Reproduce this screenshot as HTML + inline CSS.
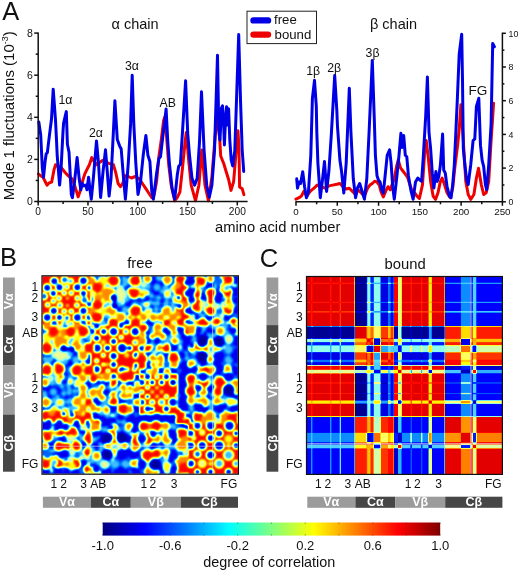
<!DOCTYPE html>
<html><head><meta charset="utf-8"><style>
html,body{margin:0;padding:0;background:#fff;width:520px;height:573px;overflow:hidden}
svg{display:block;will-change:transform}
text{font-family:"Liberation Sans",sans-serif}
</style></head><body><svg width="520" height="573" viewBox="0 0 520 573"><defs><linearGradient id="cbar" x1="0" x2="1" y1="0" y2="0"><stop offset="0.0000" stop-color="rgb(0,0,127)"/><stop offset="0.0312" stop-color="rgb(0,0,159)"/><stop offset="0.0625" stop-color="rgb(0,0,191)"/><stop offset="0.0938" stop-color="rgb(0,0,223)"/><stop offset="0.1250" stop-color="rgb(0,0,255)"/><stop offset="0.1562" stop-color="rgb(0,31,255)"/><stop offset="0.1875" stop-color="rgb(0,63,255)"/><stop offset="0.2188" stop-color="rgb(0,95,255)"/><stop offset="0.2500" stop-color="rgb(0,127,255)"/><stop offset="0.2812" stop-color="rgb(0,159,255)"/><stop offset="0.3125" stop-color="rgb(0,191,255)"/><stop offset="0.3438" stop-color="rgb(0,223,255)"/><stop offset="0.3750" stop-color="rgb(0,255,255)"/><stop offset="0.4062" stop-color="rgb(31,255,223)"/><stop offset="0.4375" stop-color="rgb(63,255,191)"/><stop offset="0.4688" stop-color="rgb(95,255,159)"/><stop offset="0.5000" stop-color="rgb(127,255,127)"/><stop offset="0.5312" stop-color="rgb(159,255,95)"/><stop offset="0.5625" stop-color="rgb(191,255,63)"/><stop offset="0.5938" stop-color="rgb(223,255,31)"/><stop offset="0.6250" stop-color="rgb(255,255,0)"/><stop offset="0.6562" stop-color="rgb(255,223,0)"/><stop offset="0.6875" stop-color="rgb(255,191,0)"/><stop offset="0.7188" stop-color="rgb(255,159,0)"/><stop offset="0.7500" stop-color="rgb(255,127,0)"/><stop offset="0.7812" stop-color="rgb(255,95,0)"/><stop offset="0.8125" stop-color="rgb(255,63,0)"/><stop offset="0.8438" stop-color="rgb(255,31,0)"/><stop offset="0.8750" stop-color="rgb(255,0,0)"/><stop offset="0.9062" stop-color="rgb(223,0,0)"/><stop offset="0.9375" stop-color="rgb(191,0,0)"/><stop offset="0.9688" stop-color="rgb(159,0,0)"/><stop offset="1.0000" stop-color="rgb(127,0,0)"/></linearGradient><filter id="jetC" filterUnits="userSpaceOnUse" x="301.0" y="271.0" width="206.89999999999998" height="208.89999999999998" color-interpolation-filters="sRGB">
<feGaussianBlur stdDeviation="0.55"/>
<feComponentTransfer>
<feFuncR type="table" tableValues="0 0 0 0.5 1 1 1 1 0.5"/>
<feFuncG type="table" tableValues="0 0 0.5 1 1 1 0.5 0 0"/>
<feFuncB type="table" tableValues="0.5 1 1 1 0.5 0 0 0 0"/>
<feFuncA type="table" tableValues="1 1"/>
</feComponentTransfer></filter><clipPath id="clipC"><rect x="307.0" y="277.0" width="194.90" height="196.90"/></clipPath><radialGradient id="gN"><stop offset="0" stop-color="rgb(8,8,8)"/><stop offset="0.6" stop-color="rgb(8,8,8)"/><stop offset="1" stop-color="rgb(8,8,8)" stop-opacity="0"/></radialGradient><radialGradient id="gB"><stop offset="0" stop-color="rgb(28,28,28)"/><stop offset="0.6" stop-color="rgb(28,28,28)"/><stop offset="1" stop-color="rgb(28,28,28)" stop-opacity="0"/></radialGradient><radialGradient id="gL"><stop offset="0" stop-color="rgb(56,56,56)"/><stop offset="0.6" stop-color="rgb(56,56,56)"/><stop offset="1" stop-color="rgb(56,56,56)" stop-opacity="0"/></radialGradient><radialGradient id="gC"><stop offset="0" stop-color="rgb(79,79,79)"/><stop offset="0.6" stop-color="rgb(79,79,79)"/><stop offset="1" stop-color="rgb(79,79,79)" stop-opacity="0"/></radialGradient><radialGradient id="gG"><stop offset="0" stop-color="rgb(122,122,122)"/><stop offset="0.6" stop-color="rgb(122,122,122)"/><stop offset="1" stop-color="rgb(122,122,122)" stop-opacity="0"/></radialGradient><radialGradient id="gY"><stop offset="0" stop-color="rgb(158,158,158)"/><stop offset="0.6" stop-color="rgb(158,158,158)"/><stop offset="1" stop-color="rgb(158,158,158)" stop-opacity="0"/></radialGradient><radialGradient id="gO"><stop offset="0" stop-color="rgb(189,189,189)"/><stop offset="0.6" stop-color="rgb(189,189,189)"/><stop offset="1" stop-color="rgb(189,189,189)" stop-opacity="0"/></radialGradient><radialGradient id="gR"><stop offset="0" stop-color="rgb(222,222,222)"/><stop offset="0.6" stop-color="rgb(222,222,222)"/><stop offset="1" stop-color="rgb(222,222,222)" stop-opacity="0"/></radialGradient><filter id="jetB" filterUnits="userSpaceOnUse" x="36.5" y="270.3" width="207.4" height="209.39999999999998" color-interpolation-filters="sRGB">
<feGaussianBlur stdDeviation="0.8"/>
<feComponentTransfer>
<feFuncR type="table" tableValues="0 0 0 0.5 1 1 1 1 0.5"/>
<feFuncG type="table" tableValues="0 0 0.5 1 1 1 0.5 0 0"/>
<feFuncB type="table" tableValues="0.5 1 1 1 0.5 0 0 0 0"/>
<feFuncA type="table" tableValues="1 1"/>
</feComponentTransfer></filter><clipPath id="clipB"><rect x="42.5" y="276.3" width="195.40" height="197.40"/></clipPath><filter id="jetB2" filterUnits="userSpaceOnUse" x="36.5" y="270.3" width="207.4" height="209.39999999999998" color-interpolation-filters="sRGB">
<feGaussianBlur stdDeviation="1.6"/>
<feComponentTransfer>
<feFuncR type="table" tableValues="0 0 0 0.5 1 1 1 1 0.5"/>
<feFuncG type="table" tableValues="0 0 0.5 1 1 1 0.5 0 0"/>
<feFuncB type="table" tableValues="0.5 1 1 1 0.5 0 0 0 0"/>

</feComponentTransfer></filter></defs><polyline points="38.4,174.1 40.7,175.7 43.1,177.3 45.4,182 47,185.1 49.3,182.8 51.7,182 54.1,169.4 55.6,164.7 58,166.3 60.3,167 62.7,169.4 65.1,172.5 67.4,174.9 69.8,177.3 72.1,178.8 74.5,185.1 76.5,191.4 78.1,196.9 80,191.4 82.3,182 84.7,174.1 87,169.4 89.4,164.7 91.8,157.6 94.1,161.5 96.5,164.7 98.8,163.1 102,160.8 104.7,160 107.9,163.1 113.4,164.7 115.7,172.5 118.1,183.5 120.4,186.7 122.8,183.5 125.1,175.7 128.3,176.5 131.4,178 135.3,176.5 139.3,178.8 142.4,183.5 145.5,188.2 148.7,193 151.8,197.7 154.2,194.5 156.5,182 158.9,156.8 161.3,139.6 163.6,120.7 164.8,117 166.5,135 168.7,164.5 171.2,185.2 174.7,200.8 177.3,197.3 179.9,192.1 182.5,167.9 185.1,142 186.3,132.4 188.6,159.3 191.2,185.2 195.5,200.8 198.9,185.2 201.8,150 205,185.2 208.5,200.8 211.9,176.6 215.4,133.3 217.3,108 219.9,141.8 220.7,156 223.8,163.8 226.2,171.7 228.6,179.5 231,190.4 233.6,181.8 236.2,150.6 238,130.8 239,150 239.6,187 242.2,188.7 243.9,194.7" fill="none" stroke="#ee0000" stroke-width="3.0" stroke-linejoin="round" stroke-linecap="round"/><polyline points="38.8,122 40.7,134.8 42.3,167.8 43.5,177.3 45.1,161.5 46.2,153.7 47.3,152.9 49.3,136.4 51.5,119 53.2,89.2 55.5,120 56.5,140 57.2,155.3 59.6,185.1 61.1,167.8 63,131.7 63.6,123 64.3,120 66.3,111.6 67.4,144.3 69,152.1 71.3,194.5 72.4,197.7 74.5,182 77.1,157.6 79.2,178.8 80.8,189.8 82.3,183.5 83.9,185.9 85.9,185.1 87,189.8 88.6,177.3 90.2,191.4 91.3,199.2 93.3,178.8 96.5,141 98.5,163.1 100.6,197.5 103.1,171 105.5,149.8 107.1,169.4 109.1,196.1 111,178.8 113.4,131.7 114.9,100.8 117.3,139.6 119.6,145.8 121.2,149 123.6,178.8 125.4,199.2 128.3,163.1 130.6,123.9 132.2,75.2 133.8,123.9 135.8,163.1 138,194.5 140.5,182 143.2,155.3 145.9,135.5 147.9,155.3 149.9,161.5 151.8,191.4 153.4,199.2 156.5,174.1 158.9,158.4 160.5,156.8 162.4,140 164.3,125 166.1,109 167.8,142 169.5,164.5 172.1,188.7 174.7,199.1 177.3,174.8 178.7,166.2 180.4,164.5 182.5,131.6 185.6,80.8 187.7,133.3 189.4,154.1 192,178.3 194.6,185.2 197.2,178.3 199.5,142 201.5,91.7 204.1,150.6 206.7,185.2 209.3,197.3 211.9,185.2 214.5,150.6 217.5,55.3 218.8,130 220,140 221.5,108 222.5,105.9 223.5,120 224.4,145 225.5,120 226.6,106.7 227.6,125 228.6,108.8 229.8,140 231.2,160 232.7,166 234.8,150.6 236.5,100 238.7,34.6 240.5,100 242.2,150 243.7,171.4" fill="none" stroke="#0000e6" stroke-width="3.0" stroke-linejoin="round" stroke-linecap="round"/><polyline points="295.9,199.2 299.1,197.7 301.4,196.1 303.8,191.4 306.9,196.1 310.1,191.4 314,188.2 317.1,185.1 321.1,186.7 325,188.2 328.9,185.9 332.8,185.1 336.8,184.3 339.9,183.5 343,186.7 346.2,189 349.3,188.2 352.5,191.4 355.6,194.5 358.1,189.8 361.3,193 364.4,196.1 367.6,188.2 369.9,185.1 372.3,183.5 374.6,181.2 377,182 379.3,185.1 380.9,191.4 383.3,196.9 385.6,191.4 388,186.7 390.3,189.8 391.9,185.1 394.3,178.8 396.6,166.3 398.2,160 400.5,167.8 402.9,171 405.3,174.1 407.6,177.3 410,185.1 412.3,191.4 414.7,193 417,196.1 419.4,198.5 422.5,184.6 424.9,148.7 426.2,140.5 428.2,156.9 430.6,181.4 433.1,196.1 435.5,199.4 438,192.8 440.4,181.4 442.1,178.1 444.5,184.6 447,192.8 450.2,197.7 452.7,187.9 455.1,165 457.6,145.4 459.2,129.1 460.9,104.8 463.3,140.5 465.8,181.4 468.2,194.5 470.7,199.4 473.9,194.5 476.4,178.1 478.5,168.3 481.3,184.6 483.7,194.5 486.2,192.8 488.7,181.4 491.1,140.5 493.6,103.2" fill="none" stroke="#ee0000" stroke-width="3.0" stroke-linejoin="round" stroke-linecap="round"/><polyline points="296.7,178.8 297.5,188.2 299.1,182 300.6,183.5 302.7,171.8 304.6,186.7 306.4,197.7 308.5,191.4 310.8,155.3 312.4,98.4 314.5,80.3 316.3,106.3 316.8,131.7 317.9,163.1 320.3,197.7 322.6,178.8 324.5,161.5 326.6,191.4 328.9,171 331.3,134.8 334.7,75.6 336.8,110 337.5,126.7 339.9,160 341.5,171 343.8,193 346.2,163.1 349.3,88.2 350.9,131.7 353.3,178.8 355.6,197.7 357.4,188.2 359.7,183.5 362.1,191.4 364.4,199.2 366.8,178.8 369.1,131.7 372.3,60.4 374.2,116 375.4,155.3 377,175.7 378.6,180.4 380.1,182 381.7,189.8 383.3,193 384.8,178.8 387.2,155.3 389.6,149.8 391.1,163.1 392.7,186.7 394.3,199.2 396.6,178.8 399,155.3 400.9,133.3 402.1,147.4 403.7,135.6 405.3,155.3 406.8,156.8 408.4,175.7 410.8,189.8 413.1,199.2 415.5,182 417.8,178 420.2,180.4 421.6,181.4 423.3,156.9 425.7,116 427.4,77 429,132.3 430.6,148.7 432.3,173.2 433.9,187.9 435.9,171.6 437.2,181.4 438.8,176.5 440.4,165 442.6,134 443.7,170 445.3,173.2 447,186.3 449.4,196.1 451.1,197.7 452.7,184.6 454.3,165 456,129.1 457.3,100 459.2,54.2 461.7,34.2 462.5,80 463.3,148.7 464.9,165 466.6,179.7 468.2,184.6 470.7,165 473.1,140.5 474.8,138.9 476.4,106.5 478.8,98.3 480.5,145.4 482.1,160.1 483.7,166.7 485.4,184.6 486.7,189.6 488.7,165 491.1,124.2 492.7,43.5 494.4,46.8" fill="none" stroke="#0000e6" stroke-width="3.0" stroke-linejoin="round" stroke-linecap="round"/><g stroke="#111" stroke-width="1.5" fill="none"><line x1="38.2" y1="32.39999999999999" x2="38.2" y2="202.2" /><line x1="34.2" y1="201.50" x2="38.2" y2="201.50" /><line x1="35.7" y1="180.45" x2="38.2" y2="180.45" /><line x1="34.2" y1="159.40" x2="38.2" y2="159.40" /><line x1="35.7" y1="138.35" x2="38.2" y2="138.35" /><line x1="34.2" y1="117.30" x2="38.2" y2="117.30" /><line x1="35.7" y1="96.25" x2="38.2" y2="96.25" /><line x1="34.2" y1="75.20" x2="38.2" y2="75.20" /><line x1="35.7" y1="54.15" x2="38.2" y2="54.15" /><line x1="34.2" y1="33.10" x2="38.2" y2="33.10" /><line x1="37.5" y1="201.5" x2="247.6" y2="201.5" /><line x1="38.20" y1="201.5" x2="38.20" y2="205.5" /><line x1="63.09" y1="201.5" x2="63.09" y2="204.0" /><line x1="87.98" y1="201.5" x2="87.98" y2="205.5" /><line x1="112.86" y1="201.5" x2="112.86" y2="204.0" /><line x1="137.75" y1="201.5" x2="137.75" y2="205.5" /><line x1="162.64" y1="201.5" x2="162.64" y2="204.0" /><line x1="187.53" y1="201.5" x2="187.53" y2="205.5" /><line x1="212.41" y1="201.5" x2="212.41" y2="204.0" /><line x1="237.30" y1="201.5" x2="237.30" y2="205.5" /><line x1="295.4" y1="201.8" x2="503.10" y2="201.8" /><line x1="296.00" y1="201.8" x2="296.00" y2="205.8" /><line x1="316.64" y1="201.8" x2="316.64" y2="204.3" /><line x1="337.28" y1="201.8" x2="337.28" y2="205.8" /><line x1="357.92" y1="201.8" x2="357.92" y2="204.3" /><line x1="378.56" y1="201.8" x2="378.56" y2="205.8" /><line x1="399.20" y1="201.8" x2="399.20" y2="204.3" /><line x1="419.84" y1="201.8" x2="419.84" y2="205.8" /><line x1="440.48" y1="201.8" x2="440.48" y2="204.3" /><line x1="461.12" y1="201.8" x2="461.12" y2="205.8" /><line x1="481.76" y1="201.8" x2="481.76" y2="204.3" /><line x1="502.40" y1="201.8" x2="502.40" y2="205.8" /><line x1="502.40" y1="32.60" x2="502.40" y2="201.8" /><line x1="502.40" y1="201.80" x2="505.90" y2="201.80" /><line x1="502.40" y1="184.95" x2="504.40" y2="184.95" /><line x1="502.40" y1="168.10" x2="505.90" y2="168.10" /><line x1="502.40" y1="151.25" x2="504.40" y2="151.25" /><line x1="502.40" y1="134.40" x2="505.90" y2="134.40" /><line x1="502.40" y1="117.55" x2="504.40" y2="117.55" /><line x1="502.40" y1="100.70" x2="505.90" y2="100.70" /><line x1="502.40" y1="83.85" x2="504.40" y2="83.85" /><line x1="502.40" y1="67.00" x2="505.90" y2="67.00" /><line x1="502.40" y1="50.15" x2="504.40" y2="50.15" /><line x1="502.40" y1="33.30" x2="505.90" y2="33.30" /></g><rect x="3.0" y="277.5" width="11.8" height="47.6" fill="#9b9b9b"/><text transform="translate(13.3,301.3) rotate(-90)" font-size="12.5" font-weight="bold" fill="#fff" text-anchor="middle" font-family="Liberation Sans, sans-serif">Vα</text><rect x="3.0" y="325.1" width="11.8" height="40.2" fill="#464646"/><text transform="translate(13.3,345.2) rotate(-90)" font-size="12.5" font-weight="bold" fill="#fff" text-anchor="middle" font-family="Liberation Sans, sans-serif">Cα</text><rect x="3.0" y="365.3" width="11.8" height="49.2" fill="#9b9b9b"/><text transform="translate(13.3,389.9) rotate(-90)" font-size="12.5" font-weight="bold" fill="#fff" text-anchor="middle" font-family="Liberation Sans, sans-serif">Vβ</text><rect x="3.0" y="414.5" width="11.8" height="57.2" fill="#464646"/><text transform="translate(13.3,443.1) rotate(-90)" font-size="12.5" font-weight="bold" fill="#fff" text-anchor="middle" font-family="Liberation Sans, sans-serif">Cβ</text><rect x="42.9" y="496.7" width="48.1" height="11.1" fill="#9b9b9b"/><text x="67.0" y="506.4" font-size="12.5" font-weight="bold" fill="#fff" text-anchor="middle" font-family="Liberation Sans, sans-serif">Vα</text><rect x="91.0" y="496.7" width="39.8" height="11.1" fill="#464646"/><text x="110.9" y="506.4" font-size="12.5" font-weight="bold" fill="#fff" text-anchor="middle" font-family="Liberation Sans, sans-serif">Cα</text><rect x="130.8" y="496.7" width="50.0" height="11.1" fill="#9b9b9b"/><text x="155.8" y="506.4" font-size="12.5" font-weight="bold" fill="#fff" text-anchor="middle" font-family="Liberation Sans, sans-serif">Vβ</text><rect x="180.8" y="496.7" width="57.2" height="11.1" fill="#464646"/><text x="209.4" y="506.4" font-size="12.5" font-weight="bold" fill="#fff" text-anchor="middle" font-family="Liberation Sans, sans-serif">Cβ</text><rect x="266.5" y="277.5" width="11.8" height="47.6" fill="#9b9b9b"/><text transform="translate(276.8,301.3) rotate(-90)" font-size="12.5" font-weight="bold" fill="#fff" text-anchor="middle" font-family="Liberation Sans, sans-serif">Vα</text><rect x="266.5" y="325.1" width="11.8" height="40.2" fill="#464646"/><text transform="translate(276.8,345.2) rotate(-90)" font-size="12.5" font-weight="bold" fill="#fff" text-anchor="middle" font-family="Liberation Sans, sans-serif">Cα</text><rect x="266.5" y="365.3" width="11.8" height="49.2" fill="#9b9b9b"/><text transform="translate(276.8,389.9) rotate(-90)" font-size="12.5" font-weight="bold" fill="#fff" text-anchor="middle" font-family="Liberation Sans, sans-serif">Vβ</text><rect x="266.5" y="414.5" width="11.8" height="57.2" fill="#464646"/><text transform="translate(276.8,443.1) rotate(-90)" font-size="12.5" font-weight="bold" fill="#fff" text-anchor="middle" font-family="Liberation Sans, sans-serif">Cβ</text><rect x="307.3" y="496.7" width="48.1" height="11.1" fill="#9b9b9b"/><text x="331.3" y="506.4" font-size="12.5" font-weight="bold" fill="#fff" text-anchor="middle" font-family="Liberation Sans, sans-serif">Vα</text><rect x="355.4" y="496.7" width="39.8" height="11.1" fill="#464646"/><text x="375.3" y="506.4" font-size="12.5" font-weight="bold" fill="#fff" text-anchor="middle" font-family="Liberation Sans, sans-serif">Cα</text><rect x="395.2" y="496.7" width="50.0" height="11.1" fill="#9b9b9b"/><text x="420.2" y="506.4" font-size="12.5" font-weight="bold" fill="#fff" text-anchor="middle" font-family="Liberation Sans, sans-serif">Vβ</text><rect x="445.2" y="496.7" width="57.2" height="11.1" fill="#464646"/><text x="473.8" y="506.4" font-size="12.5" font-weight="bold" fill="#fff" text-anchor="middle" font-family="Liberation Sans, sans-serif">Cβ</text><g font-family="Liberation Sans, sans-serif" fill="#111"><text x="2.3" y="19.8" font-size="25.5" text-anchor="start" >A</text><text x="0" y="266" font-size="25.5" text-anchor="start" >B</text><text x="259.7" y="266.6" font-size="25.5" text-anchor="start" >C</text><text x="32.9" y="205.1" font-size="10.5" text-anchor="end" >0</text><text x="32.9" y="163.0" font-size="10.5" text-anchor="end" >2</text><text x="32.9" y="120.89999999999999" font-size="10.5" text-anchor="end" >4</text><text x="32.9" y="78.79999999999998" font-size="10.5" text-anchor="end" >6</text><text x="32.9" y="36.699999999999996" font-size="10.5" text-anchor="end" >8</text><text x="38.2" y="214.9" font-size="10.2" text-anchor="middle" >0</text><text x="87.97500000000001" y="214.9" font-size="10.2" text-anchor="middle" >50</text><text x="137.75" y="214.9" font-size="10.2" text-anchor="middle" >100</text><text x="187.52500000000003" y="214.9" font-size="10.2" text-anchor="middle" >150</text><text x="237.3" y="214.9" font-size="10.2" text-anchor="middle" >200</text><text x="296.0" y="215.0" font-size="9.8" text-anchor="middle" >0</text><text x="337.28" y="215.0" font-size="9.8" text-anchor="middle" >50</text><text x="378.56" y="215.0" font-size="9.8" text-anchor="middle" >100</text><text x="419.84000000000003" y="215.0" font-size="9.8" text-anchor="middle" >150</text><text x="461.12" y="215.0" font-size="9.8" text-anchor="middle" >200</text><text x="502.4" y="215.0" font-size="9.8" text-anchor="middle" >250</text><text x="508.6" y="205.0" font-size="8.8" text-anchor="start" >0</text><text x="508.6" y="171.3" font-size="8.8" text-anchor="start" >2</text><text x="508.6" y="137.6" font-size="8.8" text-anchor="start" >4</text><text x="508.6" y="103.9" font-size="8.8" text-anchor="start" >6</text><text x="508.6" y="70.2" font-size="8.8" text-anchor="start" >8</text><text x="508.6" y="36.500000000000014" font-size="8.8" text-anchor="start" >10</text><text x="111.5" y="28.6" font-size="14.5" text-anchor="start" >α chain</text><text x="370" y="28.6" font-size="14.5" text-anchor="start" >β chain</text><text x="215" y="231.6" font-size="14.75" text-anchor="start" >amino acid number</text><text transform="translate(14.2,200.2) rotate(-90)" font-size="15">Mode 1 fluctuations (10<tspan font-size="9" dy="-6">-3</tspan><tspan dy="6">)</tspan></text><text x="58.5" y="104" font-size="12.3" text-anchor="start" >1α</text><text x="89" y="137.2" font-size="12.3" text-anchor="start" >2α</text><text x="125" y="70.4" font-size="12.3" text-anchor="start" >3α</text><text x="159.6" y="106.7" font-size="12.3" text-anchor="start" >AB</text><text x="306.2" y="74.8" font-size="12.3" text-anchor="start" >1β</text><text x="327.2" y="71.5" font-size="12.3" text-anchor="start" >2β</text><text x="365.6" y="57" font-size="12.3" text-anchor="start" >3β</text><text x="468.5" y="95.3" font-size="13.6" text-anchor="start" >FG</text><text x="38.3" y="290.6" font-size="12" text-anchor="end" >1</text><text x="38.3" y="302" font-size="12" text-anchor="end" >2</text><text x="38.3" y="321" font-size="12" text-anchor="end" >3</text><text x="38.3" y="336.5" font-size="12" text-anchor="end" >AB</text><text x="38.3" y="382" font-size="12" text-anchor="end" >1</text><text x="38.3" y="393" font-size="12" text-anchor="end" >2</text><text x="38.3" y="411.8" font-size="12" text-anchor="end" >3</text><text x="38.3" y="468" font-size="12" text-anchor="end" >FG</text><text x="53.9" y="487.5" font-size="12" text-anchor="middle" >1</text><text x="63.5" y="487.5" font-size="12" text-anchor="middle" >2</text><text x="83.5" y="487.5" font-size="12" text-anchor="middle" >3</text><text x="98.3" y="487.5" font-size="12" text-anchor="middle" >AB</text><text x="143.8" y="487.5" font-size="12" text-anchor="middle" >1</text><text x="152.9" y="487.5" font-size="12" text-anchor="middle" >2</text><text x="174.2" y="487.5" font-size="12" text-anchor="middle" >3</text><text x="228.9" y="487.5" font-size="12" text-anchor="middle" >FG</text><text x="302.7" y="290.6" font-size="12" text-anchor="end" >1</text><text x="302.7" y="302" font-size="12" text-anchor="end" >2</text><text x="302.7" y="321" font-size="12" text-anchor="end" >3</text><text x="302.7" y="336.5" font-size="12" text-anchor="end" >AB</text><text x="302.7" y="382" font-size="12" text-anchor="end" >1</text><text x="302.7" y="393" font-size="12" text-anchor="end" >2</text><text x="302.7" y="411.8" font-size="12" text-anchor="end" >3</text><text x="302.7" y="468" font-size="12" text-anchor="end" >FG</text><text x="318.3" y="487.5" font-size="12" text-anchor="middle" >1</text><text x="327.9" y="487.5" font-size="12" text-anchor="middle" >2</text><text x="347.8" y="487.5" font-size="12" text-anchor="middle" >3</text><text x="362.8" y="487.5" font-size="12" text-anchor="middle" >AB</text><text x="408.2" y="487.5" font-size="12" text-anchor="middle" >1</text><text x="417.3" y="487.5" font-size="12" text-anchor="middle" >2</text><text x="438.5" y="487.5" font-size="12" text-anchor="middle" >3</text><text x="493.3" y="487.5" font-size="12" text-anchor="middle" >FG</text><text x="140" y="267.6" font-size="14.8" text-anchor="middle" >free</text><text x="405.1" y="268.5" font-size="14.8" text-anchor="middle" >bound</text></g><rect x="247" y="11.2" width="69.5" height="32.4" fill="#fff" stroke="#222" stroke-width="1"/><line x1="253.5" y1="20.4" x2="268" y2="20.4" stroke="#0000e6" stroke-width="6.4" stroke-linecap="round"/><line x1="253.5" y1="34.6" x2="268" y2="34.6" stroke="#ee0000" stroke-width="6.4" stroke-linecap="round"/><text x="274" y="23.9" font-size="13.2" font-family="Liberation Sans, sans-serif" fill="#111">free</text><text x="274.6" y="38.9" font-size="13.2" font-family="Liberation Sans, sans-serif" fill="#111">bound</text><rect x="102.7" y="522.5" width="337.5" height="13.1" fill="url(#cbar)"/><g stroke="#333" stroke-width="0.6" opacity="0.7"><line x1="102.7" y1="522.5" x2="102.7" y2="524" /><line x1="102.7" y1="534.1" x2="102.7" y2="535.6" /><line x1="136.4" y1="522.5" x2="136.4" y2="524" /><line x1="136.4" y1="534.1" x2="136.4" y2="535.6" /><line x1="170.2" y1="522.5" x2="170.2" y2="524" /><line x1="170.2" y1="534.1" x2="170.2" y2="535.6" /><line x1="203.9" y1="522.5" x2="203.9" y2="524" /><line x1="203.9" y1="534.1" x2="203.9" y2="535.6" /><line x1="237.7" y1="522.5" x2="237.7" y2="524" /><line x1="237.7" y1="534.1" x2="237.7" y2="535.6" /><line x1="271.4" y1="522.5" x2="271.4" y2="524" /><line x1="271.4" y1="534.1" x2="271.4" y2="535.6" /><line x1="305.2" y1="522.5" x2="305.2" y2="524" /><line x1="305.2" y1="534.1" x2="305.2" y2="535.6" /><line x1="338.9" y1="522.5" x2="338.9" y2="524" /><line x1="338.9" y1="534.1" x2="338.9" y2="535.6" /><line x1="372.7" y1="522.5" x2="372.7" y2="524" /><line x1="372.7" y1="534.1" x2="372.7" y2="535.6" /><line x1="406.4" y1="522.5" x2="406.4" y2="524" /><line x1="406.4" y1="534.1" x2="406.4" y2="535.6" /><line x1="440.2" y1="522.5" x2="440.2" y2="524" /><line x1="440.2" y1="534.1" x2="440.2" y2="535.6" /></g><text x="102.7" y="549.6" font-size="13" text-anchor="middle" font-family="Liberation Sans, sans-serif" fill="#111">-1.0</text><text x="170.2" y="549.6" font-size="13" text-anchor="middle" font-family="Liberation Sans, sans-serif" fill="#111">-0.6</text><text x="237.7" y="549.6" font-size="13" text-anchor="middle" font-family="Liberation Sans, sans-serif" fill="#111">-0.2</text><text x="305.2" y="549.6" font-size="13" text-anchor="middle" font-family="Liberation Sans, sans-serif" fill="#111">0.2</text><text x="372.7" y="549.6" font-size="13" text-anchor="middle" font-family="Liberation Sans, sans-serif" fill="#111">0.6</text><text x="440.2" y="549.6" font-size="13" text-anchor="middle" font-family="Liberation Sans, sans-serif" fill="#111">1.0</text><text x="203.3" y="567" font-size="14.4" font-family="Liberation Sans, sans-serif" fill="#111">degree of correlation</text><g clip-path="url(#clipC)"><g filter="url(#jetC)"><rect x="303.00" y="273.00" width="8.20" height="9.71" fill="rgb(230,230,230)"/><rect x="303.00" y="282.71" width="8.20" height="1.40" fill="rgb(218,218,218)"/><rect x="303.00" y="284.12" width="8.20" height="17.65" fill="rgb(230,230,230)"/><rect x="303.00" y="301.77" width="8.20" height="1.40" fill="rgb(218,218,218)"/><rect x="303.00" y="303.17" width="8.20" height="8.12" fill="rgb(230,230,230)"/><rect x="303.00" y="311.30" width="8.20" height="1.40" fill="rgb(207,207,207)"/><rect x="303.00" y="312.70" width="8.20" height="13.74" fill="rgb(230,230,230)"/><rect x="303.00" y="326.44" width="8.20" height="11.63" fill="rgb(5,5,5)"/><rect x="303.00" y="338.08" width="8.20" height="1.00" fill="rgb(32,32,32)"/><rect x="303.00" y="339.08" width="8.20" height="3.21" fill="rgb(100,100,100)"/><rect x="303.00" y="342.29" width="8.20" height="3.21" fill="rgb(38,38,38)"/><rect x="303.00" y="345.50" width="8.20" height="6.92" fill="rgb(100,100,100)"/><rect x="303.00" y="352.42" width="8.20" height="7.32" fill="rgb(25,25,25)"/><rect x="303.00" y="359.74" width="8.20" height="2.71" fill="rgb(61,61,61)"/><rect x="303.00" y="362.45" width="8.20" height="3.21" fill="rgb(27,27,27)"/><rect x="303.00" y="365.66" width="8.20" height="4.21" fill="rgb(224,224,224)"/><rect x="303.00" y="369.87" width="8.20" height="3.61" fill="rgb(123,123,123)"/><rect x="303.00" y="373.48" width="8.20" height="8.93" fill="rgb(230,230,230)"/><rect x="303.00" y="382.41" width="8.20" height="1.40" fill="rgb(218,218,218)"/><rect x="303.00" y="383.81" width="8.20" height="9.13" fill="rgb(230,230,230)"/><rect x="303.00" y="392.94" width="8.20" height="1.40" fill="rgb(218,218,218)"/><rect x="303.00" y="394.35" width="8.20" height="6.22" fill="rgb(230,230,230)"/><rect x="303.00" y="400.57" width="8.20" height="3.21" fill="rgb(162,162,162)"/><rect x="303.00" y="403.77" width="8.20" height="12.94" fill="rgb(230,230,230)"/><rect x="303.00" y="416.71" width="8.20" height="16.15" fill="rgb(32,32,32)"/><rect x="303.00" y="432.86" width="8.20" height="9.43" fill="rgb(67,67,67)"/><rect x="303.00" y="442.29" width="8.20" height="1.30" fill="rgb(38,38,38)"/><rect x="303.00" y="443.59" width="8.20" height="1.20" fill="rgb(32,32,32)"/><rect x="303.00" y="444.80" width="8.20" height="3.71" fill="rgb(84,84,84)"/><rect x="303.00" y="448.51" width="8.20" height="29.39" fill="rgb(32,32,32)"/><rect x="311.20" y="273.00" width="1.40" height="9.71" fill="rgb(218,218,218)"/><rect x="311.20" y="282.71" width="1.40" height="1.40" fill="rgb(230,230,230)"/><rect x="311.20" y="284.12" width="1.40" height="17.65" fill="rgb(218,218,218)"/><rect x="311.20" y="301.77" width="1.40" height="1.40" fill="rgb(230,230,230)"/><rect x="311.20" y="303.17" width="1.40" height="8.12" fill="rgb(218,218,218)"/><rect x="311.20" y="311.30" width="1.40" height="1.40" fill="rgb(227,227,227)"/><rect x="311.20" y="312.70" width="1.40" height="13.74" fill="rgb(218,218,218)"/><rect x="311.20" y="326.44" width="1.40" height="11.63" fill="rgb(16,16,16)"/><rect x="311.20" y="338.08" width="1.40" height="1.00" fill="rgb(66,66,66)"/><rect x="311.20" y="339.08" width="1.40" height="3.21" fill="rgb(143,143,143)"/><rect x="311.20" y="342.29" width="1.40" height="3.21" fill="rgb(77,77,77)"/><rect x="311.20" y="345.50" width="1.40" height="6.92" fill="rgb(77,77,77)"/><rect x="311.20" y="352.42" width="1.40" height="7.32" fill="rgb(57,57,57)"/><rect x="311.20" y="359.74" width="1.40" height="2.71" fill="rgb(109,109,109)"/><rect x="311.20" y="362.45" width="1.40" height="3.21" fill="rgb(64,64,64)"/><rect x="311.20" y="365.66" width="1.40" height="4.21" fill="rgb(206,206,206)"/><rect x="311.20" y="369.87" width="1.40" height="3.61" fill="rgb(114,114,114)"/><rect x="311.20" y="373.48" width="1.40" height="8.93" fill="rgb(218,218,218)"/><rect x="311.20" y="382.41" width="1.40" height="1.40" fill="rgb(209,209,209)"/><rect x="311.20" y="383.81" width="1.40" height="9.13" fill="rgb(218,218,218)"/><rect x="311.20" y="392.94" width="1.40" height="1.40" fill="rgb(209,209,209)"/><rect x="311.20" y="394.35" width="1.40" height="6.22" fill="rgb(218,218,218)"/><rect x="311.20" y="400.57" width="1.40" height="3.21" fill="rgb(179,179,179)"/><rect x="311.20" y="403.77" width="1.40" height="12.94" fill="rgb(218,218,218)"/><rect x="311.20" y="416.71" width="1.40" height="16.15" fill="rgb(71,71,71)"/><rect x="311.20" y="432.86" width="1.40" height="9.43" fill="rgb(82,82,82)"/><rect x="311.20" y="442.29" width="1.40" height="1.30" fill="rgb(71,71,71)"/><rect x="311.20" y="443.59" width="1.40" height="1.20" fill="rgb(72,72,72)"/><rect x="311.20" y="444.80" width="1.40" height="3.71" fill="rgb(87,87,87)"/><rect x="311.20" y="448.51" width="1.40" height="29.39" fill="rgb(71,71,71)"/><rect x="312.60" y="273.00" width="17.60" height="9.71" fill="rgb(230,230,230)"/><rect x="312.60" y="282.71" width="17.60" height="1.40" fill="rgb(218,218,218)"/><rect x="312.60" y="284.12" width="17.60" height="17.65" fill="rgb(230,230,230)"/><rect x="312.60" y="301.77" width="17.60" height="1.40" fill="rgb(218,218,218)"/><rect x="312.60" y="303.17" width="17.60" height="8.12" fill="rgb(230,230,230)"/><rect x="312.60" y="311.30" width="17.60" height="1.40" fill="rgb(207,207,207)"/><rect x="312.60" y="312.70" width="17.60" height="13.74" fill="rgb(230,230,230)"/><rect x="312.60" y="326.44" width="17.60" height="11.63" fill="rgb(5,5,5)"/><rect x="312.60" y="338.08" width="17.60" height="1.00" fill="rgb(32,32,32)"/><rect x="312.60" y="339.08" width="17.60" height="3.21" fill="rgb(100,100,100)"/><rect x="312.60" y="342.29" width="17.60" height="3.21" fill="rgb(38,38,38)"/><rect x="312.60" y="345.50" width="17.60" height="6.92" fill="rgb(100,100,100)"/><rect x="312.60" y="352.42" width="17.60" height="7.32" fill="rgb(25,25,25)"/><rect x="312.60" y="359.74" width="17.60" height="2.71" fill="rgb(61,61,61)"/><rect x="312.60" y="362.45" width="17.60" height="3.21" fill="rgb(27,27,27)"/><rect x="312.60" y="365.66" width="17.60" height="4.21" fill="rgb(224,224,224)"/><rect x="312.60" y="369.87" width="17.60" height="3.61" fill="rgb(123,123,123)"/><rect x="312.60" y="373.48" width="17.60" height="8.93" fill="rgb(230,230,230)"/><rect x="312.60" y="382.41" width="17.60" height="1.40" fill="rgb(218,218,218)"/><rect x="312.60" y="383.81" width="17.60" height="9.13" fill="rgb(230,230,230)"/><rect x="312.60" y="392.94" width="17.60" height="1.40" fill="rgb(218,218,218)"/><rect x="312.60" y="394.35" width="17.60" height="6.22" fill="rgb(230,230,230)"/><rect x="312.60" y="400.57" width="17.60" height="3.21" fill="rgb(162,162,162)"/><rect x="312.60" y="403.77" width="17.60" height="12.94" fill="rgb(230,230,230)"/><rect x="312.60" y="416.71" width="17.60" height="16.15" fill="rgb(32,32,32)"/><rect x="312.60" y="432.86" width="17.60" height="9.43" fill="rgb(67,67,67)"/><rect x="312.60" y="442.29" width="17.60" height="1.30" fill="rgb(38,38,38)"/><rect x="312.60" y="443.59" width="17.60" height="1.20" fill="rgb(32,32,32)"/><rect x="312.60" y="444.80" width="17.60" height="3.71" fill="rgb(84,84,84)"/><rect x="312.60" y="448.51" width="17.60" height="29.39" fill="rgb(32,32,32)"/><rect x="330.20" y="273.00" width="1.40" height="9.71" fill="rgb(218,218,218)"/><rect x="330.20" y="282.71" width="1.40" height="1.40" fill="rgb(230,230,230)"/><rect x="330.20" y="284.12" width="1.40" height="17.65" fill="rgb(218,218,218)"/><rect x="330.20" y="301.77" width="1.40" height="1.40" fill="rgb(230,230,230)"/><rect x="330.20" y="303.17" width="1.40" height="8.12" fill="rgb(218,218,218)"/><rect x="330.20" y="311.30" width="1.40" height="1.40" fill="rgb(227,227,227)"/><rect x="330.20" y="312.70" width="1.40" height="13.74" fill="rgb(218,218,218)"/><rect x="330.20" y="326.44" width="1.40" height="11.63" fill="rgb(16,16,16)"/><rect x="330.20" y="338.08" width="1.40" height="1.00" fill="rgb(66,66,66)"/><rect x="330.20" y="339.08" width="1.40" height="3.21" fill="rgb(143,143,143)"/><rect x="330.20" y="342.29" width="1.40" height="3.21" fill="rgb(77,77,77)"/><rect x="330.20" y="345.50" width="1.40" height="6.92" fill="rgb(77,77,77)"/><rect x="330.20" y="352.42" width="1.40" height="7.32" fill="rgb(57,57,57)"/><rect x="330.20" y="359.74" width="1.40" height="2.71" fill="rgb(109,109,109)"/><rect x="330.20" y="362.45" width="1.40" height="3.21" fill="rgb(64,64,64)"/><rect x="330.20" y="365.66" width="1.40" height="4.21" fill="rgb(206,206,206)"/><rect x="330.20" y="369.87" width="1.40" height="3.61" fill="rgb(114,114,114)"/><rect x="330.20" y="373.48" width="1.40" height="8.93" fill="rgb(218,218,218)"/><rect x="330.20" y="382.41" width="1.40" height="1.40" fill="rgb(209,209,209)"/><rect x="330.20" y="383.81" width="1.40" height="9.13" fill="rgb(218,218,218)"/><rect x="330.20" y="392.94" width="1.40" height="1.40" fill="rgb(209,209,209)"/><rect x="330.20" y="394.35" width="1.40" height="6.22" fill="rgb(218,218,218)"/><rect x="330.20" y="400.57" width="1.40" height="3.21" fill="rgb(179,179,179)"/><rect x="330.20" y="403.77" width="1.40" height="12.94" fill="rgb(218,218,218)"/><rect x="330.20" y="416.71" width="1.40" height="16.15" fill="rgb(71,71,71)"/><rect x="330.20" y="432.86" width="1.40" height="9.43" fill="rgb(82,82,82)"/><rect x="330.20" y="442.29" width="1.40" height="1.30" fill="rgb(71,71,71)"/><rect x="330.20" y="443.59" width="1.40" height="1.20" fill="rgb(72,72,72)"/><rect x="330.20" y="444.80" width="1.40" height="3.71" fill="rgb(87,87,87)"/><rect x="330.20" y="448.51" width="1.40" height="29.39" fill="rgb(71,71,71)"/><rect x="331.60" y="273.00" width="8.10" height="9.71" fill="rgb(230,230,230)"/><rect x="331.60" y="282.71" width="8.10" height="1.40" fill="rgb(218,218,218)"/><rect x="331.60" y="284.12" width="8.10" height="17.65" fill="rgb(230,230,230)"/><rect x="331.60" y="301.77" width="8.10" height="1.40" fill="rgb(218,218,218)"/><rect x="331.60" y="303.17" width="8.10" height="8.12" fill="rgb(230,230,230)"/><rect x="331.60" y="311.30" width="8.10" height="1.40" fill="rgb(207,207,207)"/><rect x="331.60" y="312.70" width="8.10" height="13.74" fill="rgb(230,230,230)"/><rect x="331.60" y="326.44" width="8.10" height="11.63" fill="rgb(5,5,5)"/><rect x="331.60" y="338.08" width="8.10" height="1.00" fill="rgb(32,32,32)"/><rect x="331.60" y="339.08" width="8.10" height="3.21" fill="rgb(100,100,100)"/><rect x="331.60" y="342.29" width="8.10" height="3.21" fill="rgb(38,38,38)"/><rect x="331.60" y="345.50" width="8.10" height="6.92" fill="rgb(100,100,100)"/><rect x="331.60" y="352.42" width="8.10" height="7.32" fill="rgb(25,25,25)"/><rect x="331.60" y="359.74" width="8.10" height="2.71" fill="rgb(61,61,61)"/><rect x="331.60" y="362.45" width="8.10" height="3.21" fill="rgb(27,27,27)"/><rect x="331.60" y="365.66" width="8.10" height="4.21" fill="rgb(224,224,224)"/><rect x="331.60" y="369.87" width="8.10" height="3.61" fill="rgb(123,123,123)"/><rect x="331.60" y="373.48" width="8.10" height="8.93" fill="rgb(230,230,230)"/><rect x="331.60" y="382.41" width="8.10" height="1.40" fill="rgb(218,218,218)"/><rect x="331.60" y="383.81" width="8.10" height="9.13" fill="rgb(230,230,230)"/><rect x="331.60" y="392.94" width="8.10" height="1.40" fill="rgb(218,218,218)"/><rect x="331.60" y="394.35" width="8.10" height="6.22" fill="rgb(230,230,230)"/><rect x="331.60" y="400.57" width="8.10" height="3.21" fill="rgb(162,162,162)"/><rect x="331.60" y="403.77" width="8.10" height="12.94" fill="rgb(230,230,230)"/><rect x="331.60" y="416.71" width="8.10" height="16.15" fill="rgb(32,32,32)"/><rect x="331.60" y="432.86" width="8.10" height="9.43" fill="rgb(67,67,67)"/><rect x="331.60" y="442.29" width="8.10" height="1.30" fill="rgb(38,38,38)"/><rect x="331.60" y="443.59" width="8.10" height="1.20" fill="rgb(32,32,32)"/><rect x="331.60" y="444.80" width="8.10" height="3.71" fill="rgb(84,84,84)"/><rect x="331.60" y="448.51" width="8.10" height="29.39" fill="rgb(32,32,32)"/><rect x="339.70" y="273.00" width="1.40" height="9.71" fill="rgb(207,207,207)"/><rect x="339.70" y="282.71" width="1.40" height="1.40" fill="rgb(227,227,227)"/><rect x="339.70" y="284.12" width="1.40" height="17.65" fill="rgb(207,207,207)"/><rect x="339.70" y="301.77" width="1.40" height="1.40" fill="rgb(227,227,227)"/><rect x="339.70" y="303.17" width="1.40" height="8.12" fill="rgb(207,207,207)"/><rect x="339.70" y="311.30" width="1.40" height="1.40" fill="rgb(230,230,230)"/><rect x="339.70" y="312.70" width="1.40" height="13.74" fill="rgb(207,207,207)"/><rect x="339.70" y="326.44" width="1.40" height="11.63" fill="rgb(28,28,28)"/><rect x="339.70" y="338.08" width="1.40" height="1.00" fill="rgb(84,84,84)"/><rect x="339.70" y="339.08" width="1.40" height="3.21" fill="rgb(159,159,159)"/><rect x="339.70" y="342.29" width="1.40" height="3.21" fill="rgb(96,96,96)"/><rect x="339.70" y="345.50" width="1.40" height="6.92" fill="rgb(71,71,71)"/><rect x="339.70" y="352.42" width="1.40" height="7.32" fill="rgb(74,74,74)"/><rect x="339.70" y="359.74" width="1.40" height="2.71" fill="rgb(130,130,130)"/><rect x="339.70" y="362.45" width="1.40" height="3.21" fill="rgb(83,83,83)"/><rect x="339.70" y="365.66" width="1.40" height="4.21" fill="rgb(192,192,192)"/><rect x="339.70" y="369.87" width="1.40" height="3.61" fill="rgb(108,108,108)"/><rect x="339.70" y="373.48" width="1.40" height="8.93" fill="rgb(207,207,207)"/><rect x="339.70" y="382.41" width="1.40" height="1.40" fill="rgb(201,201,201)"/><rect x="339.70" y="383.81" width="1.40" height="9.13" fill="rgb(207,207,207)"/><rect x="339.70" y="392.94" width="1.40" height="1.40" fill="rgb(201,201,201)"/><rect x="339.70" y="394.35" width="1.40" height="6.22" fill="rgb(207,207,207)"/><rect x="339.70" y="400.57" width="1.40" height="3.21" fill="rgb(183,183,183)"/><rect x="339.70" y="403.77" width="1.40" height="12.94" fill="rgb(207,207,207)"/><rect x="339.70" y="416.71" width="1.40" height="16.15" fill="rgb(91,91,91)"/><rect x="339.70" y="432.86" width="1.40" height="9.43" fill="rgb(92,92,92)"/><rect x="339.70" y="442.29" width="1.40" height="1.30" fill="rgb(90,90,90)"/><rect x="339.70" y="443.59" width="1.40" height="1.20" fill="rgb(92,92,92)"/><rect x="339.70" y="444.80" width="1.40" height="3.71" fill="rgb(89,89,89)"/><rect x="339.70" y="448.51" width="1.40" height="29.39" fill="rgb(91,91,91)"/><rect x="341.10" y="273.00" width="13.70" height="9.71" fill="rgb(230,230,230)"/><rect x="341.10" y="282.71" width="13.70" height="1.40" fill="rgb(218,218,218)"/><rect x="341.10" y="284.12" width="13.70" height="17.65" fill="rgb(230,230,230)"/><rect x="341.10" y="301.77" width="13.70" height="1.40" fill="rgb(218,218,218)"/><rect x="341.10" y="303.17" width="13.70" height="8.12" fill="rgb(230,230,230)"/><rect x="341.10" y="311.30" width="13.70" height="1.40" fill="rgb(207,207,207)"/><rect x="341.10" y="312.70" width="13.70" height="13.74" fill="rgb(230,230,230)"/><rect x="341.10" y="326.44" width="13.70" height="11.63" fill="rgb(5,5,5)"/><rect x="341.10" y="338.08" width="13.70" height="1.00" fill="rgb(32,32,32)"/><rect x="341.10" y="339.08" width="13.70" height="3.21" fill="rgb(100,100,100)"/><rect x="341.10" y="342.29" width="13.70" height="3.21" fill="rgb(38,38,38)"/><rect x="341.10" y="345.50" width="13.70" height="6.92" fill="rgb(100,100,100)"/><rect x="341.10" y="352.42" width="13.70" height="7.32" fill="rgb(25,25,25)"/><rect x="341.10" y="359.74" width="13.70" height="2.71" fill="rgb(61,61,61)"/><rect x="341.10" y="362.45" width="13.70" height="3.21" fill="rgb(27,27,27)"/><rect x="341.10" y="365.66" width="13.70" height="4.21" fill="rgb(224,224,224)"/><rect x="341.10" y="369.87" width="13.70" height="3.61" fill="rgb(123,123,123)"/><rect x="341.10" y="373.48" width="13.70" height="8.93" fill="rgb(230,230,230)"/><rect x="341.10" y="382.41" width="13.70" height="1.40" fill="rgb(218,218,218)"/><rect x="341.10" y="383.81" width="13.70" height="9.13" fill="rgb(230,230,230)"/><rect x="341.10" y="392.94" width="13.70" height="1.40" fill="rgb(218,218,218)"/><rect x="341.10" y="394.35" width="13.70" height="6.22" fill="rgb(230,230,230)"/><rect x="341.10" y="400.57" width="13.70" height="3.21" fill="rgb(162,162,162)"/><rect x="341.10" y="403.77" width="13.70" height="12.94" fill="rgb(230,230,230)"/><rect x="341.10" y="416.71" width="13.70" height="16.15" fill="rgb(32,32,32)"/><rect x="341.10" y="432.86" width="13.70" height="9.43" fill="rgb(67,67,67)"/><rect x="341.10" y="442.29" width="13.70" height="1.30" fill="rgb(38,38,38)"/><rect x="341.10" y="443.59" width="13.70" height="1.20" fill="rgb(32,32,32)"/><rect x="341.10" y="444.80" width="13.70" height="3.71" fill="rgb(84,84,84)"/><rect x="341.10" y="448.51" width="13.70" height="29.39" fill="rgb(32,32,32)"/><rect x="354.80" y="273.00" width="11.60" height="9.71" fill="rgb(5,5,5)"/><rect x="354.80" y="282.71" width="11.60" height="1.40" fill="rgb(16,16,16)"/><rect x="354.80" y="284.12" width="11.60" height="17.65" fill="rgb(5,5,5)"/><rect x="354.80" y="301.77" width="11.60" height="1.40" fill="rgb(16,16,16)"/><rect x="354.80" y="303.17" width="11.60" height="8.12" fill="rgb(5,5,5)"/><rect x="354.80" y="311.30" width="11.60" height="1.40" fill="rgb(28,28,28)"/><rect x="354.80" y="312.70" width="11.60" height="13.74" fill="rgb(5,5,5)"/><rect x="354.80" y="326.44" width="11.60" height="11.63" fill="rgb(230,230,230)"/><rect x="354.80" y="338.08" width="11.60" height="1.00" fill="rgb(203,203,203)"/><rect x="354.80" y="339.08" width="11.60" height="3.21" fill="rgb(173,173,173)"/><rect x="354.80" y="342.29" width="11.60" height="3.21" fill="rgb(197,197,197)"/><rect x="354.80" y="345.50" width="11.60" height="6.92" fill="rgb(134,134,134)"/><rect x="354.80" y="352.42" width="11.60" height="7.32" fill="rgb(209,209,209)"/><rect x="354.80" y="359.74" width="11.60" height="2.71" fill="rgb(174,174,174)"/><rect x="354.80" y="362.45" width="11.60" height="3.21" fill="rgb(208,208,208)"/><rect x="354.80" y="365.66" width="11.60" height="4.21" fill="rgb(11,11,11)"/><rect x="354.80" y="369.87" width="11.60" height="3.61" fill="rgb(112,112,112)"/><rect x="354.80" y="373.48" width="11.60" height="8.93" fill="rgb(5,5,5)"/><rect x="354.80" y="382.41" width="11.60" height="1.40" fill="rgb(16,16,16)"/><rect x="354.80" y="383.81" width="11.60" height="9.13" fill="rgb(5,5,5)"/><rect x="354.80" y="392.94" width="11.60" height="1.40" fill="rgb(16,16,16)"/><rect x="354.80" y="394.35" width="11.60" height="6.22" fill="rgb(5,5,5)"/><rect x="354.80" y="400.57" width="11.60" height="3.21" fill="rgb(73,73,73)"/><rect x="354.80" y="403.77" width="11.60" height="12.94" fill="rgb(5,5,5)"/><rect x="354.80" y="416.71" width="11.60" height="16.15" fill="rgb(216,216,216)"/><rect x="354.80" y="432.86" width="11.60" height="9.43" fill="rgb(168,168,168)"/><rect x="354.80" y="442.29" width="11.60" height="1.30" fill="rgb(197,197,197)"/><rect x="354.80" y="443.59" width="11.60" height="1.20" fill="rgb(213,213,213)"/><rect x="354.80" y="444.80" width="11.60" height="3.71" fill="rgb(151,151,151)"/><rect x="354.80" y="448.51" width="11.60" height="29.39" fill="rgb(216,216,216)"/><rect x="366.40" y="273.00" width="1.00" height="9.71" fill="rgb(32,32,32)"/><rect x="366.40" y="282.71" width="1.00" height="1.40" fill="rgb(66,66,66)"/><rect x="366.40" y="284.12" width="1.00" height="17.65" fill="rgb(32,32,32)"/><rect x="366.40" y="301.77" width="1.00" height="1.40" fill="rgb(66,66,66)"/><rect x="366.40" y="303.17" width="1.00" height="8.12" fill="rgb(32,32,32)"/><rect x="366.40" y="311.30" width="1.00" height="1.40" fill="rgb(84,84,84)"/><rect x="366.40" y="312.70" width="1.00" height="13.74" fill="rgb(32,32,32)"/><rect x="366.40" y="326.44" width="1.00" height="11.63" fill="rgb(203,203,203)"/><rect x="366.40" y="338.08" width="1.00" height="1.00" fill="rgb(229,229,229)"/><rect x="366.40" y="339.08" width="1.00" height="3.21" fill="rgb(202,202,202)"/><rect x="366.40" y="342.29" width="1.00" height="3.21" fill="rgb(228,228,228)"/><rect x="366.40" y="345.50" width="1.00" height="6.92" fill="rgb(64,64,64)"/><rect x="366.40" y="352.42" width="1.00" height="7.32" fill="rgb(229,229,229)"/><rect x="366.40" y="359.74" width="1.00" height="2.71" fill="rgb(206,206,206)"/><rect x="366.40" y="362.45" width="1.00" height="3.21" fill="rgb(227,227,227)"/><rect x="366.40" y="365.66" width="1.00" height="4.21" fill="rgb(39,39,39)"/><rect x="366.40" y="369.87" width="1.00" height="3.61" fill="rgb(144,144,144)"/><rect x="366.40" y="373.48" width="1.00" height="8.93" fill="rgb(32,32,32)"/><rect x="366.40" y="382.41" width="1.00" height="1.40" fill="rgb(24,24,24)"/><rect x="366.40" y="383.81" width="1.00" height="9.13" fill="rgb(32,32,32)"/><rect x="366.40" y="392.94" width="1.00" height="1.40" fill="rgb(24,24,24)"/><rect x="366.40" y="394.35" width="1.00" height="6.22" fill="rgb(32,32,32)"/><rect x="366.40" y="400.57" width="1.00" height="3.21" fill="rgb(74,74,74)"/><rect x="366.40" y="403.77" width="1.00" height="12.94" fill="rgb(32,32,32)"/><rect x="366.40" y="416.71" width="1.00" height="16.15" fill="rgb(212,212,212)"/><rect x="366.40" y="432.86" width="1.00" height="9.43" fill="rgb(131,131,131)"/><rect x="366.40" y="442.29" width="1.00" height="1.30" fill="rgb(188,188,188)"/><rect x="366.40" y="443.59" width="1.00" height="1.20" fill="rgb(224,224,224)"/><rect x="366.40" y="444.80" width="1.00" height="3.71" fill="rgb(183,183,183)"/><rect x="366.40" y="448.51" width="1.00" height="29.39" fill="rgb(209,209,209)"/><rect x="367.40" y="273.00" width="3.20" height="9.71" fill="rgb(100,100,100)"/><rect x="367.40" y="282.71" width="3.20" height="1.40" fill="rgb(143,143,143)"/><rect x="367.40" y="284.12" width="3.20" height="17.65" fill="rgb(100,100,100)"/><rect x="367.40" y="301.77" width="3.20" height="1.40" fill="rgb(143,143,143)"/><rect x="367.40" y="303.17" width="3.20" height="8.12" fill="rgb(100,100,100)"/><rect x="367.40" y="311.30" width="3.20" height="1.40" fill="rgb(159,159,159)"/><rect x="367.40" y="312.70" width="3.20" height="13.74" fill="rgb(100,100,100)"/><rect x="367.40" y="326.44" width="3.20" height="11.63" fill="rgb(173,173,173)"/><rect x="367.40" y="338.08" width="3.20" height="1.00" fill="rgb(202,202,202)"/><rect x="367.40" y="339.08" width="3.20" height="3.21" fill="rgb(230,230,230)"/><rect x="367.40" y="342.29" width="3.20" height="3.21" fill="rgb(207,207,207)"/><rect x="367.40" y="345.50" width="3.20" height="6.92" fill="rgb(22,22,22)"/><rect x="367.40" y="352.42" width="3.20" height="7.32" fill="rgb(195,195,195)"/><rect x="367.40" y="359.74" width="3.20" height="2.71" fill="rgb(200,200,200)"/><rect x="367.40" y="362.45" width="3.20" height="3.21" fill="rgb(194,194,194)"/><rect x="367.40" y="365.66" width="3.20" height="4.21" fill="rgb(103,103,103)"/><rect x="367.40" y="369.87" width="3.20" height="3.61" fill="rgb(158,158,158)"/><rect x="367.40" y="373.48" width="3.20" height="8.93" fill="rgb(100,100,100)"/><rect x="367.40" y="382.41" width="3.20" height="1.40" fill="rgb(79,79,79)"/><rect x="367.40" y="383.81" width="3.20" height="9.13" fill="rgb(100,100,100)"/><rect x="367.40" y="392.94" width="3.20" height="1.40" fill="rgb(79,79,79)"/><rect x="367.40" y="394.35" width="3.20" height="6.22" fill="rgb(100,100,100)"/><rect x="367.40" y="400.57" width="3.20" height="3.21" fill="rgb(103,103,103)"/><rect x="367.40" y="403.77" width="3.20" height="12.94" fill="rgb(100,100,100)"/><rect x="367.40" y="416.71" width="3.20" height="16.15" fill="rgb(179,179,179)"/><rect x="367.40" y="432.86" width="3.20" height="9.43" fill="rgb(28,28,28)"/><rect x="367.40" y="442.29" width="3.20" height="1.30" fill="rgb(149,149,149)"/><rect x="367.40" y="443.59" width="3.20" height="1.20" fill="rgb(196,196,196)"/><rect x="367.40" y="444.80" width="3.20" height="3.71" fill="rgb(179,179,179)"/><rect x="367.40" y="448.51" width="3.20" height="29.39" fill="rgb(174,174,174)"/><rect x="370.60" y="273.00" width="3.20" height="9.71" fill="rgb(38,38,38)"/><rect x="370.60" y="282.71" width="3.20" height="1.40" fill="rgb(77,77,77)"/><rect x="370.60" y="284.12" width="3.20" height="17.65" fill="rgb(38,38,38)"/><rect x="370.60" y="301.77" width="3.20" height="1.40" fill="rgb(77,77,77)"/><rect x="370.60" y="303.17" width="3.20" height="8.12" fill="rgb(38,38,38)"/><rect x="370.60" y="311.30" width="3.20" height="1.40" fill="rgb(96,96,96)"/><rect x="370.60" y="312.70" width="3.20" height="13.74" fill="rgb(38,38,38)"/><rect x="370.60" y="326.44" width="3.20" height="11.63" fill="rgb(197,197,197)"/><rect x="370.60" y="338.08" width="3.20" height="1.00" fill="rgb(228,228,228)"/><rect x="370.60" y="339.08" width="3.20" height="3.21" fill="rgb(207,207,207)"/><rect x="370.60" y="342.29" width="3.20" height="3.21" fill="rgb(230,230,230)"/><rect x="370.60" y="345.50" width="3.20" height="6.92" fill="rgb(22,22,22)"/><rect x="370.60" y="352.42" width="3.20" height="7.32" fill="rgb(227,227,227)"/><rect x="370.60" y="359.74" width="3.20" height="2.71" fill="rgb(214,214,214)"/><rect x="370.60" y="362.45" width="3.20" height="3.21" fill="rgb(227,227,227)"/><rect x="370.60" y="365.66" width="3.20" height="4.21" fill="rgb(41,41,41)"/><rect x="370.60" y="369.87" width="3.20" height="3.61" fill="rgb(135,135,135)"/><rect x="370.60" y="373.48" width="3.20" height="8.93" fill="rgb(38,38,38)"/><rect x="370.60" y="382.41" width="3.20" height="1.40" fill="rgb(33,33,33)"/><rect x="370.60" y="383.81" width="3.20" height="9.13" fill="rgb(38,38,38)"/><rect x="370.60" y="392.94" width="3.20" height="1.40" fill="rgb(33,33,33)"/><rect x="370.60" y="394.35" width="3.20" height="6.22" fill="rgb(38,38,38)"/><rect x="370.60" y="400.57" width="3.20" height="3.21" fill="rgb(88,88,88)"/><rect x="370.60" y="403.77" width="3.20" height="12.94" fill="rgb(38,38,38)"/><rect x="370.60" y="416.71" width="3.20" height="16.15" fill="rgb(216,216,216)"/><rect x="370.60" y="432.86" width="3.20" height="9.43" fill="rgb(28,28,28)"/><rect x="370.60" y="442.29" width="3.20" height="1.30" fill="rgb(194,194,194)"/><rect x="370.60" y="443.59" width="3.20" height="1.20" fill="rgb(227,227,227)"/><rect x="370.60" y="444.80" width="3.20" height="3.71" fill="rgb(174,174,174)"/><rect x="370.60" y="448.51" width="3.20" height="29.39" fill="rgb(213,213,213)"/><rect x="373.80" y="273.00" width="6.90" height="9.71" fill="rgb(100,100,100)"/><rect x="373.80" y="282.71" width="6.90" height="1.40" fill="rgb(77,77,77)"/><rect x="373.80" y="284.12" width="6.90" height="17.65" fill="rgb(100,100,100)"/><rect x="373.80" y="301.77" width="6.90" height="1.40" fill="rgb(77,77,77)"/><rect x="373.80" y="303.17" width="6.90" height="8.12" fill="rgb(100,100,100)"/><rect x="373.80" y="311.30" width="6.90" height="1.40" fill="rgb(71,71,71)"/><rect x="373.80" y="312.70" width="6.90" height="13.74" fill="rgb(100,100,100)"/><rect x="373.80" y="326.44" width="6.90" height="11.63" fill="rgb(134,134,134)"/><rect x="373.80" y="338.08" width="6.90" height="1.00" fill="rgb(64,64,64)"/><rect x="373.80" y="339.08" width="6.90" height="3.21" fill="rgb(22,22,22)"/><rect x="373.80" y="342.29" width="6.90" height="3.21" fill="rgb(22,22,22)"/><rect x="373.80" y="345.50" width="6.90" height="6.92" fill="rgb(229,229,229)"/><rect x="373.80" y="352.42" width="6.90" height="7.32" fill="rgb(73,73,73)"/><rect x="373.80" y="359.74" width="6.90" height="2.71" fill="rgb(87,87,87)"/><rect x="373.80" y="362.45" width="6.90" height="3.21" fill="rgb(83,83,83)"/><rect x="373.80" y="365.66" width="6.90" height="4.21" fill="rgb(83,83,83)"/><rect x="373.80" y="369.87" width="6.90" height="3.61" fill="rgb(33,33,33)"/><rect x="373.80" y="373.48" width="6.90" height="8.93" fill="rgb(100,100,100)"/><rect x="373.80" y="382.41" width="6.90" height="1.40" fill="rgb(142,142,142)"/><rect x="373.80" y="383.81" width="6.90" height="9.13" fill="rgb(100,100,100)"/><rect x="373.80" y="392.94" width="6.90" height="1.40" fill="rgb(142,142,142)"/><rect x="373.80" y="394.35" width="6.90" height="6.22" fill="rgb(100,100,100)"/><rect x="373.80" y="400.57" width="6.90" height="3.21" fill="rgb(163,163,163)"/><rect x="373.80" y="403.77" width="6.90" height="12.94" fill="rgb(100,100,100)"/><rect x="373.80" y="416.71" width="6.90" height="16.15" fill="rgb(111,111,111)"/><rect x="373.80" y="432.86" width="6.90" height="9.43" fill="rgb(196,196,196)"/><rect x="373.80" y="442.29" width="6.90" height="1.30" fill="rgb(146,146,146)"/><rect x="373.80" y="443.59" width="6.90" height="1.20" fill="rgb(85,85,85)"/><rect x="373.80" y="444.80" width="6.90" height="3.71" fill="rgb(32,32,32)"/><rect x="373.80" y="448.51" width="6.90" height="29.39" fill="rgb(117,117,117)"/><rect x="380.70" y="273.00" width="7.30" height="9.71" fill="rgb(25,25,25)"/><rect x="380.70" y="282.71" width="7.30" height="1.40" fill="rgb(57,57,57)"/><rect x="380.70" y="284.12" width="7.30" height="17.65" fill="rgb(25,25,25)"/><rect x="380.70" y="301.77" width="7.30" height="1.40" fill="rgb(57,57,57)"/><rect x="380.70" y="303.17" width="7.30" height="8.12" fill="rgb(25,25,25)"/><rect x="380.70" y="311.30" width="7.30" height="1.40" fill="rgb(74,74,74)"/><rect x="380.70" y="312.70" width="7.30" height="13.74" fill="rgb(25,25,25)"/><rect x="380.70" y="326.44" width="7.30" height="11.63" fill="rgb(209,209,209)"/><rect x="380.70" y="338.08" width="7.30" height="1.00" fill="rgb(229,229,229)"/><rect x="380.70" y="339.08" width="7.30" height="3.21" fill="rgb(195,195,195)"/><rect x="380.70" y="342.29" width="7.30" height="3.21" fill="rgb(227,227,227)"/><rect x="380.70" y="345.50" width="7.30" height="6.92" fill="rgb(73,73,73)"/><rect x="380.70" y="352.42" width="7.30" height="7.32" fill="rgb(230,230,230)"/><rect x="380.70" y="359.74" width="7.30" height="2.71" fill="rgb(203,203,203)"/><rect x="380.70" y="362.45" width="7.30" height="3.21" fill="rgb(227,227,227)"/><rect x="380.70" y="365.66" width="7.30" height="4.21" fill="rgb(33,33,33)"/><rect x="380.70" y="369.87" width="7.30" height="3.61" fill="rgb(141,141,141)"/><rect x="380.70" y="373.48" width="7.30" height="8.93" fill="rgb(25,25,25)"/><rect x="380.70" y="382.41" width="7.30" height="1.40" fill="rgb(19,19,19)"/><rect x="380.70" y="383.81" width="7.30" height="9.13" fill="rgb(25,25,25)"/><rect x="380.70" y="392.94" width="7.30" height="1.40" fill="rgb(19,19,19)"/><rect x="380.70" y="394.35" width="7.30" height="6.22" fill="rgb(25,25,25)"/><rect x="380.70" y="400.57" width="7.30" height="3.21" fill="rgb(72,72,72)"/><rect x="380.70" y="403.77" width="7.30" height="12.94" fill="rgb(25,25,25)"/><rect x="380.70" y="416.71" width="7.30" height="16.15" fill="rgb(213,213,213)"/><rect x="380.70" y="432.86" width="7.30" height="9.43" fill="rgb(136,136,136)"/><rect x="380.70" y="442.29" width="7.30" height="1.30" fill="rgb(190,190,190)"/><rect x="380.70" y="443.59" width="7.30" height="1.20" fill="rgb(224,224,224)"/><rect x="380.70" y="444.80" width="7.30" height="3.71" fill="rgb(182,182,182)"/><rect x="380.70" y="448.51" width="7.30" height="29.39" fill="rgb(210,210,210)"/><rect x="388.00" y="273.00" width="2.70" height="9.71" fill="rgb(61,61,61)"/><rect x="388.00" y="282.71" width="2.70" height="1.40" fill="rgb(109,109,109)"/><rect x="388.00" y="284.12" width="2.70" height="17.65" fill="rgb(61,61,61)"/><rect x="388.00" y="301.77" width="2.70" height="1.40" fill="rgb(109,109,109)"/><rect x="388.00" y="303.17" width="2.70" height="8.12" fill="rgb(61,61,61)"/><rect x="388.00" y="311.30" width="2.70" height="1.40" fill="rgb(130,130,130)"/><rect x="388.00" y="312.70" width="2.70" height="13.74" fill="rgb(61,61,61)"/><rect x="388.00" y="326.44" width="2.70" height="11.63" fill="rgb(174,174,174)"/><rect x="388.00" y="338.08" width="2.70" height="1.00" fill="rgb(206,206,206)"/><rect x="388.00" y="339.08" width="2.70" height="3.21" fill="rgb(200,200,200)"/><rect x="388.00" y="342.29" width="2.70" height="3.21" fill="rgb(214,214,214)"/><rect x="388.00" y="345.50" width="2.70" height="6.92" fill="rgb(87,87,87)"/><rect x="388.00" y="352.42" width="2.70" height="7.32" fill="rgb(203,203,203)"/><rect x="388.00" y="359.74" width="2.70" height="2.71" fill="rgb(229,229,229)"/><rect x="388.00" y="362.45" width="2.70" height="3.21" fill="rgb(215,215,215)"/><rect x="388.00" y="365.66" width="2.70" height="4.21" fill="rgb(46,46,46)"/><rect x="388.00" y="369.87" width="2.70" height="3.61" fill="rgb(85,85,85)"/><rect x="388.00" y="373.48" width="2.70" height="8.93" fill="rgb(61,61,61)"/><rect x="388.00" y="382.41" width="2.70" height="1.40" fill="rgb(75,75,75)"/><rect x="388.00" y="383.81" width="2.70" height="9.13" fill="rgb(61,61,61)"/><rect x="388.00" y="392.94" width="2.70" height="1.40" fill="rgb(75,75,75)"/><rect x="388.00" y="394.35" width="2.70" height="6.22" fill="rgb(61,61,61)"/><rect x="388.00" y="400.57" width="2.70" height="3.21" fill="rgb(146,146,146)"/><rect x="388.00" y="403.77" width="2.70" height="12.94" fill="rgb(61,61,61)"/><rect x="388.00" y="416.71" width="2.70" height="16.15" fill="rgb(222,222,222)"/><rect x="388.00" y="432.86" width="2.70" height="9.43" fill="rgb(173,173,173)"/><rect x="388.00" y="442.29" width="2.70" height="1.30" fill="rgb(213,213,213)"/><rect x="388.00" y="443.59" width="2.70" height="1.20" fill="rgb(221,221,221)"/><rect x="388.00" y="444.80" width="2.70" height="3.71" fill="rgb(122,122,122)"/><rect x="388.00" y="448.51" width="2.70" height="29.39" fill="rgb(222,222,222)"/><rect x="390.70" y="273.00" width="3.20" height="9.71" fill="rgb(27,27,27)"/><rect x="390.70" y="282.71" width="3.20" height="1.40" fill="rgb(64,64,64)"/><rect x="390.70" y="284.12" width="3.20" height="17.65" fill="rgb(27,27,27)"/><rect x="390.70" y="301.77" width="3.20" height="1.40" fill="rgb(64,64,64)"/><rect x="390.70" y="303.17" width="3.20" height="8.12" fill="rgb(27,27,27)"/><rect x="390.70" y="311.30" width="3.20" height="1.40" fill="rgb(83,83,83)"/><rect x="390.70" y="312.70" width="3.20" height="13.74" fill="rgb(27,27,27)"/><rect x="390.70" y="326.44" width="3.20" height="11.63" fill="rgb(208,208,208)"/><rect x="390.70" y="338.08" width="3.20" height="1.00" fill="rgb(227,227,227)"/><rect x="390.70" y="339.08" width="3.20" height="3.21" fill="rgb(194,194,194)"/><rect x="390.70" y="342.29" width="3.20" height="3.21" fill="rgb(227,227,227)"/><rect x="390.70" y="345.50" width="3.20" height="6.92" fill="rgb(83,83,83)"/><rect x="390.70" y="352.42" width="3.20" height="7.32" fill="rgb(227,227,227)"/><rect x="390.70" y="359.74" width="3.20" height="2.71" fill="rgb(215,215,215)"/><rect x="390.70" y="362.45" width="3.20" height="3.21" fill="rgb(230,230,230)"/><rect x="390.70" y="365.66" width="3.20" height="4.21" fill="rgb(27,27,27)"/><rect x="390.70" y="369.87" width="3.20" height="3.61" fill="rgb(120,120,120)"/><rect x="390.70" y="373.48" width="3.20" height="8.93" fill="rgb(27,27,27)"/><rect x="390.70" y="382.41" width="3.20" height="1.40" fill="rgb(30,30,30)"/><rect x="390.70" y="383.81" width="3.20" height="9.13" fill="rgb(27,27,27)"/><rect x="390.70" y="392.94" width="3.20" height="1.40" fill="rgb(30,30,30)"/><rect x="390.70" y="394.35" width="3.20" height="6.22" fill="rgb(27,27,27)"/><rect x="390.70" y="400.57" width="3.20" height="3.21" fill="rgb(94,94,94)"/><rect x="390.70" y="403.77" width="3.20" height="12.94" fill="rgb(27,27,27)"/><rect x="390.70" y="416.71" width="3.20" height="16.15" fill="rgb(223,223,223)"/><rect x="390.70" y="432.86" width="3.20" height="9.43" fill="rgb(155,155,155)"/><rect x="390.70" y="442.29" width="3.20" height="1.30" fill="rgb(205,205,205)"/><rect x="390.70" y="443.59" width="3.20" height="1.20" fill="rgb(229,229,229)"/><rect x="390.70" y="444.80" width="3.20" height="3.71" fill="rgb(162,162,162)"/><rect x="390.70" y="448.51" width="3.20" height="29.39" fill="rgb(221,221,221)"/><rect x="393.90" y="273.00" width="4.20" height="9.71" fill="rgb(224,224,224)"/><rect x="393.90" y="282.71" width="4.20" height="1.40" fill="rgb(206,206,206)"/><rect x="393.90" y="284.12" width="4.20" height="17.65" fill="rgb(224,224,224)"/><rect x="393.90" y="301.77" width="4.20" height="1.40" fill="rgb(206,206,206)"/><rect x="393.90" y="303.17" width="4.20" height="8.12" fill="rgb(224,224,224)"/><rect x="393.90" y="311.30" width="4.20" height="1.40" fill="rgb(192,192,192)"/><rect x="393.90" y="312.70" width="4.20" height="13.74" fill="rgb(224,224,224)"/><rect x="393.90" y="326.44" width="4.20" height="11.63" fill="rgb(11,11,11)"/><rect x="393.90" y="338.08" width="4.20" height="1.00" fill="rgb(39,39,39)"/><rect x="393.90" y="339.08" width="4.20" height="3.21" fill="rgb(103,103,103)"/><rect x="393.90" y="342.29" width="4.20" height="3.21" fill="rgb(41,41,41)"/><rect x="393.90" y="345.50" width="4.20" height="6.92" fill="rgb(83,83,83)"/><rect x="393.90" y="352.42" width="4.20" height="7.32" fill="rgb(33,33,33)"/><rect x="393.90" y="359.74" width="4.20" height="2.71" fill="rgb(46,46,46)"/><rect x="393.90" y="362.45" width="4.20" height="3.21" fill="rgb(27,27,27)"/><rect x="393.90" y="365.66" width="4.20" height="4.21" fill="rgb(229,229,229)"/><rect x="393.90" y="369.87" width="4.20" height="3.61" fill="rgb(156,156,156)"/><rect x="393.90" y="373.48" width="4.20" height="8.93" fill="rgb(224,224,224)"/><rect x="393.90" y="382.41" width="4.20" height="1.40" fill="rgb(199,199,199)"/><rect x="393.90" y="383.81" width="4.20" height="9.13" fill="rgb(224,224,224)"/><rect x="393.90" y="392.94" width="4.20" height="1.40" fill="rgb(199,199,199)"/><rect x="393.90" y="394.35" width="4.20" height="6.22" fill="rgb(224,224,224)"/><rect x="393.90" y="400.57" width="4.20" height="3.21" fill="rgb(127,127,127)"/><rect x="393.90" y="403.77" width="4.20" height="12.94" fill="rgb(224,224,224)"/><rect x="393.90" y="416.71" width="4.20" height="16.15" fill="rgb(20,20,20)"/><rect x="393.90" y="432.86" width="4.20" height="9.43" fill="rgb(39,39,39)"/><rect x="393.90" y="442.29" width="4.20" height="1.30" fill="rgb(18,18,18)"/><rect x="393.90" y="443.59" width="4.20" height="1.20" fill="rgb(28,28,28)"/><rect x="393.90" y="444.80" width="4.20" height="3.71" fill="rgb(115,115,115)"/><rect x="393.90" y="448.51" width="4.20" height="29.39" fill="rgb(19,19,19)"/><rect x="398.10" y="273.00" width="3.60" height="9.71" fill="rgb(123,123,123)"/><rect x="398.10" y="282.71" width="3.60" height="1.40" fill="rgb(114,114,114)"/><rect x="398.10" y="284.12" width="3.60" height="17.65" fill="rgb(123,123,123)"/><rect x="398.10" y="301.77" width="3.60" height="1.40" fill="rgb(114,114,114)"/><rect x="398.10" y="303.17" width="3.60" height="8.12" fill="rgb(123,123,123)"/><rect x="398.10" y="311.30" width="3.60" height="1.40" fill="rgb(108,108,108)"/><rect x="398.10" y="312.70" width="3.60" height="13.74" fill="rgb(123,123,123)"/><rect x="398.10" y="326.44" width="3.60" height="11.63" fill="rgb(112,112,112)"/><rect x="398.10" y="338.08" width="3.60" height="1.00" fill="rgb(144,144,144)"/><rect x="398.10" y="339.08" width="3.60" height="3.21" fill="rgb(158,158,158)"/><rect x="398.10" y="342.29" width="3.60" height="3.21" fill="rgb(135,135,135)"/><rect x="398.10" y="345.50" width="3.60" height="6.92" fill="rgb(33,33,33)"/><rect x="398.10" y="352.42" width="3.60" height="7.32" fill="rgb(141,141,141)"/><rect x="398.10" y="359.74" width="3.60" height="2.71" fill="rgb(85,85,85)"/><rect x="398.10" y="362.45" width="3.60" height="3.21" fill="rgb(120,120,120)"/><rect x="398.10" y="365.66" width="3.60" height="4.21" fill="rgb(156,156,156)"/><rect x="398.10" y="369.87" width="3.60" height="3.61" fill="rgb(230,230,230)"/><rect x="398.10" y="373.48" width="3.60" height="8.93" fill="rgb(123,123,123)"/><rect x="398.10" y="382.41" width="3.60" height="1.40" fill="rgb(74,74,74)"/><rect x="398.10" y="383.81" width="3.60" height="9.13" fill="rgb(123,123,123)"/><rect x="398.10" y="392.94" width="3.60" height="1.40" fill="rgb(74,74,74)"/><rect x="398.10" y="394.35" width="3.60" height="6.22" fill="rgb(123,123,123)"/><rect x="398.10" y="400.57" width="3.60" height="3.21" fill="rgb(22,22,22)"/><rect x="398.10" y="403.77" width="3.60" height="12.94" fill="rgb(123,123,123)"/><rect x="398.10" y="416.71" width="3.60" height="16.15" fill="rgb(82,82,82)"/><rect x="398.10" y="432.86" width="3.60" height="9.43" fill="rgb(15,15,15)"/><rect x="398.10" y="442.29" width="3.60" height="1.30" fill="rgb(50,50,50)"/><rect x="398.10" y="443.59" width="3.60" height="1.20" fill="rgb(111,111,111)"/><rect x="398.10" y="444.80" width="3.60" height="3.71" fill="rgb(221,221,221)"/><rect x="398.10" y="448.51" width="3.60" height="29.39" fill="rgb(76,76,76)"/><rect x="401.70" y="273.00" width="8.90" height="9.71" fill="rgb(230,230,230)"/><rect x="401.70" y="282.71" width="8.90" height="1.40" fill="rgb(218,218,218)"/><rect x="401.70" y="284.12" width="8.90" height="17.65" fill="rgb(230,230,230)"/><rect x="401.70" y="301.77" width="8.90" height="1.40" fill="rgb(218,218,218)"/><rect x="401.70" y="303.17" width="8.90" height="8.12" fill="rgb(230,230,230)"/><rect x="401.70" y="311.30" width="8.90" height="1.40" fill="rgb(207,207,207)"/><rect x="401.70" y="312.70" width="8.90" height="13.74" fill="rgb(230,230,230)"/><rect x="401.70" y="326.44" width="8.90" height="11.63" fill="rgb(5,5,5)"/><rect x="401.70" y="338.08" width="8.90" height="1.00" fill="rgb(32,32,32)"/><rect x="401.70" y="339.08" width="8.90" height="3.21" fill="rgb(100,100,100)"/><rect x="401.70" y="342.29" width="8.90" height="3.21" fill="rgb(38,38,38)"/><rect x="401.70" y="345.50" width="8.90" height="6.92" fill="rgb(100,100,100)"/><rect x="401.70" y="352.42" width="8.90" height="7.32" fill="rgb(25,25,25)"/><rect x="401.70" y="359.74" width="8.90" height="2.71" fill="rgb(61,61,61)"/><rect x="401.70" y="362.45" width="8.90" height="3.21" fill="rgb(27,27,27)"/><rect x="401.70" y="365.66" width="8.90" height="4.21" fill="rgb(224,224,224)"/><rect x="401.70" y="369.87" width="8.90" height="3.61" fill="rgb(123,123,123)"/><rect x="401.70" y="373.48" width="8.90" height="8.93" fill="rgb(230,230,230)"/><rect x="401.70" y="382.41" width="8.90" height="1.40" fill="rgb(218,218,218)"/><rect x="401.70" y="383.81" width="8.90" height="9.13" fill="rgb(230,230,230)"/><rect x="401.70" y="392.94" width="8.90" height="1.40" fill="rgb(218,218,218)"/><rect x="401.70" y="394.35" width="8.90" height="6.22" fill="rgb(230,230,230)"/><rect x="401.70" y="400.57" width="8.90" height="3.21" fill="rgb(162,162,162)"/><rect x="401.70" y="403.77" width="8.90" height="12.94" fill="rgb(230,230,230)"/><rect x="401.70" y="416.71" width="8.90" height="16.15" fill="rgb(32,32,32)"/><rect x="401.70" y="432.86" width="8.90" height="9.43" fill="rgb(67,67,67)"/><rect x="401.70" y="442.29" width="8.90" height="1.30" fill="rgb(38,38,38)"/><rect x="401.70" y="443.59" width="8.90" height="1.20" fill="rgb(32,32,32)"/><rect x="401.70" y="444.80" width="8.90" height="3.71" fill="rgb(84,84,84)"/><rect x="401.70" y="448.51" width="8.90" height="29.39" fill="rgb(32,32,32)"/><rect x="410.60" y="273.00" width="1.40" height="9.71" fill="rgb(218,218,218)"/><rect x="410.60" y="282.71" width="1.40" height="1.40" fill="rgb(209,209,209)"/><rect x="410.60" y="284.12" width="1.40" height="17.65" fill="rgb(218,218,218)"/><rect x="410.60" y="301.77" width="1.40" height="1.40" fill="rgb(209,209,209)"/><rect x="410.60" y="303.17" width="1.40" height="8.12" fill="rgb(218,218,218)"/><rect x="410.60" y="311.30" width="1.40" height="1.40" fill="rgb(201,201,201)"/><rect x="410.60" y="312.70" width="1.40" height="13.74" fill="rgb(218,218,218)"/><rect x="410.60" y="326.44" width="1.40" height="11.63" fill="rgb(16,16,16)"/><rect x="410.60" y="338.08" width="1.40" height="1.00" fill="rgb(24,24,24)"/><rect x="410.60" y="339.08" width="1.40" height="3.21" fill="rgb(79,79,79)"/><rect x="410.60" y="342.29" width="1.40" height="3.21" fill="rgb(33,33,33)"/><rect x="410.60" y="345.50" width="1.40" height="6.92" fill="rgb(142,142,142)"/><rect x="410.60" y="352.42" width="1.40" height="7.32" fill="rgb(19,19,19)"/><rect x="410.60" y="359.74" width="1.40" height="2.71" fill="rgb(75,75,75)"/><rect x="410.60" y="362.45" width="1.40" height="3.21" fill="rgb(30,30,30)"/><rect x="410.60" y="365.66" width="1.40" height="4.21" fill="rgb(199,199,199)"/><rect x="410.60" y="369.87" width="1.40" height="3.61" fill="rgb(74,74,74)"/><rect x="410.60" y="373.48" width="1.40" height="8.93" fill="rgb(218,218,218)"/><rect x="410.60" y="382.41" width="1.40" height="1.40" fill="rgb(230,230,230)"/><rect x="410.60" y="383.81" width="1.40" height="9.13" fill="rgb(218,218,218)"/><rect x="410.60" y="392.94" width="1.40" height="1.40" fill="rgb(230,230,230)"/><rect x="410.60" y="394.35" width="1.40" height="6.22" fill="rgb(218,218,218)"/><rect x="410.60" y="400.57" width="1.40" height="3.21" fill="rgb(199,199,199)"/><rect x="410.60" y="403.77" width="1.40" height="12.94" fill="rgb(218,218,218)"/><rect x="410.60" y="416.71" width="1.40" height="16.15" fill="rgb(51,51,51)"/><rect x="410.60" y="432.86" width="1.40" height="9.43" fill="rgb(115,115,115)"/><rect x="410.60" y="442.29" width="1.40" height="1.30" fill="rgb(71,71,71)"/><rect x="410.60" y="443.59" width="1.40" height="1.20" fill="rgb(38,38,38)"/><rect x="410.60" y="444.80" width="1.40" height="3.71" fill="rgb(40,40,40)"/><rect x="410.60" y="448.51" width="1.40" height="29.39" fill="rgb(54,54,54)"/><rect x="412.00" y="273.00" width="9.10" height="9.71" fill="rgb(230,230,230)"/><rect x="412.00" y="282.71" width="9.10" height="1.40" fill="rgb(218,218,218)"/><rect x="412.00" y="284.12" width="9.10" height="17.65" fill="rgb(230,230,230)"/><rect x="412.00" y="301.77" width="9.10" height="1.40" fill="rgb(218,218,218)"/><rect x="412.00" y="303.17" width="9.10" height="8.12" fill="rgb(230,230,230)"/><rect x="412.00" y="311.30" width="9.10" height="1.40" fill="rgb(207,207,207)"/><rect x="412.00" y="312.70" width="9.10" height="13.74" fill="rgb(230,230,230)"/><rect x="412.00" y="326.44" width="9.10" height="11.63" fill="rgb(5,5,5)"/><rect x="412.00" y="338.08" width="9.10" height="1.00" fill="rgb(32,32,32)"/><rect x="412.00" y="339.08" width="9.10" height="3.21" fill="rgb(100,100,100)"/><rect x="412.00" y="342.29" width="9.10" height="3.21" fill="rgb(38,38,38)"/><rect x="412.00" y="345.50" width="9.10" height="6.92" fill="rgb(100,100,100)"/><rect x="412.00" y="352.42" width="9.10" height="7.32" fill="rgb(25,25,25)"/><rect x="412.00" y="359.74" width="9.10" height="2.71" fill="rgb(61,61,61)"/><rect x="412.00" y="362.45" width="9.10" height="3.21" fill="rgb(27,27,27)"/><rect x="412.00" y="365.66" width="9.10" height="4.21" fill="rgb(224,224,224)"/><rect x="412.00" y="369.87" width="9.10" height="3.61" fill="rgb(123,123,123)"/><rect x="412.00" y="373.48" width="9.10" height="8.93" fill="rgb(230,230,230)"/><rect x="412.00" y="382.41" width="9.10" height="1.40" fill="rgb(218,218,218)"/><rect x="412.00" y="383.81" width="9.10" height="9.13" fill="rgb(230,230,230)"/><rect x="412.00" y="392.94" width="9.10" height="1.40" fill="rgb(218,218,218)"/><rect x="412.00" y="394.35" width="9.10" height="6.22" fill="rgb(230,230,230)"/><rect x="412.00" y="400.57" width="9.10" height="3.21" fill="rgb(162,162,162)"/><rect x="412.00" y="403.77" width="9.10" height="12.94" fill="rgb(230,230,230)"/><rect x="412.00" y="416.71" width="9.10" height="16.15" fill="rgb(32,32,32)"/><rect x="412.00" y="432.86" width="9.10" height="9.43" fill="rgb(67,67,67)"/><rect x="412.00" y="442.29" width="9.10" height="1.30" fill="rgb(38,38,38)"/><rect x="412.00" y="443.59" width="9.10" height="1.20" fill="rgb(32,32,32)"/><rect x="412.00" y="444.80" width="9.10" height="3.71" fill="rgb(84,84,84)"/><rect x="412.00" y="448.51" width="9.10" height="29.39" fill="rgb(32,32,32)"/><rect x="421.10" y="273.00" width="1.40" height="9.71" fill="rgb(218,218,218)"/><rect x="421.10" y="282.71" width="1.40" height="1.40" fill="rgb(209,209,209)"/><rect x="421.10" y="284.12" width="1.40" height="17.65" fill="rgb(218,218,218)"/><rect x="421.10" y="301.77" width="1.40" height="1.40" fill="rgb(209,209,209)"/><rect x="421.10" y="303.17" width="1.40" height="8.12" fill="rgb(218,218,218)"/><rect x="421.10" y="311.30" width="1.40" height="1.40" fill="rgb(201,201,201)"/><rect x="421.10" y="312.70" width="1.40" height="13.74" fill="rgb(218,218,218)"/><rect x="421.10" y="326.44" width="1.40" height="11.63" fill="rgb(16,16,16)"/><rect x="421.10" y="338.08" width="1.40" height="1.00" fill="rgb(24,24,24)"/><rect x="421.10" y="339.08" width="1.40" height="3.21" fill="rgb(79,79,79)"/><rect x="421.10" y="342.29" width="1.40" height="3.21" fill="rgb(33,33,33)"/><rect x="421.10" y="345.50" width="1.40" height="6.92" fill="rgb(142,142,142)"/><rect x="421.10" y="352.42" width="1.40" height="7.32" fill="rgb(19,19,19)"/><rect x="421.10" y="359.74" width="1.40" height="2.71" fill="rgb(75,75,75)"/><rect x="421.10" y="362.45" width="1.40" height="3.21" fill="rgb(30,30,30)"/><rect x="421.10" y="365.66" width="1.40" height="4.21" fill="rgb(199,199,199)"/><rect x="421.10" y="369.87" width="1.40" height="3.61" fill="rgb(74,74,74)"/><rect x="421.10" y="373.48" width="1.40" height="8.93" fill="rgb(218,218,218)"/><rect x="421.10" y="382.41" width="1.40" height="1.40" fill="rgb(230,230,230)"/><rect x="421.10" y="383.81" width="1.40" height="9.13" fill="rgb(218,218,218)"/><rect x="421.10" y="392.94" width="1.40" height="1.40" fill="rgb(230,230,230)"/><rect x="421.10" y="394.35" width="1.40" height="6.22" fill="rgb(218,218,218)"/><rect x="421.10" y="400.57" width="1.40" height="3.21" fill="rgb(199,199,199)"/><rect x="421.10" y="403.77" width="1.40" height="12.94" fill="rgb(218,218,218)"/><rect x="421.10" y="416.71" width="1.40" height="16.15" fill="rgb(51,51,51)"/><rect x="421.10" y="432.86" width="1.40" height="9.43" fill="rgb(115,115,115)"/><rect x="421.10" y="442.29" width="1.40" height="1.30" fill="rgb(71,71,71)"/><rect x="421.10" y="443.59" width="1.40" height="1.20" fill="rgb(38,38,38)"/><rect x="421.10" y="444.80" width="1.40" height="3.71" fill="rgb(40,40,40)"/><rect x="421.10" y="448.51" width="1.40" height="29.39" fill="rgb(54,54,54)"/><rect x="422.50" y="273.00" width="6.20" height="9.71" fill="rgb(230,230,230)"/><rect x="422.50" y="282.71" width="6.20" height="1.40" fill="rgb(218,218,218)"/><rect x="422.50" y="284.12" width="6.20" height="17.65" fill="rgb(230,230,230)"/><rect x="422.50" y="301.77" width="6.20" height="1.40" fill="rgb(218,218,218)"/><rect x="422.50" y="303.17" width="6.20" height="8.12" fill="rgb(230,230,230)"/><rect x="422.50" y="311.30" width="6.20" height="1.40" fill="rgb(207,207,207)"/><rect x="422.50" y="312.70" width="6.20" height="13.74" fill="rgb(230,230,230)"/><rect x="422.50" y="326.44" width="6.20" height="11.63" fill="rgb(5,5,5)"/><rect x="422.50" y="338.08" width="6.20" height="1.00" fill="rgb(32,32,32)"/><rect x="422.50" y="339.08" width="6.20" height="3.21" fill="rgb(100,100,100)"/><rect x="422.50" y="342.29" width="6.20" height="3.21" fill="rgb(38,38,38)"/><rect x="422.50" y="345.50" width="6.20" height="6.92" fill="rgb(100,100,100)"/><rect x="422.50" y="352.42" width="6.20" height="7.32" fill="rgb(25,25,25)"/><rect x="422.50" y="359.74" width="6.20" height="2.71" fill="rgb(61,61,61)"/><rect x="422.50" y="362.45" width="6.20" height="3.21" fill="rgb(27,27,27)"/><rect x="422.50" y="365.66" width="6.20" height="4.21" fill="rgb(224,224,224)"/><rect x="422.50" y="369.87" width="6.20" height="3.61" fill="rgb(123,123,123)"/><rect x="422.50" y="373.48" width="6.20" height="8.93" fill="rgb(230,230,230)"/><rect x="422.50" y="382.41" width="6.20" height="1.40" fill="rgb(218,218,218)"/><rect x="422.50" y="383.81" width="6.20" height="9.13" fill="rgb(230,230,230)"/><rect x="422.50" y="392.94" width="6.20" height="1.40" fill="rgb(218,218,218)"/><rect x="422.50" y="394.35" width="6.20" height="6.22" fill="rgb(230,230,230)"/><rect x="422.50" y="400.57" width="6.20" height="3.21" fill="rgb(162,162,162)"/><rect x="422.50" y="403.77" width="6.20" height="12.94" fill="rgb(230,230,230)"/><rect x="422.50" y="416.71" width="6.20" height="16.15" fill="rgb(32,32,32)"/><rect x="422.50" y="432.86" width="6.20" height="9.43" fill="rgb(67,67,67)"/><rect x="422.50" y="442.29" width="6.20" height="1.30" fill="rgb(38,38,38)"/><rect x="422.50" y="443.59" width="6.20" height="1.20" fill="rgb(32,32,32)"/><rect x="422.50" y="444.80" width="6.20" height="3.71" fill="rgb(84,84,84)"/><rect x="422.50" y="448.51" width="6.20" height="29.39" fill="rgb(32,32,32)"/><rect x="428.70" y="273.00" width="3.20" height="9.71" fill="rgb(162,162,162)"/><rect x="428.70" y="282.71" width="3.20" height="1.40" fill="rgb(179,179,179)"/><rect x="428.70" y="284.12" width="3.20" height="17.65" fill="rgb(162,162,162)"/><rect x="428.70" y="301.77" width="3.20" height="1.40" fill="rgb(179,179,179)"/><rect x="428.70" y="303.17" width="3.20" height="8.12" fill="rgb(162,162,162)"/><rect x="428.70" y="311.30" width="3.20" height="1.40" fill="rgb(183,183,183)"/><rect x="428.70" y="312.70" width="3.20" height="13.74" fill="rgb(162,162,162)"/><rect x="428.70" y="326.44" width="3.20" height="11.63" fill="rgb(73,73,73)"/><rect x="428.70" y="338.08" width="3.20" height="1.00" fill="rgb(74,74,74)"/><rect x="428.70" y="339.08" width="3.20" height="3.21" fill="rgb(103,103,103)"/><rect x="428.70" y="342.29" width="3.20" height="3.21" fill="rgb(88,88,88)"/><rect x="428.70" y="345.50" width="3.20" height="6.92" fill="rgb(163,163,163)"/><rect x="428.70" y="352.42" width="3.20" height="7.32" fill="rgb(72,72,72)"/><rect x="428.70" y="359.74" width="3.20" height="2.71" fill="rgb(146,146,146)"/><rect x="428.70" y="362.45" width="3.20" height="3.21" fill="rgb(94,94,94)"/><rect x="428.70" y="365.66" width="3.20" height="4.21" fill="rgb(127,127,127)"/><rect x="428.70" y="369.87" width="3.20" height="3.61" fill="rgb(22,22,22)"/><rect x="428.70" y="373.48" width="3.20" height="8.93" fill="rgb(162,162,162)"/><rect x="428.70" y="382.41" width="3.20" height="1.40" fill="rgb(199,199,199)"/><rect x="428.70" y="383.81" width="3.20" height="9.13" fill="rgb(162,162,162)"/><rect x="428.70" y="392.94" width="3.20" height="1.40" fill="rgb(199,199,199)"/><rect x="428.70" y="394.35" width="3.20" height="6.22" fill="rgb(162,162,162)"/><rect x="428.70" y="400.57" width="3.20" height="3.21" fill="rgb(230,230,230)"/><rect x="428.70" y="403.77" width="3.20" height="12.94" fill="rgb(162,162,162)"/><rect x="428.70" y="416.71" width="3.20" height="16.15" fill="rgb(129,129,129)"/><rect x="428.70" y="432.86" width="3.20" height="9.43" fill="rgb(186,186,186)"/><rect x="428.70" y="442.29" width="3.20" height="1.30" fill="rgb(154,154,154)"/><rect x="428.70" y="443.59" width="3.20" height="1.20" fill="rgb(106,106,106)"/><rect x="428.70" y="444.80" width="3.20" height="3.71" fill="rgb(17,17,17)"/><rect x="428.70" y="448.51" width="3.20" height="29.39" fill="rgb(133,133,133)"/><rect x="431.90" y="273.00" width="12.90" height="9.71" fill="rgb(230,230,230)"/><rect x="431.90" y="282.71" width="12.90" height="1.40" fill="rgb(218,218,218)"/><rect x="431.90" y="284.12" width="12.90" height="17.65" fill="rgb(230,230,230)"/><rect x="431.90" y="301.77" width="12.90" height="1.40" fill="rgb(218,218,218)"/><rect x="431.90" y="303.17" width="12.90" height="8.12" fill="rgb(230,230,230)"/><rect x="431.90" y="311.30" width="12.90" height="1.40" fill="rgb(207,207,207)"/><rect x="431.90" y="312.70" width="12.90" height="13.74" fill="rgb(230,230,230)"/><rect x="431.90" y="326.44" width="12.90" height="11.63" fill="rgb(5,5,5)"/><rect x="431.90" y="338.08" width="12.90" height="1.00" fill="rgb(32,32,32)"/><rect x="431.90" y="339.08" width="12.90" height="3.21" fill="rgb(100,100,100)"/><rect x="431.90" y="342.29" width="12.90" height="3.21" fill="rgb(38,38,38)"/><rect x="431.90" y="345.50" width="12.90" height="6.92" fill="rgb(100,100,100)"/><rect x="431.90" y="352.42" width="12.90" height="7.32" fill="rgb(25,25,25)"/><rect x="431.90" y="359.74" width="12.90" height="2.71" fill="rgb(61,61,61)"/><rect x="431.90" y="362.45" width="12.90" height="3.21" fill="rgb(27,27,27)"/><rect x="431.90" y="365.66" width="12.90" height="4.21" fill="rgb(224,224,224)"/><rect x="431.90" y="369.87" width="12.90" height="3.61" fill="rgb(123,123,123)"/><rect x="431.90" y="373.48" width="12.90" height="8.93" fill="rgb(230,230,230)"/><rect x="431.90" y="382.41" width="12.90" height="1.40" fill="rgb(218,218,218)"/><rect x="431.90" y="383.81" width="12.90" height="9.13" fill="rgb(230,230,230)"/><rect x="431.90" y="392.94" width="12.90" height="1.40" fill="rgb(218,218,218)"/><rect x="431.90" y="394.35" width="12.90" height="6.22" fill="rgb(230,230,230)"/><rect x="431.90" y="400.57" width="12.90" height="3.21" fill="rgb(162,162,162)"/><rect x="431.90" y="403.77" width="12.90" height="12.94" fill="rgb(230,230,230)"/><rect x="431.90" y="416.71" width="12.90" height="16.15" fill="rgb(32,32,32)"/><rect x="431.90" y="432.86" width="12.90" height="9.43" fill="rgb(67,67,67)"/><rect x="431.90" y="442.29" width="12.90" height="1.30" fill="rgb(38,38,38)"/><rect x="431.90" y="443.59" width="12.90" height="1.20" fill="rgb(32,32,32)"/><rect x="431.90" y="444.80" width="12.90" height="3.71" fill="rgb(84,84,84)"/><rect x="431.90" y="448.51" width="12.90" height="29.39" fill="rgb(32,32,32)"/><rect x="444.80" y="273.00" width="16.10" height="9.71" fill="rgb(32,32,32)"/><rect x="444.80" y="282.71" width="16.10" height="1.40" fill="rgb(71,71,71)"/><rect x="444.80" y="284.12" width="16.10" height="17.65" fill="rgb(32,32,32)"/><rect x="444.80" y="301.77" width="16.10" height="1.40" fill="rgb(71,71,71)"/><rect x="444.80" y="303.17" width="16.10" height="8.12" fill="rgb(32,32,32)"/><rect x="444.80" y="311.30" width="16.10" height="1.40" fill="rgb(91,91,91)"/><rect x="444.80" y="312.70" width="16.10" height="13.74" fill="rgb(32,32,32)"/><rect x="444.80" y="326.44" width="16.10" height="11.63" fill="rgb(216,216,216)"/><rect x="444.80" y="338.08" width="16.10" height="1.00" fill="rgb(212,212,212)"/><rect x="444.80" y="339.08" width="16.10" height="3.21" fill="rgb(179,179,179)"/><rect x="444.80" y="342.29" width="16.10" height="3.21" fill="rgb(216,216,216)"/><rect x="444.80" y="345.50" width="16.10" height="6.92" fill="rgb(111,111,111)"/><rect x="444.80" y="352.42" width="16.10" height="7.32" fill="rgb(213,213,213)"/><rect x="444.80" y="359.74" width="16.10" height="2.71" fill="rgb(222,222,222)"/><rect x="444.80" y="362.45" width="16.10" height="3.21" fill="rgb(223,223,223)"/><rect x="444.80" y="365.66" width="16.10" height="4.21" fill="rgb(20,20,20)"/><rect x="444.80" y="369.87" width="16.10" height="3.61" fill="rgb(82,82,82)"/><rect x="444.80" y="373.48" width="16.10" height="8.93" fill="rgb(32,32,32)"/><rect x="444.80" y="382.41" width="16.10" height="1.40" fill="rgb(51,51,51)"/><rect x="444.80" y="383.81" width="16.10" height="9.13" fill="rgb(32,32,32)"/><rect x="444.80" y="392.94" width="16.10" height="1.40" fill="rgb(51,51,51)"/><rect x="444.80" y="394.35" width="16.10" height="6.22" fill="rgb(32,32,32)"/><rect x="444.80" y="400.57" width="16.10" height="3.21" fill="rgb(129,129,129)"/><rect x="444.80" y="403.77" width="16.10" height="12.94" fill="rgb(32,32,32)"/><rect x="444.80" y="416.71" width="16.10" height="16.15" fill="rgb(230,230,230)"/><rect x="444.80" y="432.86" width="16.10" height="9.43" fill="rgb(186,186,186)"/><rect x="444.80" y="442.29" width="16.10" height="1.30" fill="rgb(223,223,223)"/><rect x="444.80" y="443.59" width="16.10" height="1.20" fill="rgb(226,226,226)"/><rect x="444.80" y="444.80" width="16.10" height="3.71" fill="rgb(125,125,125)"/><rect x="444.80" y="448.51" width="16.10" height="29.39" fill="rgb(229,229,229)"/><rect x="460.90" y="273.00" width="9.40" height="9.71" fill="rgb(67,67,67)"/><rect x="460.90" y="282.71" width="9.40" height="1.40" fill="rgb(82,82,82)"/><rect x="460.90" y="284.12" width="9.40" height="17.65" fill="rgb(67,67,67)"/><rect x="460.90" y="301.77" width="9.40" height="1.40" fill="rgb(82,82,82)"/><rect x="460.90" y="303.17" width="9.40" height="8.12" fill="rgb(67,67,67)"/><rect x="460.90" y="311.30" width="9.40" height="1.40" fill="rgb(92,92,92)"/><rect x="460.90" y="312.70" width="9.40" height="13.74" fill="rgb(67,67,67)"/><rect x="460.90" y="326.44" width="9.40" height="11.63" fill="rgb(168,168,168)"/><rect x="460.90" y="338.08" width="9.40" height="1.00" fill="rgb(131,131,131)"/><rect x="460.90" y="339.08" width="9.40" height="3.21" fill="rgb(28,28,28)"/><rect x="460.90" y="342.29" width="9.40" height="3.21" fill="rgb(28,28,28)"/><rect x="460.90" y="345.50" width="9.40" height="6.92" fill="rgb(196,196,196)"/><rect x="460.90" y="352.42" width="9.40" height="7.32" fill="rgb(136,136,136)"/><rect x="460.90" y="359.74" width="9.40" height="2.71" fill="rgb(173,173,173)"/><rect x="460.90" y="362.45" width="9.40" height="3.21" fill="rgb(155,155,155)"/><rect x="460.90" y="365.66" width="9.40" height="4.21" fill="rgb(39,39,39)"/><rect x="460.90" y="369.87" width="9.40" height="3.61" fill="rgb(15,15,15)"/><rect x="460.90" y="373.48" width="9.40" height="8.93" fill="rgb(67,67,67)"/><rect x="460.90" y="382.41" width="9.40" height="1.40" fill="rgb(115,115,115)"/><rect x="460.90" y="383.81" width="9.40" height="9.13" fill="rgb(67,67,67)"/><rect x="460.90" y="392.94" width="9.40" height="1.40" fill="rgb(115,115,115)"/><rect x="460.90" y="394.35" width="9.40" height="6.22" fill="rgb(67,67,67)"/><rect x="460.90" y="400.57" width="9.40" height="3.21" fill="rgb(186,186,186)"/><rect x="460.90" y="403.77" width="9.40" height="12.94" fill="rgb(67,67,67)"/><rect x="460.90" y="416.71" width="9.40" height="16.15" fill="rgb(186,186,186)"/><rect x="460.90" y="432.86" width="9.40" height="9.43" fill="rgb(230,230,230)"/><rect x="460.90" y="442.29" width="9.40" height="1.30" fill="rgb(212,212,212)"/><rect x="460.90" y="443.59" width="9.40" height="1.20" fill="rgb(161,161,161)"/><rect x="460.90" y="444.80" width="9.40" height="3.71" fill="rgb(39,39,39)"/><rect x="460.90" y="448.51" width="9.40" height="29.39" fill="rgb(191,191,191)"/><rect x="470.30" y="273.00" width="1.30" height="9.71" fill="rgb(38,38,38)"/><rect x="470.30" y="282.71" width="1.30" height="1.40" fill="rgb(71,71,71)"/><rect x="470.30" y="284.12" width="1.30" height="17.65" fill="rgb(38,38,38)"/><rect x="470.30" y="301.77" width="1.30" height="1.40" fill="rgb(71,71,71)"/><rect x="470.30" y="303.17" width="1.30" height="8.12" fill="rgb(38,38,38)"/><rect x="470.30" y="311.30" width="1.30" height="1.40" fill="rgb(90,90,90)"/><rect x="470.30" y="312.70" width="1.30" height="13.74" fill="rgb(38,38,38)"/><rect x="470.30" y="326.44" width="1.30" height="11.63" fill="rgb(197,197,197)"/><rect x="470.30" y="338.08" width="1.30" height="1.00" fill="rgb(188,188,188)"/><rect x="470.30" y="339.08" width="1.30" height="3.21" fill="rgb(149,149,149)"/><rect x="470.30" y="342.29" width="1.30" height="3.21" fill="rgb(194,194,194)"/><rect x="470.30" y="345.50" width="1.30" height="6.92" fill="rgb(146,146,146)"/><rect x="470.30" y="352.42" width="1.30" height="7.32" fill="rgb(190,190,190)"/><rect x="470.30" y="359.74" width="1.30" height="2.71" fill="rgb(213,213,213)"/><rect x="470.30" y="362.45" width="1.30" height="3.21" fill="rgb(205,205,205)"/><rect x="470.30" y="365.66" width="1.30" height="4.21" fill="rgb(18,18,18)"/><rect x="470.30" y="369.87" width="1.30" height="3.61" fill="rgb(50,50,50)"/><rect x="470.30" y="373.48" width="1.30" height="8.93" fill="rgb(38,38,38)"/><rect x="470.30" y="382.41" width="1.30" height="1.40" fill="rgb(71,71,71)"/><rect x="470.30" y="383.81" width="1.30" height="9.13" fill="rgb(38,38,38)"/><rect x="470.30" y="392.94" width="1.30" height="1.40" fill="rgb(71,71,71)"/><rect x="470.30" y="394.35" width="1.30" height="6.22" fill="rgb(38,38,38)"/><rect x="470.30" y="400.57" width="1.30" height="3.21" fill="rgb(154,154,154)"/><rect x="470.30" y="403.77" width="1.30" height="12.94" fill="rgb(38,38,38)"/><rect x="470.30" y="416.71" width="1.30" height="16.15" fill="rgb(223,223,223)"/><rect x="470.30" y="432.86" width="1.30" height="9.43" fill="rgb(212,212,212)"/><rect x="470.30" y="442.29" width="1.30" height="1.30" fill="rgb(229,229,229)"/><rect x="470.30" y="443.59" width="1.30" height="1.20" fill="rgb(210,210,210)"/><rect x="470.30" y="444.80" width="1.30" height="3.71" fill="rgb(90,90,90)"/><rect x="470.30" y="448.51" width="1.30" height="29.39" fill="rgb(225,225,225)"/><rect x="471.60" y="273.00" width="1.20" height="9.71" fill="rgb(32,32,32)"/><rect x="471.60" y="282.71" width="1.20" height="1.40" fill="rgb(72,72,72)"/><rect x="471.60" y="284.12" width="1.20" height="17.65" fill="rgb(32,32,32)"/><rect x="471.60" y="301.77" width="1.20" height="1.40" fill="rgb(72,72,72)"/><rect x="471.60" y="303.17" width="1.20" height="8.12" fill="rgb(32,32,32)"/><rect x="471.60" y="311.30" width="1.20" height="1.40" fill="rgb(92,92,92)"/><rect x="471.60" y="312.70" width="1.20" height="13.74" fill="rgb(32,32,32)"/><rect x="471.60" y="326.44" width="1.20" height="11.63" fill="rgb(213,213,213)"/><rect x="471.60" y="338.08" width="1.20" height="1.00" fill="rgb(224,224,224)"/><rect x="471.60" y="339.08" width="1.20" height="3.21" fill="rgb(196,196,196)"/><rect x="471.60" y="342.29" width="1.20" height="3.21" fill="rgb(227,227,227)"/><rect x="471.60" y="345.50" width="1.20" height="6.92" fill="rgb(85,85,85)"/><rect x="471.60" y="352.42" width="1.20" height="7.32" fill="rgb(224,224,224)"/><rect x="471.60" y="359.74" width="1.20" height="2.71" fill="rgb(221,221,221)"/><rect x="471.60" y="362.45" width="1.20" height="3.21" fill="rgb(229,229,229)"/><rect x="471.60" y="365.66" width="1.20" height="4.21" fill="rgb(28,28,28)"/><rect x="471.60" y="369.87" width="1.20" height="3.61" fill="rgb(111,111,111)"/><rect x="471.60" y="373.48" width="1.20" height="8.93" fill="rgb(32,32,32)"/><rect x="471.60" y="382.41" width="1.20" height="1.40" fill="rgb(38,38,38)"/><rect x="471.60" y="383.81" width="1.20" height="9.13" fill="rgb(32,32,32)"/><rect x="471.60" y="392.94" width="1.20" height="1.40" fill="rgb(38,38,38)"/><rect x="471.60" y="394.35" width="1.20" height="6.22" fill="rgb(32,32,32)"/><rect x="471.60" y="400.57" width="1.20" height="3.21" fill="rgb(106,106,106)"/><rect x="471.60" y="403.77" width="1.20" height="12.94" fill="rgb(32,32,32)"/><rect x="471.60" y="416.71" width="1.20" height="16.15" fill="rgb(226,226,226)"/><rect x="471.60" y="432.86" width="1.20" height="9.43" fill="rgb(161,161,161)"/><rect x="471.60" y="442.29" width="1.20" height="1.30" fill="rgb(210,210,210)"/><rect x="471.60" y="443.59" width="1.20" height="1.20" fill="rgb(230,230,230)"/><rect x="471.60" y="444.80" width="1.20" height="3.71" fill="rgb(153,153,153)"/><rect x="471.60" y="448.51" width="1.20" height="29.39" fill="rgb(224,224,224)"/><rect x="472.80" y="273.00" width="3.70" height="9.71" fill="rgb(84,84,84)"/><rect x="472.80" y="282.71" width="3.70" height="1.40" fill="rgb(87,87,87)"/><rect x="472.80" y="284.12" width="3.70" height="17.65" fill="rgb(84,84,84)"/><rect x="472.80" y="301.77" width="3.70" height="1.40" fill="rgb(87,87,87)"/><rect x="472.80" y="303.17" width="3.70" height="8.12" fill="rgb(84,84,84)"/><rect x="472.80" y="311.30" width="3.70" height="1.40" fill="rgb(89,89,89)"/><rect x="472.80" y="312.70" width="3.70" height="13.74" fill="rgb(84,84,84)"/><rect x="472.80" y="326.44" width="3.70" height="11.63" fill="rgb(151,151,151)"/><rect x="472.80" y="338.08" width="3.70" height="1.00" fill="rgb(183,183,183)"/><rect x="472.80" y="339.08" width="3.70" height="3.21" fill="rgb(179,179,179)"/><rect x="472.80" y="342.29" width="3.70" height="3.21" fill="rgb(174,174,174)"/><rect x="472.80" y="345.50" width="3.70" height="6.92" fill="rgb(32,32,32)"/><rect x="472.80" y="352.42" width="3.70" height="7.32" fill="rgb(182,182,182)"/><rect x="472.80" y="359.74" width="3.70" height="2.71" fill="rgb(122,122,122)"/><rect x="472.80" y="362.45" width="3.70" height="3.21" fill="rgb(162,162,162)"/><rect x="472.80" y="365.66" width="3.70" height="4.21" fill="rgb(115,115,115)"/><rect x="472.80" y="369.87" width="3.70" height="3.61" fill="rgb(221,221,221)"/><rect x="472.80" y="373.48" width="3.70" height="8.93" fill="rgb(84,84,84)"/><rect x="472.80" y="382.41" width="3.70" height="1.40" fill="rgb(40,40,40)"/><rect x="472.80" y="383.81" width="3.70" height="9.13" fill="rgb(84,84,84)"/><rect x="472.80" y="392.94" width="3.70" height="1.40" fill="rgb(40,40,40)"/><rect x="472.80" y="394.35" width="3.70" height="6.22" fill="rgb(84,84,84)"/><rect x="472.80" y="400.57" width="3.70" height="3.21" fill="rgb(17,17,17)"/><rect x="472.80" y="403.77" width="3.70" height="12.94" fill="rgb(84,84,84)"/><rect x="472.80" y="416.71" width="3.70" height="16.15" fill="rgb(125,125,125)"/><rect x="472.80" y="432.86" width="3.70" height="9.43" fill="rgb(39,39,39)"/><rect x="472.80" y="442.29" width="3.70" height="1.30" fill="rgb(90,90,90)"/><rect x="472.80" y="443.59" width="3.70" height="1.20" fill="rgb(153,153,153)"/><rect x="472.80" y="444.80" width="3.70" height="3.71" fill="rgb(229,229,229)"/><rect x="472.80" y="448.51" width="3.70" height="29.39" fill="rgb(119,119,119)"/><rect x="476.50" y="273.00" width="29.40" height="9.71" fill="rgb(32,32,32)"/><rect x="476.50" y="282.71" width="29.40" height="1.40" fill="rgb(71,71,71)"/><rect x="476.50" y="284.12" width="29.40" height="17.65" fill="rgb(32,32,32)"/><rect x="476.50" y="301.77" width="29.40" height="1.40" fill="rgb(71,71,71)"/><rect x="476.50" y="303.17" width="29.40" height="8.12" fill="rgb(32,32,32)"/><rect x="476.50" y="311.30" width="29.40" height="1.40" fill="rgb(91,91,91)"/><rect x="476.50" y="312.70" width="29.40" height="13.74" fill="rgb(32,32,32)"/><rect x="476.50" y="326.44" width="29.40" height="11.63" fill="rgb(216,216,216)"/><rect x="476.50" y="338.08" width="29.40" height="1.00" fill="rgb(209,209,209)"/><rect x="476.50" y="339.08" width="29.40" height="3.21" fill="rgb(174,174,174)"/><rect x="476.50" y="342.29" width="29.40" height="3.21" fill="rgb(213,213,213)"/><rect x="476.50" y="345.50" width="29.40" height="6.92" fill="rgb(117,117,117)"/><rect x="476.50" y="352.42" width="29.40" height="7.32" fill="rgb(210,210,210)"/><rect x="476.50" y="359.74" width="29.40" height="2.71" fill="rgb(222,222,222)"/><rect x="476.50" y="362.45" width="29.40" height="3.21" fill="rgb(221,221,221)"/><rect x="476.50" y="365.66" width="29.40" height="4.21" fill="rgb(19,19,19)"/><rect x="476.50" y="369.87" width="29.40" height="3.61" fill="rgb(76,76,76)"/><rect x="476.50" y="373.48" width="29.40" height="8.93" fill="rgb(32,32,32)"/><rect x="476.50" y="382.41" width="29.40" height="1.40" fill="rgb(54,54,54)"/><rect x="476.50" y="383.81" width="29.40" height="9.13" fill="rgb(32,32,32)"/><rect x="476.50" y="392.94" width="29.40" height="1.40" fill="rgb(54,54,54)"/><rect x="476.50" y="394.35" width="29.40" height="6.22" fill="rgb(32,32,32)"/><rect x="476.50" y="400.57" width="29.40" height="3.21" fill="rgb(133,133,133)"/><rect x="476.50" y="403.77" width="29.40" height="12.94" fill="rgb(32,32,32)"/><rect x="476.50" y="416.71" width="29.40" height="16.15" fill="rgb(229,229,229)"/><rect x="476.50" y="432.86" width="29.40" height="9.43" fill="rgb(191,191,191)"/><rect x="476.50" y="442.29" width="29.40" height="1.30" fill="rgb(225,225,225)"/><rect x="476.50" y="443.59" width="29.40" height="1.20" fill="rgb(224,224,224)"/><rect x="476.50" y="444.80" width="29.40" height="3.71" fill="rgb(119,119,119)"/><rect x="476.50" y="448.51" width="29.40" height="29.39" fill="rgb(230,230,230)"/></g></g><line x1="470.95" y1="277.0" x2="470.95" y2="473.9" stroke="#e8eefa" stroke-width="1.1" opacity="0.75"/><line x1="307.0" y1="443.9" x2="501.9" y2="443.9" stroke="#e8eefa" stroke-width="1.1" opacity="0.75"/><rect x="306.5" y="276.5" width="195.90" height="197.90" fill="none" stroke="#111" stroke-width="1.2"/><g clip-path="url(#clipB)"><g filter="url(#jetB)"><rect x="38" y="272" width="53" height="53" fill="rgb(222,222,222)"/><rect x="91" y="272" width="49" height="53" fill="rgb(28,28,28)"/><rect x="140" y="272" width="49" height="53" fill="rgb(28,28,28)"/><rect x="189" y="272" width="53" height="53" fill="rgb(28,28,28)"/><rect x="91" y="325" width="49" height="49" fill="rgb(222,222,222)"/><rect x="140" y="325" width="49" height="49" fill="rgb(28,28,28)"/><rect x="189" y="325" width="53" height="49" fill="rgb(28,28,28)"/><rect x="140" y="374" width="49" height="49" fill="rgb(222,222,222)"/><rect x="189" y="374" width="53" height="49" fill="rgb(28,28,28)"/><rect x="189" y="423" width="53" height="55" fill="rgb(222,222,222)"/><g transform="matrix(0,1.01024,0.98987,0,-231.0006,233.3650)"><rect x="91" y="272" width="49" height="53" fill="rgb(28,28,28)"/><rect x="140" y="272" width="49" height="53" fill="rgb(28,28,28)"/><rect x="189" y="272" width="53" height="53" fill="rgb(28,28,28)"/><rect x="140" y="325" width="49" height="49" fill="rgb(28,28,28)"/><rect x="189" y="325" width="53" height="49" fill="rgb(28,28,28)"/><rect x="189" y="374" width="53" height="49" fill="rgb(28,28,28)"/></g><circle cx="54.25" cy="281.18" r="4.80" fill="url(#gB)"/><circle cx="64.62" cy="279.77" r="4.41" fill="url(#gL)"/><circle cx="70.75" cy="281.18" r="3.52" fill="url(#gC)"/><circle cx="83.47" cy="280.71" r="5.21" fill="url(#gB)"/><circle cx="47.18" cy="287.78" r="4.80" fill="url(#gB)"/><circle cx="59.44" cy="287.31" r="4.80" fill="url(#gB)"/><circle cx="66.98" cy="286.84" r="3.10" fill="url(#gC)"/><circle cx="77.34" cy="287.31" r="4.80" fill="url(#gB)"/><circle cx="89.60" cy="287.78" r="3.43" fill="url(#gB)"/><circle cx="53.31" cy="293.44" r="4.12" fill="url(#gB)"/><circle cx="64.15" cy="292.97" r="3.10" fill="url(#gC)"/><circle cx="71.22" cy="292.97" r="3.10" fill="url(#gC)"/><circle cx="83.47" cy="293.44" r="4.12" fill="url(#gB)"/><circle cx="43.89" cy="296.26" r="4.41" fill="url(#gL)"/><circle cx="58.97" cy="298.15" r="3.10" fill="url(#gC)"/><circle cx="67.45" cy="298.15" r="1.84" fill="url(#gY)"/><circle cx="77.34" cy="298.15" r="3.10" fill="url(#gC)"/><circle cx="84.41" cy="300.03" r="4.41" fill="url(#gL)"/><circle cx="53.31" cy="300.98" r="3.10" fill="url(#gC)"/><circle cx="47.66" cy="304.75" r="3.10" fill="url(#gC)"/><circle cx="59.91" cy="305.22" r="3.52" fill="url(#gC)"/><circle cx="67.45" cy="305.69" r="1.84" fill="url(#gY)"/><circle cx="76.87" cy="305.22" r="3.10" fill="url(#gC)"/><circle cx="89.13" cy="304.28" r="3.43" fill="url(#gB)"/><circle cx="53.78" cy="310.87" r="4.80" fill="url(#gB)"/><circle cx="64.15" cy="311.34" r="3.10" fill="url(#gC)"/><circle cx="71.22" cy="311.34" r="3.10" fill="url(#gC)"/><circle cx="83.47" cy="310.87" r="4.80" fill="url(#gB)"/><circle cx="47.18" cy="317.47" r="5.21" fill="url(#gB)"/><circle cx="59.44" cy="317.47" r="4.12" fill="url(#gB)"/><circle cx="66.98" cy="317.94" r="3.68" fill="url(#gL)"/><circle cx="77.34" cy="317.47" r="5.21" fill="url(#gB)"/><circle cx="89.13" cy="317.47" r="4.12" fill="url(#gB)"/><circle cx="54.25" cy="323.60" r="4.12" fill="url(#gB)"/><circle cx="64.62" cy="323.13" r="3.52" fill="url(#gC)"/><circle cx="71.22" cy="323.60" r="3.10" fill="url(#gC)"/><circle cx="83.47" cy="323.13" r="4.12" fill="url(#gB)"/><circle cx="93.53" cy="278.27" r="3.31" fill="url(#gL)"/><circle cx="99.50" cy="278.20" r="3.32" fill="url(#gL)"/><circle cx="107.15" cy="279.66" r="3.59" fill="url(#gC)"/><circle cx="111.88" cy="279.14" r="4.34" fill="url(#gO)"/><circle cx="124.03" cy="278.27" r="3.18" fill="url(#gC)"/><circle cx="131.67" cy="279.72" r="3.62" fill="url(#gL)"/><circle cx="137.54" cy="278.45" r="4.37" fill="url(#gO)"/><circle cx="94.32" cy="285.65" r="3.66" fill="url(#gL)"/><circle cx="100.95" cy="284.36" r="4.67" fill="url(#gO)"/><circle cx="118.91" cy="285.20" r="3.15" fill="url(#gL)"/><circle cx="124.63" cy="284.37" r="3.72" fill="url(#gC)"/><circle cx="137.67" cy="285.28" r="3.24" fill="url(#gL)"/><circle cx="94.88" cy="291.46" r="3.81" fill="url(#gG)"/><circle cx="107.01" cy="291.33" r="3.56" fill="url(#gY)"/><circle cx="112.64" cy="291.17" r="3.35" fill="url(#gY)"/><circle cx="118.17" cy="291.94" r="3.15" fill="url(#gG)"/><circle cx="123.78" cy="291.57" r="3.23" fill="url(#gL)"/><circle cx="130.88" cy="291.25" r="4.40" fill="url(#gO)"/><circle cx="137.93" cy="290.70" r="3.56" fill="url(#gY)"/><circle cx="99.59" cy="297.70" r="3.45" fill="url(#gY)"/><circle cx="106.02" cy="297.93" r="3.48" fill="url(#gY)"/><circle cx="112.55" cy="298.25" r="3.84" fill="url(#gN)"/><circle cx="117.69" cy="296.90" r="3.72" fill="url(#gG)"/><circle cx="124.92" cy="296.91" r="3.27" fill="url(#gC)"/><circle cx="130.17" cy="297.36" r="3.05" fill="url(#gL)"/><circle cx="94.46" cy="304.35" r="3.74" fill="url(#gL)"/><circle cx="100.66" cy="304.48" r="4.07" fill="url(#gO)"/><circle cx="105.89" cy="304.49" r="3.60" fill="url(#gL)"/><circle cx="118.38" cy="304.45" r="3.48" fill="url(#gC)"/><circle cx="137.57" cy="303.15" r="3.16" fill="url(#gL)"/><circle cx="93.95" cy="308.96" r="3.30" fill="url(#gL)"/><circle cx="107.24" cy="309.35" r="3.13" fill="url(#gG)"/><circle cx="111.53" cy="309.03" r="4.85" fill="url(#gO)"/><circle cx="124.41" cy="309.27" r="3.09" fill="url(#gC)"/><circle cx="137.90" cy="309.54" r="4.27" fill="url(#gO)"/><circle cx="93.18" cy="314.92" r="4.23" fill="url(#gO)"/><circle cx="106.67" cy="315.11" r="3.05" fill="url(#gC)"/><circle cx="118.54" cy="315.31" r="4.03" fill="url(#gY)"/><circle cx="123.93" cy="315.87" r="3.60" fill="url(#gL)"/><circle cx="100.01" cy="322.91" r="3.38" fill="url(#gC)"/><circle cx="111.92" cy="321.76" r="4.09" fill="url(#gO)"/><circle cx="136.78" cy="321.43" r="4.96" fill="url(#gO)"/><circle cx="103.25" cy="281.18" r="6.13" fill="url(#gY)"/><circle cx="113.62" cy="280.71" r="7.44" fill="url(#gR)"/><circle cx="125.87" cy="281.18" r="4.93" fill="url(#gC)"/><circle cx="135.30" cy="280.71" r="7.44" fill="url(#gR)"/><circle cx="91.94" cy="280.71" r="4.96" fill="url(#gO)"/><circle cx="97.13" cy="287.78" r="7.44" fill="url(#gR)"/><circle cx="120.22" cy="289.20" r="4.41" fill="url(#gG)"/><circle cx="135.30" cy="288.25" r="3.52" fill="url(#gC)"/><circle cx="92.89" cy="293.91" r="3.68" fill="url(#gG)"/><circle cx="107.02" cy="293.44" r="8.27" fill="url(#gO)"/><circle cx="121.16" cy="294.85" r="7.35" fill="url(#gG)"/><circle cx="134.36" cy="293.44" r="6.62" fill="url(#gR)"/><circle cx="98.07" cy="298.15" r="5.79" fill="url(#gO)"/><circle cx="107.97" cy="300.98" r="5.79" fill="url(#gO)"/><circle cx="121.16" cy="301.45" r="5.15" fill="url(#gG)"/><circle cx="126.82" cy="299.56" r="3.52" fill="url(#gC)"/><circle cx="97.13" cy="305.22" r="6.62" fill="url(#gR)"/><circle cx="107.97" cy="304.28" r="3.52" fill="url(#gC)"/><circle cx="119.28" cy="304.28" r="3.52" fill="url(#gC)"/><circle cx="134.36" cy="304.28" r="3.52" fill="url(#gC)"/><circle cx="91.94" cy="310.87" r="4.14" fill="url(#gO)"/><circle cx="104.20" cy="311.34" r="4.59" fill="url(#gY)"/><circle cx="111.26" cy="311.34" r="6.62" fill="url(#gO)"/><circle cx="125.40" cy="309.93" r="4.93" fill="url(#gC)"/><circle cx="135.30" cy="311.34" r="7.44" fill="url(#gR)"/><circle cx="97.13" cy="317.47" r="7.44" fill="url(#gR)"/><circle cx="107.49" cy="316.53" r="3.52" fill="url(#gC)"/><circle cx="121.16" cy="317.47" r="5.79" fill="url(#gO)"/><circle cx="129.64" cy="317.47" r="3.31" fill="url(#gO)"/><circle cx="103.25" cy="323.13" r="4.23" fill="url(#gC)"/><circle cx="113.62" cy="323.13" r="6.62" fill="url(#gR)"/><circle cx="135.30" cy="323.13" r="6.62" fill="url(#gR)"/><circle cx="113.62" cy="297.68" r="4.23" fill="url(#gN)"/><circle cx="114.56" cy="306.16" r="3.52" fill="url(#gN)"/><circle cx="142.71" cy="278.36" r="3.51" fill="url(#gL)"/><circle cx="148.33" cy="279.13" r="3.52" fill="url(#gY)"/><circle cx="160.55" cy="279.08" r="3.04" fill="url(#gC)"/><circle cx="167.43" cy="278.20" r="3.30" fill="url(#gY)"/><circle cx="179.66" cy="279.72" r="4.40" fill="url(#gR)"/><circle cx="185.38" cy="279.32" r="3.73" fill="url(#gL)"/><circle cx="143.22" cy="284.98" r="3.75" fill="url(#gC)"/><circle cx="148.28" cy="285.90" r="3.23" fill="url(#gC)"/><circle cx="166.85" cy="284.42" r="3.25" fill="url(#gC)"/><circle cx="174.32" cy="284.55" r="3.45" fill="url(#gL)"/><circle cx="180.09" cy="284.93" r="4.61" fill="url(#gO)"/><circle cx="185.06" cy="284.31" r="4.26" fill="url(#gO)"/><circle cx="143.42" cy="291.17" r="3.37" fill="url(#gG)"/><circle cx="149.36" cy="291.22" r="3.24" fill="url(#gL)"/><circle cx="162.03" cy="291.71" r="3.20" fill="url(#gC)"/><circle cx="167.71" cy="291.36" r="3.80" fill="url(#gG)"/><circle cx="174.15" cy="290.89" r="3.76" fill="url(#gC)"/><circle cx="179.05" cy="291.15" r="4.82" fill="url(#gO)"/><circle cx="142.37" cy="297.42" r="3.05" fill="url(#gC)"/><circle cx="155.65" cy="297.97" r="3.45" fill="url(#gL)"/><circle cx="168.31" cy="297.06" r="3.54" fill="url(#gC)"/><circle cx="173.88" cy="297.60" r="3.48" fill="url(#gG)"/><circle cx="180.49" cy="298.33" r="3.37" fill="url(#gL)"/><circle cx="186.27" cy="296.56" r="5.01" fill="url(#gR)"/><circle cx="143.36" cy="304.55" r="3.64" fill="url(#gL)"/><circle cx="148.76" cy="303.33" r="3.52" fill="url(#gL)"/><circle cx="154.36" cy="303.49" r="3.14" fill="url(#gC)"/><circle cx="166.80" cy="302.68" r="3.60" fill="url(#gC)"/><circle cx="172.95" cy="303.06" r="3.31" fill="url(#gC)"/><circle cx="180.56" cy="302.72" r="3.35" fill="url(#gL)"/><circle cx="186.04" cy="304.33" r="4.89" fill="url(#gO)"/><circle cx="143.79" cy="309.24" r="3.33" fill="url(#gL)"/><circle cx="148.91" cy="310.46" r="4.00" fill="url(#gY)"/><circle cx="160.74" cy="309.04" r="3.19" fill="url(#gL)"/><circle cx="167.03" cy="309.66" r="4.65" fill="url(#gO)"/><circle cx="173.21" cy="308.70" r="3.33" fill="url(#gC)"/><circle cx="179.55" cy="309.82" r="5.28" fill="url(#gR)"/><circle cx="143.44" cy="315.84" r="4.68" fill="url(#gO)"/><circle cx="149.54" cy="314.92" r="3.82" fill="url(#gG)"/><circle cx="155.87" cy="316.56" r="4.87" fill="url(#gO)"/><circle cx="161.22" cy="315.61" r="3.31" fill="url(#gY)"/><circle cx="167.83" cy="314.94" r="3.07" fill="url(#gC)"/><circle cx="173.11" cy="315.14" r="4.40" fill="url(#gO)"/><circle cx="178.92" cy="314.81" r="3.24" fill="url(#gG)"/><circle cx="185.14" cy="315.54" r="4.29" fill="url(#gR)"/><circle cx="143.81" cy="322.17" r="3.13" fill="url(#gL)"/><circle cx="154.82" cy="321.63" r="3.29" fill="url(#gL)"/><circle cx="166.81" cy="322.64" r="5.06" fill="url(#gO)"/><circle cx="179.74" cy="321.91" r="4.36" fill="url(#gR)"/><circle cx="141.89" cy="286.37" r="4.23" fill="url(#gC)"/><circle cx="147.54" cy="286.37" r="4.23" fill="url(#gC)"/><circle cx="156.97" cy="287.31" r="4.93" fill="url(#gC)"/><circle cx="165.45" cy="288.25" r="4.23" fill="url(#gC)"/><circle cx="172.99" cy="289.20" r="4.23" fill="url(#gC)"/><circle cx="142.83" cy="296.74" r="3.52" fill="url(#gC)"/><circle cx="151.31" cy="295.79" r="3.52" fill="url(#gC)"/><circle cx="158.85" cy="297.68" r="3.52" fill="url(#gC)"/><circle cx="166.39" cy="296.74" r="4.23" fill="url(#gC)"/><circle cx="173.93" cy="296.74" r="4.23" fill="url(#gC)"/><circle cx="142.83" cy="304.28" r="3.52" fill="url(#gC)"/><circle cx="150.37" cy="302.39" r="3.52" fill="url(#gC)"/><circle cx="157.91" cy="303.33" r="3.52" fill="url(#gC)"/><circle cx="165.45" cy="304.28" r="3.52" fill="url(#gC)"/><circle cx="172.99" cy="306.16" r="3.52" fill="url(#gC)"/><circle cx="147.54" cy="308.05" r="3.52" fill="url(#gC)"/><circle cx="156.02" cy="308.99" r="3.52" fill="url(#gC)"/><circle cx="164.51" cy="308.99" r="3.52" fill="url(#gC)"/><circle cx="145.66" cy="315.59" r="3.52" fill="url(#gC)"/><circle cx="156.02" cy="314.64" r="4.23" fill="url(#gC)"/><circle cx="164.51" cy="314.64" r="4.23" fill="url(#gC)"/><circle cx="172.05" cy="313.70" r="3.52" fill="url(#gC)"/><circle cx="158.85" cy="277.89" r="4.23" fill="url(#gC)"/><circle cx="143.77" cy="284.48" r="2.94" fill="url(#gG)"/><circle cx="147.54" cy="278.83" r="4.96" fill="url(#gO)"/><circle cx="167.33" cy="279.77" r="5.79" fill="url(#gO)"/><circle cx="146.60" cy="292.97" r="3.06" fill="url(#gY)"/><circle cx="141.89" cy="294.85" r="3.31" fill="url(#gO)"/><circle cx="167.33" cy="293.91" r="3.83" fill="url(#gY)"/><circle cx="166.39" cy="311.82" r="5.79" fill="url(#gO)"/><circle cx="172.99" cy="317.47" r="5.79" fill="url(#gO)"/><circle cx="143.77" cy="317.47" r="4.96" fill="url(#gO)"/><circle cx="153.20" cy="317.47" r="4.96" fill="url(#gO)"/><circle cx="160.74" cy="317.47" r="4.96" fill="url(#gO)"/><circle cx="147.54" cy="311.82" r="3.06" fill="url(#gY)"/><circle cx="167.33" cy="323.13" r="4.96" fill="url(#gR)"/><circle cx="146.60" cy="304.28" r="3.06" fill="url(#gY)"/><circle cx="173.93" cy="288.25" r="3.83" fill="url(#gY)"/><circle cx="180.53" cy="279.77" r="6.62" fill="url(#gR)"/><circle cx="183.36" cy="286.37" r="5.79" fill="url(#gR)"/><circle cx="179.59" cy="292.02" r="5.79" fill="url(#gR)"/><circle cx="184.30" cy="298.62" r="5.79" fill="url(#gR)"/><circle cx="181.47" cy="304.28" r="4.96" fill="url(#gO)"/><circle cx="181.47" cy="310.87" r="6.62" fill="url(#gR)"/><circle cx="185.24" cy="316.53" r="5.79" fill="url(#gR)"/><circle cx="181.47" cy="322.18" r="5.79" fill="url(#gR)"/><circle cx="177.70" cy="285.43" r="4.14" fill="url(#gO)"/><circle cx="176.76" cy="299.56" r="4.14" fill="url(#gO)"/><circle cx="177.70" cy="313.70" r="4.14" fill="url(#gO)"/><circle cx="187.13" cy="282.60" r="4.12" fill="url(#gB)"/><circle cx="187.60" cy="293.91" r="4.12" fill="url(#gB)"/><circle cx="178.64" cy="297.68" r="3.02" fill="url(#gB)"/><circle cx="179.59" cy="306.16" r="3.43" fill="url(#gB)"/><circle cx="187.60" cy="310.87" r="4.12" fill="url(#gB)"/><circle cx="187.13" cy="322.18" r="3.43" fill="url(#gB)"/><circle cx="198.33" cy="278.92" r="4.64" fill="url(#gO)"/><circle cx="203.72" cy="279.69" r="3.76" fill="url(#gG)"/><circle cx="210.74" cy="278.38" r="4.58" fill="url(#gO)"/><circle cx="216.22" cy="278.56" r="3.73" fill="url(#gL)"/><circle cx="223.68" cy="278.15" r="4.93" fill="url(#gO)"/><circle cx="229.02" cy="278.83" r="4.57" fill="url(#gR)"/><circle cx="192.41" cy="285.10" r="3.65" fill="url(#gG)"/><circle cx="198.51" cy="284.45" r="4.83" fill="url(#gO)"/><circle cx="205.28" cy="286.13" r="3.48" fill="url(#gC)"/><circle cx="215.65" cy="284.20" r="3.12" fill="url(#gC)"/><circle cx="223.57" cy="284.79" r="4.43" fill="url(#gO)"/><circle cx="229.61" cy="284.82" r="3.43" fill="url(#gC)"/><circle cx="234.81" cy="284.32" r="3.58" fill="url(#gG)"/><circle cx="198.88" cy="290.63" r="4.28" fill="url(#gO)"/><circle cx="204.14" cy="290.39" r="3.39" fill="url(#gL)"/><circle cx="211.07" cy="291.63" r="4.83" fill="url(#gR)"/><circle cx="223.40" cy="290.61" r="4.63" fill="url(#gO)"/><circle cx="228.56" cy="291.52" r="4.38" fill="url(#gR)"/><circle cx="192.61" cy="296.63" r="3.14" fill="url(#gL)"/><circle cx="198.80" cy="298.33" r="4.50" fill="url(#gO)"/><circle cx="210.27" cy="296.93" r="4.56" fill="url(#gR)"/><circle cx="222.92" cy="296.79" r="3.21" fill="url(#gG)"/><circle cx="228.72" cy="296.77" r="3.75" fill="url(#gY)"/><circle cx="235.58" cy="297.99" r="3.38" fill="url(#gL)"/><circle cx="191.76" cy="303.43" r="3.02" fill="url(#gC)"/><circle cx="198.61" cy="303.23" r="4.60" fill="url(#gR)"/><circle cx="203.47" cy="303.46" r="3.57" fill="url(#gG)"/><circle cx="210.22" cy="304.30" r="3.52" fill="url(#gC)"/><circle cx="216.05" cy="303.61" r="3.83" fill="url(#gG)"/><circle cx="222.73" cy="303.77" r="3.17" fill="url(#gG)"/><circle cx="228.79" cy="303.49" r="3.55" fill="url(#gY)"/><circle cx="234.78" cy="303.73" r="3.42" fill="url(#gL)"/><circle cx="198.17" cy="309.02" r="4.50" fill="url(#gO)"/><circle cx="205.25" cy="309.52" r="3.15" fill="url(#gG)"/><circle cx="209.44" cy="309.76" r="4.32" fill="url(#gR)"/><circle cx="215.75" cy="308.91" r="3.36" fill="url(#gL)"/><circle cx="223.67" cy="309.66" r="4.52" fill="url(#gO)"/><circle cx="228.69" cy="309.69" r="4.74" fill="url(#gR)"/><circle cx="192.51" cy="316.61" r="3.66" fill="url(#gG)"/><circle cx="204.16" cy="316.11" r="3.70" fill="url(#gC)"/><circle cx="215.87" cy="315.29" r="3.48" fill="url(#gC)"/><circle cx="223.06" cy="316.10" r="3.70" fill="url(#gY)"/><circle cx="235.60" cy="315.77" r="3.62" fill="url(#gL)"/><circle cx="192.99" cy="321.81" r="3.92" fill="url(#gY)"/><circle cx="198.62" cy="322.71" r="4.10" fill="url(#gO)"/><circle cx="205.14" cy="322.47" r="5.29" fill="url(#gR)"/><circle cx="211.40" cy="321.51" r="3.64" fill="url(#gG)"/><circle cx="215.85" cy="322.13" r="4.99" fill="url(#gO)"/><circle cx="222.07" cy="321.64" r="3.18" fill="url(#gG)"/><circle cx="228.20" cy="321.35" r="3.30" fill="url(#gY)"/><circle cx="235.94" cy="322.71" r="4.53" fill="url(#gO)"/><circle cx="190.89" cy="281.18" r="5.49" fill="url(#gB)"/><circle cx="219.16" cy="281.18" r="5.15" fill="url(#gL)"/><circle cx="236.13" cy="281.18" r="4.12" fill="url(#gB)"/><circle cx="208.79" cy="287.78" r="4.80" fill="url(#gB)"/><circle cx="190.89" cy="292.97" r="4.80" fill="url(#gB)"/><circle cx="203.14" cy="296.26" r="5.49" fill="url(#gB)"/><circle cx="219.16" cy="295.79" r="5.49" fill="url(#gB)"/><circle cx="236.13" cy="292.97" r="4.12" fill="url(#gB)"/><circle cx="190.89" cy="299.56" r="4.12" fill="url(#gB)"/><circle cx="218.22" cy="301.45" r="4.12" fill="url(#gB)"/><circle cx="236.13" cy="300.51" r="4.12" fill="url(#gB)"/><circle cx="190.89" cy="310.87" r="4.80" fill="url(#gB)"/><circle cx="219.16" cy="310.87" r="5.15" fill="url(#gL)"/><circle cx="236.13" cy="309.93" r="4.12" fill="url(#gB)"/><circle cx="197.48" cy="317.47" r="3.43" fill="url(#gB)"/><circle cx="208.79" cy="317.47" r="4.80" fill="url(#gB)"/><circle cx="227.64" cy="317.47" r="5.49" fill="url(#gB)"/><circle cx="236.13" cy="323.13" r="2.74" fill="url(#gB)"/><circle cx="191.83" cy="323.13" r="2.74" fill="url(#gB)"/><circle cx="201.25" cy="281.66" r="5.79" fill="url(#gR)"/><circle cx="210.68" cy="279.77" r="3.31" fill="url(#gO)"/><circle cx="228.59" cy="279.77" r="5.79" fill="url(#gR)"/><circle cx="224.82" cy="286.37" r="3.31" fill="url(#gO)"/><circle cx="210.68" cy="292.97" r="5.79" fill="url(#gR)"/><circle cx="227.64" cy="292.97" r="4.96" fill="url(#gR)"/><circle cx="197.48" cy="294.85" r="4.14" fill="url(#gR)"/><circle cx="210.68" cy="301.45" r="4.14" fill="url(#gR)"/><circle cx="228.59" cy="301.45" r="4.14" fill="url(#gO)"/><circle cx="195.60" cy="307.10" r="4.96" fill="url(#gR)"/><circle cx="210.68" cy="310.87" r="5.79" fill="url(#gR)"/><circle cx="228.59" cy="310.87" r="4.96" fill="url(#gR)"/><circle cx="202.20" cy="322.18" r="4.96" fill="url(#gR)"/><circle cx="217.28" cy="321.24" r="4.14" fill="url(#gR)"/><circle cx="233.30" cy="321.24" r="4.14" fill="url(#gR)"/><circle cx="198.43" cy="286.37" r="3.31" fill="url(#gO)"/><circle cx="226.70" cy="288.25" r="4.23" fill="url(#gC)"/><circle cx="201.25" cy="288.25" r="2.82" fill="url(#gC)"/><circle cx="203.14" cy="304.28" r="4.41" fill="url(#gG)"/><circle cx="217.28" cy="306.16" r="3.68" fill="url(#gG)"/><circle cx="230.47" cy="306.16" r="4.59" fill="url(#gY)"/><circle cx="200.31" cy="314.64" r="2.82" fill="url(#gC)"/><circle cx="218.22" cy="315.59" r="2.82" fill="url(#gC)"/><circle cx="215.39" cy="287.31" r="2.82" fill="url(#gC)"/><circle cx="96.66" cy="325.94" r="4.12" fill="url(#gB)"/><circle cx="121.16" cy="325.94" r="3.43" fill="url(#gB)"/><circle cx="91.94" cy="331.60" r="4.12" fill="url(#gB)"/><circle cx="103.72" cy="331.60" r="4.12" fill="url(#gB)"/><circle cx="113.62" cy="331.60" r="5.49" fill="url(#gB)"/><circle cx="135.30" cy="331.60" r="5.49" fill="url(#gB)"/><circle cx="96.66" cy="338.20" r="4.12" fill="url(#gB)"/><circle cx="113.62" cy="341.49" r="4.12" fill="url(#gB)"/><circle cx="97.13" cy="348.09" r="5.49" fill="url(#gB)"/><circle cx="107.49" cy="348.09" r="4.12" fill="url(#gB)"/><circle cx="122.10" cy="348.09" r="6.18" fill="url(#gB)"/><circle cx="129.64" cy="348.09" r="3.43" fill="url(#gB)"/><circle cx="113.62" cy="356.10" r="4.80" fill="url(#gB)"/><circle cx="136.24" cy="355.16" r="4.12" fill="url(#gB)"/><circle cx="113.62" cy="364.59" r="4.12" fill="url(#gB)"/><circle cx="96.66" cy="369.30" r="4.80" fill="url(#gB)"/><circle cx="136.24" cy="365.53" r="3.43" fill="url(#gB)"/><circle cx="122.10" cy="370.24" r="4.80" fill="url(#gB)"/><circle cx="107.97" cy="371.18" r="2.82" fill="url(#gC)"/><circle cx="125.87" cy="331.60" r="3.52" fill="url(#gC)"/><circle cx="121.16" cy="337.25" r="2.82" fill="url(#gC)"/><circle cx="135.30" cy="342.44" r="3.52" fill="url(#gC)"/><circle cx="103.25" cy="355.16" r="2.82" fill="url(#gC)"/><circle cx="96.66" cy="360.82" r="2.82" fill="url(#gC)"/><circle cx="103.25" cy="364.59" r="2.11" fill="url(#gC)"/><circle cx="126.82" cy="369.30" r="2.82" fill="url(#gC)"/><circle cx="134.36" cy="369.30" r="2.82" fill="url(#gC)"/><circle cx="103.25" cy="342.44" r="3.06" fill="url(#gY)"/><circle cx="126.82" cy="355.16" r="3.06" fill="url(#gY)"/><circle cx="107.02" cy="364.59" r="2.30" fill="url(#gY)"/><circle cx="142.28" cy="328.47" r="4.72" fill="url(#gO)"/><circle cx="150.07" cy="327.60" r="3.21" fill="url(#gL)"/><circle cx="155.78" cy="328.38" r="3.47" fill="url(#gY)"/><circle cx="161.81" cy="327.86" r="3.73" fill="url(#gG)"/><circle cx="172.92" cy="327.51" r="4.97" fill="url(#gO)"/><circle cx="185.65" cy="327.58" r="4.87" fill="url(#gO)"/><circle cx="143.33" cy="333.49" r="4.62" fill="url(#gO)"/><circle cx="155.64" cy="333.52" r="4.72" fill="url(#gO)"/><circle cx="160.68" cy="333.86" r="4.14" fill="url(#gO)"/><circle cx="166.97" cy="335.14" r="3.32" fill="url(#gC)"/><circle cx="174.67" cy="334.06" r="4.67" fill="url(#gO)"/><circle cx="180.56" cy="334.56" r="3.10" fill="url(#gL)"/><circle cx="186.12" cy="334.45" r="3.15" fill="url(#gC)"/><circle cx="142.25" cy="341.06" r="4.58" fill="url(#gO)"/><circle cx="154.70" cy="340.22" r="3.18" fill="url(#gC)"/><circle cx="168.16" cy="340.31" r="3.09" fill="url(#gC)"/><circle cx="174.32" cy="339.49" r="4.34" fill="url(#gO)"/><circle cx="178.87" cy="340.79" r="3.10" fill="url(#gC)"/><circle cx="149.24" cy="345.62" r="4.78" fill="url(#gR)"/><circle cx="155.68" cy="346.51" r="3.36" fill="url(#gC)"/><circle cx="161.41" cy="346.31" r="4.66" fill="url(#gO)"/><circle cx="166.75" cy="346.39" r="4.52" fill="url(#gR)"/><circle cx="180.54" cy="347.32" r="3.17" fill="url(#gG)"/><circle cx="185.22" cy="346.84" r="3.45" fill="url(#gL)"/><circle cx="142.10" cy="352.97" r="5.01" fill="url(#gO)"/><circle cx="155.16" cy="352.26" r="3.56" fill="url(#gG)"/><circle cx="162.32" cy="352.09" r="3.24" fill="url(#gL)"/><circle cx="173.06" cy="352.82" r="4.53" fill="url(#gO)"/><circle cx="179.32" cy="352.34" r="3.04" fill="url(#gL)"/><circle cx="185.56" cy="353.53" r="3.46" fill="url(#gC)"/><circle cx="142.63" cy="359.56" r="4.65" fill="url(#gR)"/><circle cx="154.82" cy="357.76" r="4.20" fill="url(#gO)"/><circle cx="160.84" cy="358.15" r="4.94" fill="url(#gO)"/><circle cx="173.22" cy="358.18" r="4.91" fill="url(#gR)"/><circle cx="186.77" cy="358.27" r="3.59" fill="url(#gC)"/><circle cx="142.80" cy="364.93" r="4.90" fill="url(#gR)"/><circle cx="156.20" cy="365.33" r="4.57" fill="url(#gO)"/><circle cx="162.12" cy="364.55" r="4.45" fill="url(#gO)"/><circle cx="168.48" cy="364.90" r="3.60" fill="url(#gL)"/><circle cx="173.32" cy="365.64" r="4.68" fill="url(#gO)"/><circle cx="148.68" cy="371.80" r="3.60" fill="url(#gY)"/><circle cx="154.99" cy="370.46" r="4.16" fill="url(#gO)"/><circle cx="166.96" cy="371.32" r="4.20" fill="url(#gO)"/><circle cx="179.33" cy="370.83" r="3.43" fill="url(#gL)"/><circle cx="152.25" cy="337.25" r="3.52" fill="url(#gC)"/><circle cx="162.62" cy="338.20" r="3.52" fill="url(#gC)"/><circle cx="171.10" cy="337.25" r="3.52" fill="url(#gC)"/><circle cx="179.59" cy="341.97" r="4.23" fill="url(#gC)"/><circle cx="179.59" cy="351.39" r="4.23" fill="url(#gC)"/><circle cx="179.59" cy="360.82" r="4.23" fill="url(#gC)"/><circle cx="162.62" cy="353.28" r="3.52" fill="url(#gC)"/><circle cx="156.97" cy="364.59" r="3.52" fill="url(#gC)"/><circle cx="168.28" cy="362.70" r="3.52" fill="url(#gC)"/><circle cx="145.66" cy="362.70" r="3.52" fill="url(#gC)"/><circle cx="152.25" cy="351.39" r="2.82" fill="url(#gC)"/><circle cx="147.54" cy="331.60" r="4.12" fill="url(#gB)"/><circle cx="166.39" cy="331.60" r="5.49" fill="url(#gB)"/><circle cx="181.47" cy="330.66" r="4.80" fill="url(#gB)"/><circle cx="183.36" cy="336.31" r="4.12" fill="url(#gB)"/><circle cx="185.24" cy="346.68" r="4.12" fill="url(#gB)"/><circle cx="181.47" cy="355.16" r="4.80" fill="url(#gB)"/><circle cx="184.30" cy="364.59" r="4.80" fill="url(#gB)"/><circle cx="187.13" cy="372.13" r="3.43" fill="url(#gB)"/><circle cx="147.54" cy="341.49" r="4.80" fill="url(#gB)"/><circle cx="156.97" cy="341.49" r="4.12" fill="url(#gB)"/><circle cx="166.39" cy="341.97" r="2.82" fill="url(#gC)"/><circle cx="141.89" cy="348.09" r="4.12" fill="url(#gB)"/><circle cx="172.99" cy="348.09" r="5.49" fill="url(#gB)"/><circle cx="156.02" cy="348.56" r="2.94" fill="url(#gL)"/><circle cx="147.54" cy="355.16" r="4.80" fill="url(#gB)"/><circle cx="165.45" cy="356.10" r="4.80" fill="url(#gB)"/><circle cx="156.97" cy="355.16" r="2.94" fill="url(#gL)"/><circle cx="148.48" cy="364.59" r="4.12" fill="url(#gB)"/><circle cx="166.39" cy="364.59" r="4.41" fill="url(#gL)"/><circle cx="142.83" cy="370.24" r="4.12" fill="url(#gB)"/><circle cx="161.68" cy="370.24" r="3.43" fill="url(#gB)"/><circle cx="172.99" cy="370.24" r="4.12" fill="url(#gB)"/><circle cx="143.77" cy="327.83" r="4.96" fill="url(#gR)"/><circle cx="157.91" cy="326.89" r="4.96" fill="url(#gO)"/><circle cx="171.10" cy="326.89" r="4.14" fill="url(#gO)"/><circle cx="187.60" cy="331.60" r="4.14" fill="url(#gR)"/><circle cx="141.89" cy="341.02" r="5.79" fill="url(#gO)"/><circle cx="174.87" cy="341.02" r="4.14" fill="url(#gO)"/><circle cx="152.25" cy="336.31" r="3.31" fill="url(#gO)"/><circle cx="162.62" cy="336.31" r="4.14" fill="url(#gO)"/><circle cx="147.54" cy="348.56" r="4.14" fill="url(#gR)"/><circle cx="166.39" cy="348.56" r="4.96" fill="url(#gR)"/><circle cx="158.85" cy="348.56" r="3.31" fill="url(#gO)"/><circle cx="141.89" cy="358.93" r="6.62" fill="url(#gR)"/><circle cx="173.93" cy="357.99" r="6.62" fill="url(#gR)"/><circle cx="152.25" cy="357.99" r="4.14" fill="url(#gO)"/><circle cx="160.74" cy="357.99" r="4.14" fill="url(#gO)"/><circle cx="141.89" cy="365.53" r="4.96" fill="url(#gR)"/><circle cx="174.87" cy="364.59" r="4.14" fill="url(#gO)"/><circle cx="153.20" cy="364.59" r="3.31" fill="url(#gO)"/><circle cx="159.79" cy="364.59" r="3.31" fill="url(#gO)"/><circle cx="154.14" cy="372.13" r="4.14" fill="url(#gO)"/><circle cx="167.33" cy="372.13" r="4.14" fill="url(#gO)"/><circle cx="152.25" cy="331.60" r="2.82" fill="url(#gC)"/><circle cx="177.70" cy="336.31" r="3.52" fill="url(#gC)"/><circle cx="162.62" cy="343.85" r="2.82" fill="url(#gC)"/><circle cx="152.25" cy="343.85" r="2.82" fill="url(#gC)"/><circle cx="192.11" cy="328.68" r="5.03" fill="url(#gO)"/><circle cx="203.89" cy="328.59" r="3.55" fill="url(#gC)"/><circle cx="216.89" cy="327.28" r="3.04" fill="url(#gC)"/><circle cx="222.46" cy="328.56" r="3.43" fill="url(#gY)"/><circle cx="234.94" cy="327.70" r="4.91" fill="url(#gO)"/><circle cx="192.95" cy="333.99" r="3.77" fill="url(#gC)"/><circle cx="209.56" cy="334.81" r="3.68" fill="url(#gC)"/><circle cx="221.99" cy="334.60" r="3.44" fill="url(#gC)"/><circle cx="229.72" cy="333.61" r="3.42" fill="url(#gL)"/><circle cx="192.83" cy="340.59" r="3.25" fill="url(#gL)"/><circle cx="197.35" cy="341.19" r="3.49" fill="url(#gG)"/><circle cx="205.31" cy="339.60" r="4.50" fill="url(#gN)"/><circle cx="211.06" cy="341.15" r="4.07" fill="url(#gO)"/><circle cx="216.31" cy="339.42" r="4.45" fill="url(#gN)"/><circle cx="222.40" cy="341.23" r="3.41" fill="url(#gG)"/><circle cx="229.36" cy="341.05" r="3.31" fill="url(#gG)"/><circle cx="192.18" cy="347.35" r="4.59" fill="url(#gO)"/><circle cx="197.91" cy="345.97" r="5.10" fill="url(#gR)"/><circle cx="203.70" cy="346.65" r="4.86" fill="url(#gR)"/><circle cx="210.54" cy="345.70" r="3.51" fill="url(#gC)"/><circle cx="217.40" cy="346.08" r="4.39" fill="url(#gO)"/><circle cx="223.51" cy="346.59" r="3.33" fill="url(#gG)"/><circle cx="227.83" cy="346.94" r="3.28" fill="url(#gC)"/><circle cx="234.87" cy="345.98" r="3.49" fill="url(#gL)"/><circle cx="192.52" cy="352.18" r="3.07" fill="url(#gC)"/><circle cx="205.29" cy="353.38" r="3.76" fill="url(#gN)"/><circle cx="210.57" cy="352.93" r="4.46" fill="url(#gO)"/><circle cx="223.15" cy="353.48" r="3.46" fill="url(#gL)"/><circle cx="228.60" cy="351.95" r="3.21" fill="url(#gC)"/><circle cx="191.36" cy="357.91" r="3.18" fill="url(#gL)"/><circle cx="205.00" cy="358.76" r="4.50" fill="url(#gN)"/><circle cx="211.28" cy="359.31" r="3.26" fill="url(#gY)"/><circle cx="223.54" cy="357.87" r="3.60" fill="url(#gL)"/><circle cx="229.49" cy="359.00" r="3.32" fill="url(#gC)"/><circle cx="191.21" cy="363.98" r="4.70" fill="url(#gO)"/><circle cx="197.67" cy="364.88" r="3.22" fill="url(#gC)"/><circle cx="209.76" cy="364.40" r="3.56" fill="url(#gC)"/><circle cx="222.66" cy="364.60" r="3.38" fill="url(#gL)"/><circle cx="228.92" cy="364.84" r="3.35" fill="url(#gC)"/><circle cx="235.87" cy="365.32" r="3.19" fill="url(#gL)"/><circle cx="197.82" cy="370.32" r="4.43" fill="url(#gO)"/><circle cx="203.37" cy="371.43" r="4.87" fill="url(#gR)"/><circle cx="210.28" cy="371.72" r="4.39" fill="url(#gO)"/><circle cx="222.84" cy="371.80" r="3.44" fill="url(#gL)"/><circle cx="229.04" cy="370.67" r="5.07" fill="url(#gO)"/><circle cx="201.25" cy="331.60" r="3.52" fill="url(#gC)"/><circle cx="214.45" cy="335.37" r="3.52" fill="url(#gC)"/><circle cx="228.59" cy="339.14" r="5.88" fill="url(#gG)"/><circle cx="228.59" cy="349.51" r="5.64" fill="url(#gC)"/><circle cx="228.59" cy="359.87" r="5.64" fill="url(#gC)"/><circle cx="210.68" cy="350.45" r="3.52" fill="url(#gC)"/><circle cx="194.66" cy="360.82" r="4.23" fill="url(#gC)"/><circle cx="210.68" cy="364.59" r="3.52" fill="url(#gC)"/><circle cx="212.56" cy="327.83" r="3.52" fill="url(#gC)"/><circle cx="224.82" cy="326.89" r="4.23" fill="url(#gC)"/><circle cx="194.66" cy="339.14" r="3.52" fill="url(#gC)"/><circle cx="210.68" cy="337.25" r="2.82" fill="url(#gC)"/><circle cx="194.66" cy="353.28" r="3.52" fill="url(#gC)"/><circle cx="226.70" cy="332.54" r="3.52" fill="url(#gC)"/><circle cx="210.68" cy="356.10" r="2.82" fill="url(#gC)"/><circle cx="191.83" cy="329.71" r="5.79" fill="url(#gO)"/><circle cx="220.10" cy="331.13" r="4.96" fill="url(#gO)"/><circle cx="236.13" cy="331.13" r="4.96" fill="url(#gO)"/><circle cx="203.14" cy="348.56" r="6.62" fill="url(#gR)"/><circle cx="210.68" cy="342.91" r="4.14" fill="url(#gO)"/><circle cx="217.28" cy="348.56" r="4.96" fill="url(#gO)"/><circle cx="191.83" cy="348.56" r="4.14" fill="url(#gO)"/><circle cx="209.74" cy="358.93" r="4.14" fill="url(#gO)"/><circle cx="198.43" cy="369.30" r="4.14" fill="url(#gO)"/><circle cx="205.97" cy="370.24" r="4.96" fill="url(#gR)"/><circle cx="212.56" cy="369.30" r="4.14" fill="url(#gO)"/><circle cx="226.70" cy="369.30" r="4.96" fill="url(#gO)"/><circle cx="191.83" cy="363.64" r="4.14" fill="url(#gO)"/><circle cx="202.20" cy="341.97" r="7.05" fill="url(#gN)"/><circle cx="219.16" cy="341.97" r="7.05" fill="url(#gN)"/><circle cx="202.20" cy="356.10" r="7.05" fill="url(#gN)"/><circle cx="219.16" cy="356.10" r="6.86" fill="url(#gB)"/><circle cx="198.43" cy="330.66" r="4.12" fill="url(#gB)"/><circle cx="210.68" cy="330.66" r="3.43" fill="url(#gB)"/><circle cx="233.30" cy="330.66" r="4.80" fill="url(#gB)"/><circle cx="236.13" cy="342.91" r="4.12" fill="url(#gB)"/><circle cx="234.24" cy="356.10" r="4.12" fill="url(#gB)"/><circle cx="194.66" cy="369.30" r="4.80" fill="url(#gB)"/><circle cx="220.10" cy="368.36" r="5.49" fill="url(#gB)"/><circle cx="234.24" cy="369.30" r="4.12" fill="url(#gB)"/><circle cx="191.83" cy="345.74" r="3.43" fill="url(#gB)"/><rect x="177.70" y="374.00" width="11.31" height="37.70" fill="rgb(28,28,28)"/><rect x="140.00" y="414.53" width="35.82" height="8.48" fill="rgb(28,28,28)"/><circle cx="147.54" cy="376.83" r="4.12" fill="url(#gB)"/><circle cx="166.39" cy="376.83" r="4.12" fill="url(#gB)"/><circle cx="141.89" cy="382.48" r="4.12" fill="url(#gB)"/><circle cx="152.25" cy="382.48" r="3.43" fill="url(#gB)"/><circle cx="161.68" cy="382.48" r="3.43" fill="url(#gB)"/><circle cx="172.99" cy="382.48" r="4.23" fill="url(#gN)"/><circle cx="147.54" cy="387.20" r="2.82" fill="url(#gC)"/><circle cx="141.89" cy="402.28" r="4.12" fill="url(#gB)"/><circle cx="147.54" cy="396.62" r="2.74" fill="url(#gB)"/><circle cx="152.25" cy="402.28" r="3.52" fill="url(#gC)"/><circle cx="161.68" cy="402.28" r="4.23" fill="url(#gC)"/><circle cx="172.99" cy="402.28" r="5.49" fill="url(#gB)"/><circle cx="166.39" cy="396.62" r="2.82" fill="url(#gC)"/><circle cx="147.54" cy="408.87" r="4.12" fill="url(#gB)"/><circle cx="166.39" cy="408.87" r="4.12" fill="url(#gB)"/><circle cx="152.25" cy="408.87" r="2.74" fill="url(#gB)"/><circle cx="145.66" cy="418.30" r="5.49" fill="url(#gB)"/><circle cx="156.97" cy="418.30" r="6.86" fill="url(#gB)"/><circle cx="165.45" cy="418.30" r="5.49" fill="url(#gB)"/><circle cx="172.99" cy="417.36" r="4.12" fill="url(#gB)"/><circle cx="183.36" cy="376.83" r="5.49" fill="url(#gB)"/><circle cx="183.36" cy="388.14" r="5.49" fill="url(#gB)"/><circle cx="183.36" cy="397.56" r="4.80" fill="url(#gB)"/><circle cx="181.47" cy="407.93" r="5.49" fill="url(#gB)"/><circle cx="186.18" cy="416.41" r="4.80" fill="url(#gB)"/><circle cx="177.70" cy="395.68" r="2.82" fill="url(#gC)"/><circle cx="156.97" cy="376.83" r="2.82" fill="url(#gC)"/><circle cx="141.89" cy="391.91" r="2.82" fill="url(#gC)"/><circle cx="156.97" cy="387.67" r="2.30" fill="url(#gY)"/><circle cx="152.25" cy="391.91" r="2.30" fill="url(#gY)"/><circle cx="161.68" cy="391.91" r="2.30" fill="url(#gY)"/><circle cx="156.97" cy="396.62" r="2.30" fill="url(#gY)"/><circle cx="181.47" cy="415.47" r="4.96" fill="url(#gR)"/><circle cx="177.70" cy="411.70" r="4.14" fill="url(#gR)"/><circle cx="187.13" cy="421.13" r="4.14" fill="url(#gR)"/><circle cx="192.49" cy="377.74" r="4.24" fill="url(#gO)"/><circle cx="199.18" cy="376.45" r="3.52" fill="url(#gC)"/><circle cx="209.62" cy="377.58" r="3.13" fill="url(#gC)"/><circle cx="216.98" cy="377.51" r="3.59" fill="url(#gC)"/><circle cx="234.82" cy="377.79" r="3.76" fill="url(#gL)"/><circle cx="191.29" cy="383.22" r="5.03" fill="url(#gO)"/><circle cx="198.67" cy="383.08" r="3.47" fill="url(#gY)"/><circle cx="205.22" cy="382.36" r="5.07" fill="url(#gR)"/><circle cx="211.12" cy="382.50" r="3.26" fill="url(#gL)"/><circle cx="216.17" cy="383.27" r="3.29" fill="url(#gC)"/><circle cx="223.47" cy="384.04" r="4.60" fill="url(#gR)"/><circle cx="229.60" cy="382.33" r="3.30" fill="url(#gY)"/><circle cx="235.27" cy="383.79" r="4.89" fill="url(#gO)"/><circle cx="193.05" cy="390.03" r="4.55" fill="url(#gR)"/><circle cx="204.80" cy="390.16" r="3.30" fill="url(#gY)"/><circle cx="216.55" cy="388.62" r="3.12" fill="url(#gC)"/><circle cx="222.65" cy="389.65" r="5.30" fill="url(#gR)"/><circle cx="228.08" cy="389.32" r="4.68" fill="url(#gN)"/><circle cx="235.47" cy="389.38" r="4.30" fill="url(#gO)"/><circle cx="192.32" cy="394.96" r="4.71" fill="url(#gO)"/><circle cx="216.86" cy="395.22" r="3.62" fill="url(#gC)"/><circle cx="222.49" cy="395.38" r="3.64" fill="url(#gL)"/><circle cx="228.31" cy="394.81" r="4.28" fill="url(#gN)"/><circle cx="191.93" cy="402.31" r="3.31" fill="url(#gG)"/><circle cx="197.93" cy="400.68" r="3.59" fill="url(#gY)"/><circle cx="203.94" cy="401.46" r="4.83" fill="url(#gO)"/><circle cx="209.51" cy="402.54" r="3.55" fill="url(#gC)"/><circle cx="217.19" cy="401.64" r="3.69" fill="url(#gY)"/><circle cx="222.51" cy="401.35" r="3.29" fill="url(#gG)"/><circle cx="228.42" cy="401.15" r="3.49" fill="url(#gY)"/><circle cx="235.75" cy="402.16" r="3.62" fill="url(#gG)"/><circle cx="191.10" cy="407.21" r="3.43" fill="url(#gC)"/><circle cx="204.70" cy="407.53" r="4.34" fill="url(#gN)"/><circle cx="211.25" cy="407.22" r="3.30" fill="url(#gC)"/><circle cx="229.33" cy="407.32" r="3.56" fill="url(#gL)"/><circle cx="191.86" cy="412.85" r="3.36" fill="url(#gL)"/><circle cx="197.32" cy="414.38" r="3.91" fill="url(#gY)"/><circle cx="210.50" cy="414.61" r="4.27" fill="url(#gO)"/><circle cx="216.45" cy="413.16" r="3.05" fill="url(#gC)"/><circle cx="223.34" cy="412.92" r="5.00" fill="url(#gO)"/><circle cx="228.93" cy="414.21" r="3.26" fill="url(#gY)"/><circle cx="235.75" cy="414.40" r="4.16" fill="url(#gO)"/><circle cx="197.55" cy="419.22" r="4.80" fill="url(#gR)"/><circle cx="203.47" cy="420.53" r="4.56" fill="url(#gO)"/><circle cx="210.85" cy="419.45" r="4.72" fill="url(#gO)"/><circle cx="216.47" cy="420.23" r="3.44" fill="url(#gG)"/><circle cx="223.67" cy="420.63" r="4.90" fill="url(#gO)"/><circle cx="228.50" cy="419.32" r="4.43" fill="url(#gR)"/><circle cx="234.20" cy="420.87" r="4.56" fill="url(#gR)"/><circle cx="210.68" cy="381.54" r="4.23" fill="url(#gC)"/><circle cx="210.68" cy="402.28" r="4.23" fill="url(#gC)"/><circle cx="212.56" cy="394.74" r="3.52" fill="url(#gC)"/><circle cx="191.83" cy="408.87" r="3.52" fill="url(#gC)"/><circle cx="210.68" cy="411.70" r="4.23" fill="url(#gC)"/><circle cx="226.70" cy="396.62" r="4.23" fill="url(#gC)"/><circle cx="194.66" cy="395.68" r="3.52" fill="url(#gC)"/><circle cx="217.28" cy="396.62" r="3.68" fill="url(#gG)"/><circle cx="190.89" cy="378.71" r="5.79" fill="url(#gR)"/><circle cx="203.14" cy="382.48" r="7.44" fill="url(#gR)"/><circle cx="220.10" cy="382.48" r="7.44" fill="url(#gR)"/><circle cx="236.13" cy="383.43" r="4.96" fill="url(#gO)"/><circle cx="190.89" cy="390.97" r="6.62" fill="url(#gR)"/><circle cx="203.14" cy="391.44" r="5.79" fill="url(#gO)"/><circle cx="218.22" cy="391.44" r="5.79" fill="url(#gR)"/><circle cx="236.13" cy="390.97" r="4.14" fill="url(#gO)"/><circle cx="190.89" cy="400.39" r="4.96" fill="url(#gO)"/><circle cx="203.14" cy="402.28" r="6.62" fill="url(#gO)"/><circle cx="217.28" cy="401.33" r="4.96" fill="url(#gO)"/><circle cx="231.41" cy="402.28" r="5.36" fill="url(#gY)"/><circle cx="198.43" cy="416.41" r="6.62" fill="url(#gR)"/><circle cx="209.74" cy="416.41" r="6.62" fill="url(#gO)"/><circle cx="224.82" cy="416.41" r="5.79" fill="url(#gO)"/><circle cx="232.36" cy="418.30" r="6.62" fill="url(#gR)"/><circle cx="204.08" cy="419.24" r="4.14" fill="url(#gO)"/><circle cx="203.14" cy="376.83" r="6.18" fill="url(#gB)"/><circle cx="228.59" cy="376.83" r="6.18" fill="url(#gB)"/><circle cx="198.43" cy="388.14" r="4.80" fill="url(#gB)"/><circle cx="209.74" cy="389.08" r="4.12" fill="url(#gB)"/><circle cx="228.59" cy="390.02" r="7.75" fill="url(#gN)"/><circle cx="199.37" cy="407.93" r="6.18" fill="url(#gB)"/><circle cx="220.10" cy="408.87" r="6.18" fill="url(#gB)"/><circle cx="233.30" cy="408.87" r="4.80" fill="url(#gB)"/><circle cx="197.48" cy="425.83" r="4.80" fill="url(#gB)"/><circle cx="210.68" cy="425.83" r="5.49" fill="url(#gB)"/><circle cx="229.53" cy="425.83" r="6.18" fill="url(#gB)"/><circle cx="190.89" cy="433.37" r="4.12" fill="url(#gB)"/><circle cx="219.16" cy="433.37" r="4.80" fill="url(#gB)"/><circle cx="236.13" cy="433.37" r="3.43" fill="url(#gB)"/><circle cx="210.68" cy="438.08" r="4.80" fill="url(#gB)"/><circle cx="190.89" cy="445.62" r="4.80" fill="url(#gB)"/><circle cx="202.20" cy="445.62" r="5.49" fill="url(#gB)"/><circle cx="219.16" cy="445.62" r="6.18" fill="url(#gB)"/><circle cx="236.13" cy="445.62" r="4.12" fill="url(#gB)"/><circle cx="197.48" cy="454.10" r="4.41" fill="url(#gL)"/><circle cx="210.68" cy="455.05" r="5.49" fill="url(#gB)"/><circle cx="228.59" cy="455.05" r="6.34" fill="url(#gC)"/><circle cx="190.89" cy="463.53" r="4.80" fill="url(#gB)"/><circle cx="219.16" cy="463.53" r="5.64" fill="url(#gC)"/><circle cx="236.13" cy="463.53" r="4.23" fill="url(#gC)"/><circle cx="197.48" cy="472.01" r="3.43" fill="url(#gB)"/><circle cx="210.68" cy="472.01" r="4.12" fill="url(#gB)"/><circle cx="228.59" cy="472.01" r="4.12" fill="url(#gB)"/><circle cx="202.20" cy="432.43" r="3.68" fill="url(#gG)"/><circle cx="228.59" cy="439.02" r="5.36" fill="url(#gY)"/><circle cx="202.20" cy="463.53" r="5.15" fill="url(#gG)"/><circle cx="193.71" cy="438.08" r="2.94" fill="url(#gG)"/><circle cx="228.59" cy="445.62" r="3.06" fill="url(#gY)"/><circle cx="210.68" cy="463.53" r="3.06" fill="url(#gY)"/><g transform="matrix(0,1.01024,0.98987,0,-231.0006,233.3650)"><circle cx="93.53" cy="278.27" r="3.31" fill="url(#gL)"/><circle cx="99.50" cy="278.20" r="3.32" fill="url(#gL)"/><circle cx="107.15" cy="279.66" r="3.59" fill="url(#gC)"/><circle cx="111.88" cy="279.14" r="4.34" fill="url(#gO)"/><circle cx="124.03" cy="278.27" r="3.18" fill="url(#gC)"/><circle cx="131.67" cy="279.72" r="3.62" fill="url(#gL)"/><circle cx="137.54" cy="278.45" r="4.37" fill="url(#gO)"/><circle cx="94.32" cy="285.65" r="3.66" fill="url(#gL)"/><circle cx="100.95" cy="284.36" r="4.67" fill="url(#gO)"/><circle cx="118.91" cy="285.20" r="3.15" fill="url(#gL)"/><circle cx="124.63" cy="284.37" r="3.72" fill="url(#gC)"/><circle cx="137.67" cy="285.28" r="3.24" fill="url(#gL)"/><circle cx="94.88" cy="291.46" r="3.81" fill="url(#gG)"/><circle cx="107.01" cy="291.33" r="3.56" fill="url(#gY)"/><circle cx="112.64" cy="291.17" r="3.35" fill="url(#gY)"/><circle cx="118.17" cy="291.94" r="3.15" fill="url(#gG)"/><circle cx="123.78" cy="291.57" r="3.23" fill="url(#gL)"/><circle cx="130.88" cy="291.25" r="4.40" fill="url(#gO)"/><circle cx="137.93" cy="290.70" r="3.56" fill="url(#gY)"/><circle cx="99.59" cy="297.70" r="3.45" fill="url(#gY)"/><circle cx="106.02" cy="297.93" r="3.48" fill="url(#gY)"/><circle cx="112.55" cy="298.25" r="3.84" fill="url(#gN)"/><circle cx="117.69" cy="296.90" r="3.72" fill="url(#gG)"/><circle cx="124.92" cy="296.91" r="3.27" fill="url(#gC)"/><circle cx="130.17" cy="297.36" r="3.05" fill="url(#gL)"/><circle cx="94.46" cy="304.35" r="3.74" fill="url(#gL)"/><circle cx="100.66" cy="304.48" r="4.07" fill="url(#gO)"/><circle cx="105.89" cy="304.49" r="3.60" fill="url(#gL)"/><circle cx="118.38" cy="304.45" r="3.48" fill="url(#gC)"/><circle cx="137.57" cy="303.15" r="3.16" fill="url(#gL)"/><circle cx="93.95" cy="308.96" r="3.30" fill="url(#gL)"/><circle cx="107.24" cy="309.35" r="3.13" fill="url(#gG)"/><circle cx="111.53" cy="309.03" r="4.85" fill="url(#gO)"/><circle cx="124.41" cy="309.27" r="3.09" fill="url(#gC)"/><circle cx="137.90" cy="309.54" r="4.27" fill="url(#gO)"/><circle cx="93.18" cy="314.92" r="4.23" fill="url(#gO)"/><circle cx="106.67" cy="315.11" r="3.05" fill="url(#gC)"/><circle cx="118.54" cy="315.31" r="4.03" fill="url(#gY)"/><circle cx="123.93" cy="315.87" r="3.60" fill="url(#gL)"/><circle cx="100.01" cy="322.91" r="3.38" fill="url(#gC)"/><circle cx="111.92" cy="321.76" r="4.09" fill="url(#gO)"/><circle cx="136.78" cy="321.43" r="4.96" fill="url(#gO)"/><circle cx="103.25" cy="281.18" r="6.13" fill="url(#gY)"/><circle cx="113.62" cy="280.71" r="7.44" fill="url(#gR)"/><circle cx="125.87" cy="281.18" r="4.93" fill="url(#gC)"/><circle cx="135.30" cy="280.71" r="7.44" fill="url(#gR)"/><circle cx="91.94" cy="280.71" r="4.96" fill="url(#gO)"/><circle cx="97.13" cy="287.78" r="7.44" fill="url(#gR)"/><circle cx="120.22" cy="289.20" r="4.41" fill="url(#gG)"/><circle cx="135.30" cy="288.25" r="3.52" fill="url(#gC)"/><circle cx="92.89" cy="293.91" r="3.68" fill="url(#gG)"/><circle cx="107.02" cy="293.44" r="8.27" fill="url(#gO)"/><circle cx="121.16" cy="294.85" r="7.35" fill="url(#gG)"/><circle cx="134.36" cy="293.44" r="6.62" fill="url(#gR)"/><circle cx="98.07" cy="298.15" r="5.79" fill="url(#gO)"/><circle cx="107.97" cy="300.98" r="5.79" fill="url(#gO)"/><circle cx="121.16" cy="301.45" r="5.15" fill="url(#gG)"/><circle cx="126.82" cy="299.56" r="3.52" fill="url(#gC)"/><circle cx="97.13" cy="305.22" r="6.62" fill="url(#gR)"/><circle cx="107.97" cy="304.28" r="3.52" fill="url(#gC)"/><circle cx="119.28" cy="304.28" r="3.52" fill="url(#gC)"/><circle cx="134.36" cy="304.28" r="3.52" fill="url(#gC)"/><circle cx="91.94" cy="310.87" r="4.14" fill="url(#gO)"/><circle cx="104.20" cy="311.34" r="4.59" fill="url(#gY)"/><circle cx="111.26" cy="311.34" r="6.62" fill="url(#gO)"/><circle cx="125.40" cy="309.93" r="4.93" fill="url(#gC)"/><circle cx="135.30" cy="311.34" r="7.44" fill="url(#gR)"/><circle cx="97.13" cy="317.47" r="7.44" fill="url(#gR)"/><circle cx="107.49" cy="316.53" r="3.52" fill="url(#gC)"/><circle cx="121.16" cy="317.47" r="5.79" fill="url(#gO)"/><circle cx="129.64" cy="317.47" r="3.31" fill="url(#gO)"/><circle cx="103.25" cy="323.13" r="4.23" fill="url(#gC)"/><circle cx="113.62" cy="323.13" r="6.62" fill="url(#gR)"/><circle cx="135.30" cy="323.13" r="6.62" fill="url(#gR)"/><circle cx="113.62" cy="297.68" r="4.23" fill="url(#gN)"/><circle cx="114.56" cy="306.16" r="3.52" fill="url(#gN)"/><circle cx="142.71" cy="278.36" r="3.51" fill="url(#gL)"/><circle cx="148.33" cy="279.13" r="3.52" fill="url(#gY)"/><circle cx="160.55" cy="279.08" r="3.04" fill="url(#gC)"/><circle cx="167.43" cy="278.20" r="3.30" fill="url(#gY)"/><circle cx="179.66" cy="279.72" r="4.40" fill="url(#gR)"/><circle cx="185.38" cy="279.32" r="3.73" fill="url(#gL)"/><circle cx="143.22" cy="284.98" r="3.75" fill="url(#gC)"/><circle cx="148.28" cy="285.90" r="3.23" fill="url(#gC)"/><circle cx="166.85" cy="284.42" r="3.25" fill="url(#gC)"/><circle cx="174.32" cy="284.55" r="3.45" fill="url(#gL)"/><circle cx="180.09" cy="284.93" r="4.61" fill="url(#gO)"/><circle cx="185.06" cy="284.31" r="4.26" fill="url(#gO)"/><circle cx="143.42" cy="291.17" r="3.37" fill="url(#gG)"/><circle cx="149.36" cy="291.22" r="3.24" fill="url(#gL)"/><circle cx="162.03" cy="291.71" r="3.20" fill="url(#gC)"/><circle cx="167.71" cy="291.36" r="3.80" fill="url(#gG)"/><circle cx="174.15" cy="290.89" r="3.76" fill="url(#gC)"/><circle cx="179.05" cy="291.15" r="4.82" fill="url(#gO)"/><circle cx="142.37" cy="297.42" r="3.05" fill="url(#gC)"/><circle cx="155.65" cy="297.97" r="3.45" fill="url(#gL)"/><circle cx="168.31" cy="297.06" r="3.54" fill="url(#gC)"/><circle cx="173.88" cy="297.60" r="3.48" fill="url(#gG)"/><circle cx="180.49" cy="298.33" r="3.37" fill="url(#gL)"/><circle cx="186.27" cy="296.56" r="5.01" fill="url(#gR)"/><circle cx="143.36" cy="304.55" r="3.64" fill="url(#gL)"/><circle cx="148.76" cy="303.33" r="3.52" fill="url(#gL)"/><circle cx="154.36" cy="303.49" r="3.14" fill="url(#gC)"/><circle cx="166.80" cy="302.68" r="3.60" fill="url(#gC)"/><circle cx="172.95" cy="303.06" r="3.31" fill="url(#gC)"/><circle cx="180.56" cy="302.72" r="3.35" fill="url(#gL)"/><circle cx="186.04" cy="304.33" r="4.89" fill="url(#gO)"/><circle cx="143.79" cy="309.24" r="3.33" fill="url(#gL)"/><circle cx="148.91" cy="310.46" r="4.00" fill="url(#gY)"/><circle cx="160.74" cy="309.04" r="3.19" fill="url(#gL)"/><circle cx="167.03" cy="309.66" r="4.65" fill="url(#gO)"/><circle cx="173.21" cy="308.70" r="3.33" fill="url(#gC)"/><circle cx="179.55" cy="309.82" r="5.28" fill="url(#gR)"/><circle cx="143.44" cy="315.84" r="4.68" fill="url(#gO)"/><circle cx="149.54" cy="314.92" r="3.82" fill="url(#gG)"/><circle cx="155.87" cy="316.56" r="4.87" fill="url(#gO)"/><circle cx="161.22" cy="315.61" r="3.31" fill="url(#gY)"/><circle cx="167.83" cy="314.94" r="3.07" fill="url(#gC)"/><circle cx="173.11" cy="315.14" r="4.40" fill="url(#gO)"/><circle cx="178.92" cy="314.81" r="3.24" fill="url(#gG)"/><circle cx="185.14" cy="315.54" r="4.29" fill="url(#gR)"/><circle cx="143.81" cy="322.17" r="3.13" fill="url(#gL)"/><circle cx="154.82" cy="321.63" r="3.29" fill="url(#gL)"/><circle cx="166.81" cy="322.64" r="5.06" fill="url(#gO)"/><circle cx="179.74" cy="321.91" r="4.36" fill="url(#gR)"/><circle cx="141.89" cy="286.37" r="4.23" fill="url(#gC)"/><circle cx="147.54" cy="286.37" r="4.23" fill="url(#gC)"/><circle cx="156.97" cy="287.31" r="4.93" fill="url(#gC)"/><circle cx="165.45" cy="288.25" r="4.23" fill="url(#gC)"/><circle cx="172.99" cy="289.20" r="4.23" fill="url(#gC)"/><circle cx="142.83" cy="296.74" r="3.52" fill="url(#gC)"/><circle cx="151.31" cy="295.79" r="3.52" fill="url(#gC)"/><circle cx="158.85" cy="297.68" r="3.52" fill="url(#gC)"/><circle cx="166.39" cy="296.74" r="4.23" fill="url(#gC)"/><circle cx="173.93" cy="296.74" r="4.23" fill="url(#gC)"/><circle cx="142.83" cy="304.28" r="3.52" fill="url(#gC)"/><circle cx="150.37" cy="302.39" r="3.52" fill="url(#gC)"/><circle cx="157.91" cy="303.33" r="3.52" fill="url(#gC)"/><circle cx="165.45" cy="304.28" r="3.52" fill="url(#gC)"/><circle cx="172.99" cy="306.16" r="3.52" fill="url(#gC)"/><circle cx="147.54" cy="308.05" r="3.52" fill="url(#gC)"/><circle cx="156.02" cy="308.99" r="3.52" fill="url(#gC)"/><circle cx="164.51" cy="308.99" r="3.52" fill="url(#gC)"/><circle cx="145.66" cy="315.59" r="3.52" fill="url(#gC)"/><circle cx="156.02" cy="314.64" r="4.23" fill="url(#gC)"/><circle cx="164.51" cy="314.64" r="4.23" fill="url(#gC)"/><circle cx="172.05" cy="313.70" r="3.52" fill="url(#gC)"/><circle cx="158.85" cy="277.89" r="4.23" fill="url(#gC)"/><circle cx="143.77" cy="284.48" r="2.94" fill="url(#gG)"/><circle cx="147.54" cy="278.83" r="4.96" fill="url(#gO)"/><circle cx="167.33" cy="279.77" r="5.79" fill="url(#gO)"/><circle cx="146.60" cy="292.97" r="3.06" fill="url(#gY)"/><circle cx="141.89" cy="294.85" r="3.31" fill="url(#gO)"/><circle cx="167.33" cy="293.91" r="3.83" fill="url(#gY)"/><circle cx="166.39" cy="311.82" r="5.79" fill="url(#gO)"/><circle cx="172.99" cy="317.47" r="5.79" fill="url(#gO)"/><circle cx="143.77" cy="317.47" r="4.96" fill="url(#gO)"/><circle cx="153.20" cy="317.47" r="4.96" fill="url(#gO)"/><circle cx="160.74" cy="317.47" r="4.96" fill="url(#gO)"/><circle cx="147.54" cy="311.82" r="3.06" fill="url(#gY)"/><circle cx="167.33" cy="323.13" r="4.96" fill="url(#gR)"/><circle cx="146.60" cy="304.28" r="3.06" fill="url(#gY)"/><circle cx="173.93" cy="288.25" r="3.83" fill="url(#gY)"/><circle cx="180.53" cy="279.77" r="6.62" fill="url(#gR)"/><circle cx="183.36" cy="286.37" r="5.79" fill="url(#gR)"/><circle cx="179.59" cy="292.02" r="5.79" fill="url(#gR)"/><circle cx="184.30" cy="298.62" r="5.79" fill="url(#gR)"/><circle cx="181.47" cy="304.28" r="4.96" fill="url(#gO)"/><circle cx="181.47" cy="310.87" r="6.62" fill="url(#gR)"/><circle cx="185.24" cy="316.53" r="5.79" fill="url(#gR)"/><circle cx="181.47" cy="322.18" r="5.79" fill="url(#gR)"/><circle cx="177.70" cy="285.43" r="4.14" fill="url(#gO)"/><circle cx="176.76" cy="299.56" r="4.14" fill="url(#gO)"/><circle cx="177.70" cy="313.70" r="4.14" fill="url(#gO)"/><circle cx="187.13" cy="282.60" r="4.12" fill="url(#gB)"/><circle cx="187.60" cy="293.91" r="4.12" fill="url(#gB)"/><circle cx="178.64" cy="297.68" r="3.02" fill="url(#gB)"/><circle cx="179.59" cy="306.16" r="3.43" fill="url(#gB)"/><circle cx="187.60" cy="310.87" r="4.12" fill="url(#gB)"/><circle cx="187.13" cy="322.18" r="3.43" fill="url(#gB)"/><circle cx="198.33" cy="278.92" r="4.64" fill="url(#gO)"/><circle cx="203.72" cy="279.69" r="3.76" fill="url(#gG)"/><circle cx="210.74" cy="278.38" r="4.58" fill="url(#gO)"/><circle cx="216.22" cy="278.56" r="3.73" fill="url(#gL)"/><circle cx="223.68" cy="278.15" r="4.93" fill="url(#gO)"/><circle cx="229.02" cy="278.83" r="4.57" fill="url(#gR)"/><circle cx="192.41" cy="285.10" r="3.65" fill="url(#gG)"/><circle cx="198.51" cy="284.45" r="4.83" fill="url(#gO)"/><circle cx="205.28" cy="286.13" r="3.48" fill="url(#gC)"/><circle cx="215.65" cy="284.20" r="3.12" fill="url(#gC)"/><circle cx="223.57" cy="284.79" r="4.43" fill="url(#gO)"/><circle cx="229.61" cy="284.82" r="3.43" fill="url(#gC)"/><circle cx="234.81" cy="284.32" r="3.58" fill="url(#gG)"/><circle cx="198.88" cy="290.63" r="4.28" fill="url(#gO)"/><circle cx="204.14" cy="290.39" r="3.39" fill="url(#gL)"/><circle cx="211.07" cy="291.63" r="4.83" fill="url(#gR)"/><circle cx="223.40" cy="290.61" r="4.63" fill="url(#gO)"/><circle cx="228.56" cy="291.52" r="4.38" fill="url(#gR)"/><circle cx="192.61" cy="296.63" r="3.14" fill="url(#gL)"/><circle cx="198.80" cy="298.33" r="4.50" fill="url(#gO)"/><circle cx="210.27" cy="296.93" r="4.56" fill="url(#gR)"/><circle cx="222.92" cy="296.79" r="3.21" fill="url(#gG)"/><circle cx="228.72" cy="296.77" r="3.75" fill="url(#gY)"/><circle cx="235.58" cy="297.99" r="3.38" fill="url(#gL)"/><circle cx="191.76" cy="303.43" r="3.02" fill="url(#gC)"/><circle cx="198.61" cy="303.23" r="4.60" fill="url(#gR)"/><circle cx="203.47" cy="303.46" r="3.57" fill="url(#gG)"/><circle cx="210.22" cy="304.30" r="3.52" fill="url(#gC)"/><circle cx="216.05" cy="303.61" r="3.83" fill="url(#gG)"/><circle cx="222.73" cy="303.77" r="3.17" fill="url(#gG)"/><circle cx="228.79" cy="303.49" r="3.55" fill="url(#gY)"/><circle cx="234.78" cy="303.73" r="3.42" fill="url(#gL)"/><circle cx="198.17" cy="309.02" r="4.50" fill="url(#gO)"/><circle cx="205.25" cy="309.52" r="3.15" fill="url(#gG)"/><circle cx="209.44" cy="309.76" r="4.32" fill="url(#gR)"/><circle cx="215.75" cy="308.91" r="3.36" fill="url(#gL)"/><circle cx="223.67" cy="309.66" r="4.52" fill="url(#gO)"/><circle cx="228.69" cy="309.69" r="4.74" fill="url(#gR)"/><circle cx="192.51" cy="316.61" r="3.66" fill="url(#gG)"/><circle cx="204.16" cy="316.11" r="3.70" fill="url(#gC)"/><circle cx="215.87" cy="315.29" r="3.48" fill="url(#gC)"/><circle cx="223.06" cy="316.10" r="3.70" fill="url(#gY)"/><circle cx="235.60" cy="315.77" r="3.62" fill="url(#gL)"/><circle cx="192.99" cy="321.81" r="3.92" fill="url(#gY)"/><circle cx="198.62" cy="322.71" r="4.10" fill="url(#gO)"/><circle cx="205.14" cy="322.47" r="5.29" fill="url(#gR)"/><circle cx="211.40" cy="321.51" r="3.64" fill="url(#gG)"/><circle cx="215.85" cy="322.13" r="4.99" fill="url(#gO)"/><circle cx="222.07" cy="321.64" r="3.18" fill="url(#gG)"/><circle cx="228.20" cy="321.35" r="3.30" fill="url(#gY)"/><circle cx="235.94" cy="322.71" r="4.53" fill="url(#gO)"/><circle cx="190.89" cy="281.18" r="5.49" fill="url(#gB)"/><circle cx="219.16" cy="281.18" r="5.15" fill="url(#gL)"/><circle cx="236.13" cy="281.18" r="4.12" fill="url(#gB)"/><circle cx="208.79" cy="287.78" r="4.80" fill="url(#gB)"/><circle cx="190.89" cy="292.97" r="4.80" fill="url(#gB)"/><circle cx="203.14" cy="296.26" r="5.49" fill="url(#gB)"/><circle cx="219.16" cy="295.79" r="5.49" fill="url(#gB)"/><circle cx="236.13" cy="292.97" r="4.12" fill="url(#gB)"/><circle cx="190.89" cy="299.56" r="4.12" fill="url(#gB)"/><circle cx="218.22" cy="301.45" r="4.12" fill="url(#gB)"/><circle cx="236.13" cy="300.51" r="4.12" fill="url(#gB)"/><circle cx="190.89" cy="310.87" r="4.80" fill="url(#gB)"/><circle cx="219.16" cy="310.87" r="5.15" fill="url(#gL)"/><circle cx="236.13" cy="309.93" r="4.12" fill="url(#gB)"/><circle cx="197.48" cy="317.47" r="3.43" fill="url(#gB)"/><circle cx="208.79" cy="317.47" r="4.80" fill="url(#gB)"/><circle cx="227.64" cy="317.47" r="5.49" fill="url(#gB)"/><circle cx="236.13" cy="323.13" r="2.74" fill="url(#gB)"/><circle cx="191.83" cy="323.13" r="2.74" fill="url(#gB)"/><circle cx="201.25" cy="281.66" r="5.79" fill="url(#gR)"/><circle cx="210.68" cy="279.77" r="3.31" fill="url(#gO)"/><circle cx="228.59" cy="279.77" r="5.79" fill="url(#gR)"/><circle cx="224.82" cy="286.37" r="3.31" fill="url(#gO)"/><circle cx="210.68" cy="292.97" r="5.79" fill="url(#gR)"/><circle cx="227.64" cy="292.97" r="4.96" fill="url(#gR)"/><circle cx="197.48" cy="294.85" r="4.14" fill="url(#gR)"/><circle cx="210.68" cy="301.45" r="4.14" fill="url(#gR)"/><circle cx="228.59" cy="301.45" r="4.14" fill="url(#gO)"/><circle cx="195.60" cy="307.10" r="4.96" fill="url(#gR)"/><circle cx="210.68" cy="310.87" r="5.79" fill="url(#gR)"/><circle cx="228.59" cy="310.87" r="4.96" fill="url(#gR)"/><circle cx="202.20" cy="322.18" r="4.96" fill="url(#gR)"/><circle cx="217.28" cy="321.24" r="4.14" fill="url(#gR)"/><circle cx="233.30" cy="321.24" r="4.14" fill="url(#gR)"/><circle cx="198.43" cy="286.37" r="3.31" fill="url(#gO)"/><circle cx="226.70" cy="288.25" r="4.23" fill="url(#gC)"/><circle cx="201.25" cy="288.25" r="2.82" fill="url(#gC)"/><circle cx="203.14" cy="304.28" r="4.41" fill="url(#gG)"/><circle cx="217.28" cy="306.16" r="3.68" fill="url(#gG)"/><circle cx="230.47" cy="306.16" r="4.59" fill="url(#gY)"/><circle cx="200.31" cy="314.64" r="2.82" fill="url(#gC)"/><circle cx="218.22" cy="315.59" r="2.82" fill="url(#gC)"/><circle cx="215.39" cy="287.31" r="2.82" fill="url(#gC)"/><circle cx="142.28" cy="328.47" r="4.72" fill="url(#gO)"/><circle cx="150.07" cy="327.60" r="3.21" fill="url(#gL)"/><circle cx="155.78" cy="328.38" r="3.47" fill="url(#gY)"/><circle cx="161.81" cy="327.86" r="3.73" fill="url(#gG)"/><circle cx="172.92" cy="327.51" r="4.97" fill="url(#gO)"/><circle cx="185.65" cy="327.58" r="4.87" fill="url(#gO)"/><circle cx="143.33" cy="333.49" r="4.62" fill="url(#gO)"/><circle cx="155.64" cy="333.52" r="4.72" fill="url(#gO)"/><circle cx="160.68" cy="333.86" r="4.14" fill="url(#gO)"/><circle cx="166.97" cy="335.14" r="3.32" fill="url(#gC)"/><circle cx="174.67" cy="334.06" r="4.67" fill="url(#gO)"/><circle cx="180.56" cy="334.56" r="3.10" fill="url(#gL)"/><circle cx="186.12" cy="334.45" r="3.15" fill="url(#gC)"/><circle cx="142.25" cy="341.06" r="4.58" fill="url(#gO)"/><circle cx="154.70" cy="340.22" r="3.18" fill="url(#gC)"/><circle cx="168.16" cy="340.31" r="3.09" fill="url(#gC)"/><circle cx="174.32" cy="339.49" r="4.34" fill="url(#gO)"/><circle cx="178.87" cy="340.79" r="3.10" fill="url(#gC)"/><circle cx="149.24" cy="345.62" r="4.78" fill="url(#gR)"/><circle cx="155.68" cy="346.51" r="3.36" fill="url(#gC)"/><circle cx="161.41" cy="346.31" r="4.66" fill="url(#gO)"/><circle cx="166.75" cy="346.39" r="4.52" fill="url(#gR)"/><circle cx="180.54" cy="347.32" r="3.17" fill="url(#gG)"/><circle cx="185.22" cy="346.84" r="3.45" fill="url(#gL)"/><circle cx="142.10" cy="352.97" r="5.01" fill="url(#gO)"/><circle cx="155.16" cy="352.26" r="3.56" fill="url(#gG)"/><circle cx="162.32" cy="352.09" r="3.24" fill="url(#gL)"/><circle cx="173.06" cy="352.82" r="4.53" fill="url(#gO)"/><circle cx="179.32" cy="352.34" r="3.04" fill="url(#gL)"/><circle cx="185.56" cy="353.53" r="3.46" fill="url(#gC)"/><circle cx="142.63" cy="359.56" r="4.65" fill="url(#gR)"/><circle cx="154.82" cy="357.76" r="4.20" fill="url(#gO)"/><circle cx="160.84" cy="358.15" r="4.94" fill="url(#gO)"/><circle cx="173.22" cy="358.18" r="4.91" fill="url(#gR)"/><circle cx="186.77" cy="358.27" r="3.59" fill="url(#gC)"/><circle cx="142.80" cy="364.93" r="4.90" fill="url(#gR)"/><circle cx="156.20" cy="365.33" r="4.57" fill="url(#gO)"/><circle cx="162.12" cy="364.55" r="4.45" fill="url(#gO)"/><circle cx="168.48" cy="364.90" r="3.60" fill="url(#gL)"/><circle cx="173.32" cy="365.64" r="4.68" fill="url(#gO)"/><circle cx="148.68" cy="371.80" r="3.60" fill="url(#gY)"/><circle cx="154.99" cy="370.46" r="4.16" fill="url(#gO)"/><circle cx="166.96" cy="371.32" r="4.20" fill="url(#gO)"/><circle cx="179.33" cy="370.83" r="3.43" fill="url(#gL)"/><circle cx="152.25" cy="337.25" r="3.52" fill="url(#gC)"/><circle cx="162.62" cy="338.20" r="3.52" fill="url(#gC)"/><circle cx="171.10" cy="337.25" r="3.52" fill="url(#gC)"/><circle cx="179.59" cy="341.97" r="4.23" fill="url(#gC)"/><circle cx="179.59" cy="351.39" r="4.23" fill="url(#gC)"/><circle cx="179.59" cy="360.82" r="4.23" fill="url(#gC)"/><circle cx="162.62" cy="353.28" r="3.52" fill="url(#gC)"/><circle cx="156.97" cy="364.59" r="3.52" fill="url(#gC)"/><circle cx="168.28" cy="362.70" r="3.52" fill="url(#gC)"/><circle cx="145.66" cy="362.70" r="3.52" fill="url(#gC)"/><circle cx="152.25" cy="351.39" r="2.82" fill="url(#gC)"/><circle cx="147.54" cy="331.60" r="4.12" fill="url(#gB)"/><circle cx="166.39" cy="331.60" r="5.49" fill="url(#gB)"/><circle cx="181.47" cy="330.66" r="4.80" fill="url(#gB)"/><circle cx="183.36" cy="336.31" r="4.12" fill="url(#gB)"/><circle cx="185.24" cy="346.68" r="4.12" fill="url(#gB)"/><circle cx="181.47" cy="355.16" r="4.80" fill="url(#gB)"/><circle cx="184.30" cy="364.59" r="4.80" fill="url(#gB)"/><circle cx="187.13" cy="372.13" r="3.43" fill="url(#gB)"/><circle cx="147.54" cy="341.49" r="4.80" fill="url(#gB)"/><circle cx="156.97" cy="341.49" r="4.12" fill="url(#gB)"/><circle cx="166.39" cy="341.97" r="2.82" fill="url(#gC)"/><circle cx="141.89" cy="348.09" r="4.12" fill="url(#gB)"/><circle cx="172.99" cy="348.09" r="5.49" fill="url(#gB)"/><circle cx="156.02" cy="348.56" r="2.94" fill="url(#gL)"/><circle cx="147.54" cy="355.16" r="4.80" fill="url(#gB)"/><circle cx="165.45" cy="356.10" r="4.80" fill="url(#gB)"/><circle cx="156.97" cy="355.16" r="2.94" fill="url(#gL)"/><circle cx="148.48" cy="364.59" r="4.12" fill="url(#gB)"/><circle cx="166.39" cy="364.59" r="4.41" fill="url(#gL)"/><circle cx="142.83" cy="370.24" r="4.12" fill="url(#gB)"/><circle cx="161.68" cy="370.24" r="3.43" fill="url(#gB)"/><circle cx="172.99" cy="370.24" r="4.12" fill="url(#gB)"/><circle cx="143.77" cy="327.83" r="4.96" fill="url(#gR)"/><circle cx="157.91" cy="326.89" r="4.96" fill="url(#gO)"/><circle cx="171.10" cy="326.89" r="4.14" fill="url(#gO)"/><circle cx="187.60" cy="331.60" r="4.14" fill="url(#gR)"/><circle cx="141.89" cy="341.02" r="5.79" fill="url(#gO)"/><circle cx="174.87" cy="341.02" r="4.14" fill="url(#gO)"/><circle cx="152.25" cy="336.31" r="3.31" fill="url(#gO)"/><circle cx="162.62" cy="336.31" r="4.14" fill="url(#gO)"/><circle cx="147.54" cy="348.56" r="4.14" fill="url(#gR)"/><circle cx="166.39" cy="348.56" r="4.96" fill="url(#gR)"/><circle cx="158.85" cy="348.56" r="3.31" fill="url(#gO)"/><circle cx="141.89" cy="358.93" r="6.62" fill="url(#gR)"/><circle cx="173.93" cy="357.99" r="6.62" fill="url(#gR)"/><circle cx="152.25" cy="357.99" r="4.14" fill="url(#gO)"/><circle cx="160.74" cy="357.99" r="4.14" fill="url(#gO)"/><circle cx="141.89" cy="365.53" r="4.96" fill="url(#gR)"/><circle cx="174.87" cy="364.59" r="4.14" fill="url(#gO)"/><circle cx="153.20" cy="364.59" r="3.31" fill="url(#gO)"/><circle cx="159.79" cy="364.59" r="3.31" fill="url(#gO)"/><circle cx="154.14" cy="372.13" r="4.14" fill="url(#gO)"/><circle cx="167.33" cy="372.13" r="4.14" fill="url(#gO)"/><circle cx="152.25" cy="331.60" r="2.82" fill="url(#gC)"/><circle cx="177.70" cy="336.31" r="3.52" fill="url(#gC)"/><circle cx="162.62" cy="343.85" r="2.82" fill="url(#gC)"/><circle cx="152.25" cy="343.85" r="2.82" fill="url(#gC)"/><circle cx="192.11" cy="328.68" r="5.03" fill="url(#gO)"/><circle cx="203.89" cy="328.59" r="3.55" fill="url(#gC)"/><circle cx="216.89" cy="327.28" r="3.04" fill="url(#gC)"/><circle cx="222.46" cy="328.56" r="3.43" fill="url(#gY)"/><circle cx="234.94" cy="327.70" r="4.91" fill="url(#gO)"/><circle cx="192.95" cy="333.99" r="3.77" fill="url(#gC)"/><circle cx="209.56" cy="334.81" r="3.68" fill="url(#gC)"/><circle cx="221.99" cy="334.60" r="3.44" fill="url(#gC)"/><circle cx="229.72" cy="333.61" r="3.42" fill="url(#gL)"/><circle cx="192.83" cy="340.59" r="3.25" fill="url(#gL)"/><circle cx="197.35" cy="341.19" r="3.49" fill="url(#gG)"/><circle cx="205.31" cy="339.60" r="4.50" fill="url(#gN)"/><circle cx="211.06" cy="341.15" r="4.07" fill="url(#gO)"/><circle cx="216.31" cy="339.42" r="4.45" fill="url(#gN)"/><circle cx="222.40" cy="341.23" r="3.41" fill="url(#gG)"/><circle cx="229.36" cy="341.05" r="3.31" fill="url(#gG)"/><circle cx="192.18" cy="347.35" r="4.59" fill="url(#gO)"/><circle cx="197.91" cy="345.97" r="5.10" fill="url(#gR)"/><circle cx="203.70" cy="346.65" r="4.86" fill="url(#gR)"/><circle cx="210.54" cy="345.70" r="3.51" fill="url(#gC)"/><circle cx="217.40" cy="346.08" r="4.39" fill="url(#gO)"/><circle cx="223.51" cy="346.59" r="3.33" fill="url(#gG)"/><circle cx="227.83" cy="346.94" r="3.28" fill="url(#gC)"/><circle cx="234.87" cy="345.98" r="3.49" fill="url(#gL)"/><circle cx="192.52" cy="352.18" r="3.07" fill="url(#gC)"/><circle cx="205.29" cy="353.38" r="3.76" fill="url(#gN)"/><circle cx="210.57" cy="352.93" r="4.46" fill="url(#gO)"/><circle cx="223.15" cy="353.48" r="3.46" fill="url(#gL)"/><circle cx="228.60" cy="351.95" r="3.21" fill="url(#gC)"/><circle cx="191.36" cy="357.91" r="3.18" fill="url(#gL)"/><circle cx="205.00" cy="358.76" r="4.50" fill="url(#gN)"/><circle cx="211.28" cy="359.31" r="3.26" fill="url(#gY)"/><circle cx="223.54" cy="357.87" r="3.60" fill="url(#gL)"/><circle cx="229.49" cy="359.00" r="3.32" fill="url(#gC)"/><circle cx="191.21" cy="363.98" r="4.70" fill="url(#gO)"/><circle cx="197.67" cy="364.88" r="3.22" fill="url(#gC)"/><circle cx="209.76" cy="364.40" r="3.56" fill="url(#gC)"/><circle cx="222.66" cy="364.60" r="3.38" fill="url(#gL)"/><circle cx="228.92" cy="364.84" r="3.35" fill="url(#gC)"/><circle cx="235.87" cy="365.32" r="3.19" fill="url(#gL)"/><circle cx="197.82" cy="370.32" r="4.43" fill="url(#gO)"/><circle cx="203.37" cy="371.43" r="4.87" fill="url(#gR)"/><circle cx="210.28" cy="371.72" r="4.39" fill="url(#gO)"/><circle cx="222.84" cy="371.80" r="3.44" fill="url(#gL)"/><circle cx="229.04" cy="370.67" r="5.07" fill="url(#gO)"/><circle cx="201.25" cy="331.60" r="3.52" fill="url(#gC)"/><circle cx="214.45" cy="335.37" r="3.52" fill="url(#gC)"/><circle cx="228.59" cy="339.14" r="5.88" fill="url(#gG)"/><circle cx="228.59" cy="349.51" r="5.64" fill="url(#gC)"/><circle cx="228.59" cy="359.87" r="5.64" fill="url(#gC)"/><circle cx="210.68" cy="350.45" r="3.52" fill="url(#gC)"/><circle cx="194.66" cy="360.82" r="4.23" fill="url(#gC)"/><circle cx="210.68" cy="364.59" r="3.52" fill="url(#gC)"/><circle cx="212.56" cy="327.83" r="3.52" fill="url(#gC)"/><circle cx="224.82" cy="326.89" r="4.23" fill="url(#gC)"/><circle cx="194.66" cy="339.14" r="3.52" fill="url(#gC)"/><circle cx="210.68" cy="337.25" r="2.82" fill="url(#gC)"/><circle cx="194.66" cy="353.28" r="3.52" fill="url(#gC)"/><circle cx="226.70" cy="332.54" r="3.52" fill="url(#gC)"/><circle cx="210.68" cy="356.10" r="2.82" fill="url(#gC)"/><circle cx="191.83" cy="329.71" r="5.79" fill="url(#gO)"/><circle cx="220.10" cy="331.13" r="4.96" fill="url(#gO)"/><circle cx="236.13" cy="331.13" r="4.96" fill="url(#gO)"/><circle cx="203.14" cy="348.56" r="6.62" fill="url(#gR)"/><circle cx="210.68" cy="342.91" r="4.14" fill="url(#gO)"/><circle cx="217.28" cy="348.56" r="4.96" fill="url(#gO)"/><circle cx="191.83" cy="348.56" r="4.14" fill="url(#gO)"/><circle cx="209.74" cy="358.93" r="4.14" fill="url(#gO)"/><circle cx="198.43" cy="369.30" r="4.14" fill="url(#gO)"/><circle cx="205.97" cy="370.24" r="4.96" fill="url(#gR)"/><circle cx="212.56" cy="369.30" r="4.14" fill="url(#gO)"/><circle cx="226.70" cy="369.30" r="4.96" fill="url(#gO)"/><circle cx="191.83" cy="363.64" r="4.14" fill="url(#gO)"/><circle cx="202.20" cy="341.97" r="7.05" fill="url(#gN)"/><circle cx="219.16" cy="341.97" r="7.05" fill="url(#gN)"/><circle cx="202.20" cy="356.10" r="7.05" fill="url(#gN)"/><circle cx="219.16" cy="356.10" r="6.86" fill="url(#gB)"/><circle cx="198.43" cy="330.66" r="4.12" fill="url(#gB)"/><circle cx="210.68" cy="330.66" r="3.43" fill="url(#gB)"/><circle cx="233.30" cy="330.66" r="4.80" fill="url(#gB)"/><circle cx="236.13" cy="342.91" r="4.12" fill="url(#gB)"/><circle cx="234.24" cy="356.10" r="4.12" fill="url(#gB)"/><circle cx="194.66" cy="369.30" r="4.80" fill="url(#gB)"/><circle cx="220.10" cy="368.36" r="5.49" fill="url(#gB)"/><circle cx="234.24" cy="369.30" r="4.12" fill="url(#gB)"/><circle cx="191.83" cy="345.74" r="3.43" fill="url(#gB)"/><circle cx="192.49" cy="377.74" r="4.24" fill="url(#gO)"/><circle cx="199.18" cy="376.45" r="3.52" fill="url(#gC)"/><circle cx="209.62" cy="377.58" r="3.13" fill="url(#gC)"/><circle cx="216.98" cy="377.51" r="3.59" fill="url(#gC)"/><circle cx="234.82" cy="377.79" r="3.76" fill="url(#gL)"/><circle cx="191.29" cy="383.22" r="5.03" fill="url(#gO)"/><circle cx="198.67" cy="383.08" r="3.47" fill="url(#gY)"/><circle cx="205.22" cy="382.36" r="5.07" fill="url(#gR)"/><circle cx="211.12" cy="382.50" r="3.26" fill="url(#gL)"/><circle cx="216.17" cy="383.27" r="3.29" fill="url(#gC)"/><circle cx="223.47" cy="384.04" r="4.60" fill="url(#gR)"/><circle cx="229.60" cy="382.33" r="3.30" fill="url(#gY)"/><circle cx="235.27" cy="383.79" r="4.89" fill="url(#gO)"/><circle cx="193.05" cy="390.03" r="4.55" fill="url(#gR)"/><circle cx="204.80" cy="390.16" r="3.30" fill="url(#gY)"/><circle cx="216.55" cy="388.62" r="3.12" fill="url(#gC)"/><circle cx="222.65" cy="389.65" r="5.30" fill="url(#gR)"/><circle cx="228.08" cy="389.32" r="4.68" fill="url(#gN)"/><circle cx="235.47" cy="389.38" r="4.30" fill="url(#gO)"/><circle cx="192.32" cy="394.96" r="4.71" fill="url(#gO)"/><circle cx="216.86" cy="395.22" r="3.62" fill="url(#gC)"/><circle cx="222.49" cy="395.38" r="3.64" fill="url(#gL)"/><circle cx="228.31" cy="394.81" r="4.28" fill="url(#gN)"/><circle cx="191.93" cy="402.31" r="3.31" fill="url(#gG)"/><circle cx="197.93" cy="400.68" r="3.59" fill="url(#gY)"/><circle cx="203.94" cy="401.46" r="4.83" fill="url(#gO)"/><circle cx="209.51" cy="402.54" r="3.55" fill="url(#gC)"/><circle cx="217.19" cy="401.64" r="3.69" fill="url(#gY)"/><circle cx="222.51" cy="401.35" r="3.29" fill="url(#gG)"/><circle cx="228.42" cy="401.15" r="3.49" fill="url(#gY)"/><circle cx="235.75" cy="402.16" r="3.62" fill="url(#gG)"/><circle cx="191.10" cy="407.21" r="3.43" fill="url(#gC)"/><circle cx="204.70" cy="407.53" r="4.34" fill="url(#gN)"/><circle cx="211.25" cy="407.22" r="3.30" fill="url(#gC)"/><circle cx="229.33" cy="407.32" r="3.56" fill="url(#gL)"/><circle cx="191.86" cy="412.85" r="3.36" fill="url(#gL)"/><circle cx="197.32" cy="414.38" r="3.91" fill="url(#gY)"/><circle cx="210.50" cy="414.61" r="4.27" fill="url(#gO)"/><circle cx="216.45" cy="413.16" r="3.05" fill="url(#gC)"/><circle cx="223.34" cy="412.92" r="5.00" fill="url(#gO)"/><circle cx="228.93" cy="414.21" r="3.26" fill="url(#gY)"/><circle cx="235.75" cy="414.40" r="4.16" fill="url(#gO)"/><circle cx="197.55" cy="419.22" r="4.80" fill="url(#gR)"/><circle cx="203.47" cy="420.53" r="4.56" fill="url(#gO)"/><circle cx="210.85" cy="419.45" r="4.72" fill="url(#gO)"/><circle cx="216.47" cy="420.23" r="3.44" fill="url(#gG)"/><circle cx="223.67" cy="420.63" r="4.90" fill="url(#gO)"/><circle cx="228.50" cy="419.32" r="4.43" fill="url(#gR)"/><circle cx="234.20" cy="420.87" r="4.56" fill="url(#gR)"/><circle cx="210.68" cy="381.54" r="4.23" fill="url(#gC)"/><circle cx="210.68" cy="402.28" r="4.23" fill="url(#gC)"/><circle cx="212.56" cy="394.74" r="3.52" fill="url(#gC)"/><circle cx="191.83" cy="408.87" r="3.52" fill="url(#gC)"/><circle cx="210.68" cy="411.70" r="4.23" fill="url(#gC)"/><circle cx="226.70" cy="396.62" r="4.23" fill="url(#gC)"/><circle cx="194.66" cy="395.68" r="3.52" fill="url(#gC)"/><circle cx="217.28" cy="396.62" r="3.68" fill="url(#gG)"/><circle cx="190.89" cy="378.71" r="5.79" fill="url(#gR)"/><circle cx="203.14" cy="382.48" r="7.44" fill="url(#gR)"/><circle cx="220.10" cy="382.48" r="7.44" fill="url(#gR)"/><circle cx="236.13" cy="383.43" r="4.96" fill="url(#gO)"/><circle cx="190.89" cy="390.97" r="6.62" fill="url(#gR)"/><circle cx="203.14" cy="391.44" r="5.79" fill="url(#gO)"/><circle cx="218.22" cy="391.44" r="5.79" fill="url(#gR)"/><circle cx="236.13" cy="390.97" r="4.14" fill="url(#gO)"/><circle cx="190.89" cy="400.39" r="4.96" fill="url(#gO)"/><circle cx="203.14" cy="402.28" r="6.62" fill="url(#gO)"/><circle cx="217.28" cy="401.33" r="4.96" fill="url(#gO)"/><circle cx="231.41" cy="402.28" r="5.36" fill="url(#gY)"/><circle cx="198.43" cy="416.41" r="6.62" fill="url(#gR)"/><circle cx="209.74" cy="416.41" r="6.62" fill="url(#gO)"/><circle cx="224.82" cy="416.41" r="5.79" fill="url(#gO)"/><circle cx="232.36" cy="418.30" r="6.62" fill="url(#gR)"/><circle cx="204.08" cy="419.24" r="4.14" fill="url(#gO)"/><circle cx="203.14" cy="376.83" r="6.18" fill="url(#gB)"/><circle cx="228.59" cy="376.83" r="6.18" fill="url(#gB)"/><circle cx="198.43" cy="388.14" r="4.80" fill="url(#gB)"/><circle cx="209.74" cy="389.08" r="4.12" fill="url(#gB)"/><circle cx="228.59" cy="390.02" r="7.75" fill="url(#gN)"/><circle cx="199.37" cy="407.93" r="6.18" fill="url(#gB)"/><circle cx="220.10" cy="408.87" r="6.18" fill="url(#gB)"/><circle cx="233.30" cy="408.87" r="4.80" fill="url(#gB)"/></g></g></g><g clip-path="url(#clipB)"><g filter="url(#jetB2)"><g transform="matrix(0,1.01024,0.98987,0,-231.0006,233.3650)"></g></g></g><line x1="212.6" y1="276.3" x2="212.6" y2="473.7" stroke="#e8eefa" stroke-width="1" opacity="0.6"/><line x1="42.5" y1="446.2" x2="237.9" y2="446.2" stroke="#e8eefa" stroke-width="1" opacity="0.6"/><rect x="42.0" y="275.8" width="196.40" height="198.40" fill="none" stroke="#111" stroke-width="1.2"/></svg></body></html>
